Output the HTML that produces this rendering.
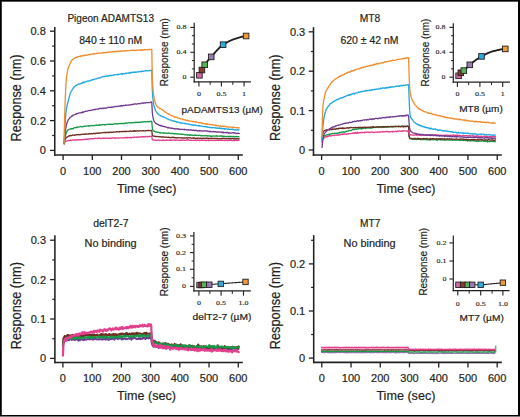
<!DOCTYPE html>
<html><head><meta charset="utf-8"><style>
html,body{margin:0;padding:0;background:#fff;}
svg{display:block;}
</style></head><body>
<svg width="520" height="417" viewBox="0 0 520 417">
<rect x="0" y="0" width="520" height="417" fill="#fff"/>
<line x1="54.75" y1="27" x2="54.75" y2="155.8" stroke="#231f20" stroke-width="1.55"/>
<line x1="54" y1="155" x2="242.8" y2="155" stroke="#231f20" stroke-width="1.65"/>
<line x1="49.95" y1="150.4" x2="54.75" y2="150.4" stroke="#231f20" stroke-width="1.3"/>
<text x="45.8" y="154.3" font-family="Liberation Sans" font-size="11" text-anchor="end" fill="#231f20" stroke="#231f20" stroke-width="0.2">0</text>
<line x1="49.95" y1="120.6" x2="54.75" y2="120.6" stroke="#231f20" stroke-width="1.3"/>
<text x="45.8" y="124.5" font-family="Liberation Sans" font-size="11" text-anchor="end" fill="#231f20" stroke="#231f20" stroke-width="0.2">0.2</text>
<line x1="49.95" y1="90.8" x2="54.75" y2="90.8" stroke="#231f20" stroke-width="1.3"/>
<text x="45.8" y="94.7" font-family="Liberation Sans" font-size="11" text-anchor="end" fill="#231f20" stroke="#231f20" stroke-width="0.2">0.4</text>
<line x1="49.95" y1="61" x2="54.75" y2="61" stroke="#231f20" stroke-width="1.3"/>
<text x="45.8" y="64.9" font-family="Liberation Sans" font-size="11" text-anchor="end" fill="#231f20" stroke="#231f20" stroke-width="0.2">0.6</text>
<line x1="49.95" y1="31.2" x2="54.75" y2="31.2" stroke="#231f20" stroke-width="1.3"/>
<text x="45.8" y="35.1" font-family="Liberation Sans" font-size="11" text-anchor="end" fill="#231f20" stroke="#231f20" stroke-width="0.2">0.8</text>
<line x1="52.15" y1="135.5" x2="54.75" y2="135.5" stroke="#231f20" stroke-width="1.2"/>
<line x1="52.15" y1="105.7" x2="54.75" y2="105.7" stroke="#231f20" stroke-width="1.2"/>
<line x1="52.15" y1="75.9" x2="54.75" y2="75.9" stroke="#231f20" stroke-width="1.2"/>
<line x1="52.15" y1="46.1" x2="54.75" y2="46.1" stroke="#231f20" stroke-width="1.2"/>
<line x1="63.1" y1="155" x2="63.1" y2="160" stroke="#231f20" stroke-width="1.3"/>
<text x="63.1" y="174.6" font-family="Liberation Sans" font-size="11" text-anchor="middle" fill="#231f20" stroke="#231f20" stroke-width="0.2">0</text>
<line x1="92.3" y1="155" x2="92.3" y2="160" stroke="#231f20" stroke-width="1.3"/>
<text x="92.3" y="174.6" font-family="Liberation Sans" font-size="11" text-anchor="middle" fill="#231f20" stroke="#231f20" stroke-width="0.2">100</text>
<line x1="121.5" y1="155" x2="121.5" y2="160" stroke="#231f20" stroke-width="1.3"/>
<text x="121.5" y="174.6" font-family="Liberation Sans" font-size="11" text-anchor="middle" fill="#231f20" stroke="#231f20" stroke-width="0.2">200</text>
<line x1="150.7" y1="155" x2="150.7" y2="160" stroke="#231f20" stroke-width="1.3"/>
<text x="150.7" y="174.6" font-family="Liberation Sans" font-size="11" text-anchor="middle" fill="#231f20" stroke="#231f20" stroke-width="0.2">300</text>
<line x1="179.9" y1="155" x2="179.9" y2="160" stroke="#231f20" stroke-width="1.3"/>
<text x="179.9" y="174.6" font-family="Liberation Sans" font-size="11" text-anchor="middle" fill="#231f20" stroke="#231f20" stroke-width="0.2">400</text>
<line x1="209.1" y1="155" x2="209.1" y2="160" stroke="#231f20" stroke-width="1.3"/>
<text x="209.1" y="174.6" font-family="Liberation Sans" font-size="11" text-anchor="middle" fill="#231f20" stroke="#231f20" stroke-width="0.2">500</text>
<line x1="238.3" y1="155" x2="238.3" y2="160" stroke="#231f20" stroke-width="1.3"/>
<text x="238.3" y="174.6" font-family="Liberation Sans" font-size="11" text-anchor="middle" fill="#231f20" stroke="#231f20" stroke-width="0.2">600</text>
<path d="M64.00,144.50 L64.50,142.93 L65.00,142.04 L65.50,141.49 L66.00,141.26 L66.50,140.94 L67.00,140.96 L67.50,141.05 L68.00,140.61 L68.50,140.49 L69.00,140.62 L69.50,140.53 L70.00,140.43 L70.50,140.20 L71.00,140.33 L71.50,140.43 L72.00,140.04 L72.50,140.17 L73.00,139.89 L73.50,139.98 L74.00,139.85 L74.50,140.12 L75.00,139.91 L75.50,140.17 L76.00,140.13 L76.50,140.04 L77.00,139.60 L77.50,139.93 L78.00,139.99 L78.50,139.99 L79.00,139.67 L79.50,139.83 L80.00,139.71 L80.50,139.71 L81.00,140.00 L81.50,139.62 L82.00,139.71 L82.50,139.82 L83.00,139.49 L83.50,139.52 L84.00,139.50 L84.50,139.43 L85.00,139.14 L85.50,139.32 L86.00,139.49 L86.50,138.91 L87.00,139.28 L87.50,139.09 L88.00,138.90 L88.50,139.33 L89.00,139.05 L89.50,138.65 L90.00,138.84 L90.50,138.88 L91.00,138.70 L91.50,138.82 L92.00,138.65 L92.50,138.75 L93.00,138.86 L93.50,138.45 L94.00,138.58 L94.50,138.44 L95.00,138.52 L95.50,138.27 L96.00,138.36 L96.50,138.41 L97.00,138.59 L97.50,138.62 L98.00,138.17 L98.50,138.25 L99.00,138.50 L99.50,138.01 L100.00,138.27 L100.50,138.33 L101.00,138.56 L101.50,138.45 L102.00,138.26 L102.50,138.24 L103.00,138.26 L103.50,138.57 L104.00,138.21 L104.50,138.22 L105.00,138.33 L105.50,138.24 L106.00,138.22 L106.50,138.04 L107.00,138.24 L107.50,138.15 L108.00,138.43 L108.50,138.33 L109.00,138.20 L109.50,138.32 L110.00,138.13 L110.50,138.37 L111.00,138.17 L111.50,138.27 L112.00,137.92 L112.50,138.21 L113.00,137.83 L113.50,137.76 L114.00,138.06 L114.50,137.94 L115.00,138.12 L115.50,138.49 L116.00,137.92 L116.50,137.95 L117.00,138.09 L117.50,138.13 L118.00,137.99 L118.50,137.98 L119.00,138.13 L119.50,138.08 L120.00,137.79 L120.50,137.94 L121.00,137.95 L121.50,137.74 L122.00,137.95 L122.50,137.74 L123.00,138.05 L123.50,137.89 L124.00,137.85 L124.50,137.71 L125.00,137.77 L125.50,137.41 L126.00,137.55 L126.50,137.79 L127.00,137.32 L127.50,137.83 L128.00,137.34 L128.50,137.77 L129.00,137.46 L129.50,137.73 L130.00,137.59 L130.50,137.26 L131.00,137.74 L131.50,137.75 L132.00,137.45 L132.50,137.39 L133.00,137.38 L133.50,137.21 L134.00,137.56 L134.50,137.23 L135.00,137.30 L135.50,137.14 L136.00,137.14 L136.50,136.99 L137.00,137.42 L137.50,137.14 L138.00,137.32 L138.50,137.12 L139.00,136.96 L139.50,137.00 L140.00,136.93 L140.50,137.01 L141.00,136.91 L141.50,136.90 L142.00,136.68 L142.50,136.75 L143.00,137.17 L143.50,136.72 L144.00,136.63 L144.50,136.85 L145.00,137.02 L145.50,136.47 L146.00,136.67 L146.50,136.57 L147.00,136.34 L147.50,136.76 L148.00,136.60 L148.50,136.59 L149.00,136.41 L149.50,136.60 L150.00,136.40 L150.50,136.44 L151.00,136.24 L151.50,136.20 L151.80,136.64 L152.30,139.60 L152.80,140.02 L153.30,139.99 L153.80,140.01 L154.30,140.24 L154.80,140.08 L155.30,140.12 L155.80,140.16 L156.30,140.38 L156.80,140.29 L157.30,140.24 L157.80,140.08 L158.30,139.93 L158.80,140.36 L159.30,140.36 L159.80,140.17 L160.30,140.29 L160.80,140.34 L161.30,140.35 L161.80,140.37 L162.30,140.12 L162.80,140.48 L163.30,139.98 L163.80,140.36 L164.30,140.30 L164.80,140.37 L165.30,140.55 L165.80,140.48 L166.30,140.01 L166.80,139.92 L167.30,140.37 L167.80,140.04 L168.30,140.22 L168.80,140.38 L169.30,139.93 L169.80,139.85 L170.30,140.28 L170.80,140.24 L171.30,140.19 L171.80,140.24 L172.30,140.08 L172.80,139.96 L173.30,140.21 L173.80,140.06 L174.30,139.94 L174.80,140.33 L175.30,140.23 L175.80,140.32 L176.30,140.07 L176.80,140.13 L177.30,140.07 L177.80,140.09 L178.30,140.29 L178.80,140.11 L179.30,140.32 L179.80,140.32 L180.30,140.62 L180.80,140.01 L181.30,140.42 L181.80,140.24 L182.30,140.26 L182.80,140.00 L183.30,140.18 L183.80,140.40 L184.30,140.25 L184.80,140.28 L185.30,140.22 L185.80,140.48 L186.30,140.27 L186.80,139.88 L187.30,140.15 L187.80,139.92 L188.30,139.69 L188.80,140.18 L189.30,140.52 L189.80,140.29 L190.30,140.07 L190.80,140.11 L191.30,140.49 L191.80,140.32 L192.30,140.30 L192.80,140.28 L193.30,140.30 L193.80,140.44 L194.30,140.39 L194.80,140.33 L195.30,140.11 L195.80,140.39 L196.30,140.18 L196.80,140.50 L197.30,140.07 L197.80,140.28 L198.30,140.30 L198.80,140.07 L199.30,140.62 L199.80,140.57 L200.30,140.23 L200.80,140.45 L201.30,140.38 L201.80,139.84 L202.30,140.36 L202.80,140.30 L203.30,140.33 L203.80,140.12 L204.30,140.27 L204.80,140.29 L205.30,140.54 L205.80,140.38 L206.30,140.32 L206.80,140.60 L207.30,140.23 L207.80,140.26 L208.30,140.00 L208.80,140.61 L209.30,140.51 L209.80,140.50 L210.30,140.46 L210.80,140.36 L211.30,140.38 L211.80,140.29 L212.30,140.30 L212.80,140.35 L213.30,140.61 L213.80,140.44 L214.30,140.33 L214.80,140.24 L215.30,140.23 L215.80,140.64 L216.30,140.44 L216.80,140.36 L217.30,140.29 L217.80,140.15 L218.30,140.34 L218.80,140.51 L219.30,140.29 L219.80,140.32 L220.30,140.32 L220.80,140.38 L221.30,140.08 L221.80,140.32 L222.30,140.21 L222.80,140.52 L223.30,140.23 L223.80,140.47 L224.30,140.64 L224.80,140.31 L225.30,140.26 L225.80,140.41 L226.30,140.37 L226.80,140.20 L227.30,140.46 L227.80,140.74 L228.30,140.33 L228.80,140.34 L229.30,140.19 L229.80,140.44 L230.30,140.16 L230.80,140.18 L231.30,140.61 L231.80,140.22 L232.30,140.58 L232.80,140.66 L233.30,140.43 L233.80,140.49 L234.30,140.74 L234.80,140.36 L235.30,140.29 L235.80,140.15 L236.30,140.40 L236.80,140.66 L237.30,140.57 L237.80,140.23 L238.30,140.24 L238.80,140.31 L239.30,140.45 L239.40,140.36" fill="none" stroke="#e23f8c" stroke-width="1.3" stroke-linejoin="round"/>
<path d="M64.00,144.04 L64.50,141.36 L65.00,139.77 L65.50,138.84 L66.00,138.13 L66.50,137.50 L67.00,137.15 L67.50,137.05 L68.00,136.56 L68.50,136.25 L69.00,135.77 L69.50,135.99 L70.00,135.44 L70.50,135.42 L71.00,135.73 L71.50,135.60 L72.00,135.36 L72.50,135.00 L73.00,135.16 L73.50,135.03 L74.00,135.21 L74.50,135.44 L75.00,135.01 L75.50,134.78 L76.00,134.67 L76.50,134.82 L77.00,134.76 L77.50,134.54 L78.00,134.73 L78.50,134.46 L79.00,134.83 L79.50,134.79 L80.00,134.75 L80.50,134.44 L81.00,134.58 L81.50,134.43 L82.00,134.35 L82.50,134.32 L83.00,134.11 L83.50,134.05 L84.00,134.42 L84.50,134.20 L85.00,134.24 L85.50,134.35 L86.00,133.82 L86.50,133.95 L87.00,134.09 L87.50,134.09 L88.00,133.91 L88.50,134.12 L89.00,133.93 L89.50,133.63 L90.00,133.64 L90.50,133.91 L91.00,133.81 L91.50,133.34 L92.00,133.88 L92.50,133.71 L93.00,133.80 L93.50,133.45 L94.00,133.43 L94.50,133.24 L95.00,133.86 L95.50,133.33 L96.00,133.61 L96.50,133.17 L97.00,133.27 L97.50,132.91 L98.00,133.10 L98.50,133.31 L99.00,132.87 L99.50,133.25 L100.00,133.08 L100.50,132.79 L101.00,132.85 L101.50,132.82 L102.00,132.86 L102.50,132.73 L103.00,132.64 L103.50,132.70 L104.00,132.53 L104.50,132.45 L105.00,132.64 L105.50,132.77 L106.00,132.30 L106.50,132.54 L107.00,132.39 L107.50,132.30 L108.00,132.60 L108.50,132.32 L109.00,132.65 L109.50,132.20 L110.00,132.38 L110.50,132.24 L111.00,132.11 L111.50,132.33 L112.00,132.16 L112.50,132.27 L113.00,132.12 L113.50,131.90 L114.00,132.05 L114.50,132.05 L115.00,132.19 L115.50,131.82 L116.00,131.95 L116.50,131.62 L117.00,132.02 L117.50,131.68 L118.00,131.53 L118.50,131.81 L119.00,132.00 L119.50,131.50 L120.00,131.55 L120.50,131.59 L121.00,131.50 L121.50,131.74 L122.00,131.51 L122.50,131.50 L123.00,131.71 L123.50,131.44 L124.00,131.64 L124.50,131.36 L125.00,131.29 L125.50,131.16 L126.00,131.80 L126.50,131.39 L127.00,131.47 L127.50,131.39 L128.00,131.41 L128.50,131.37 L129.00,131.68 L129.50,131.13 L130.00,131.01 L130.50,131.09 L131.00,131.01 L131.50,131.36 L132.00,131.36 L132.50,131.02 L133.00,130.92 L133.50,131.08 L134.00,131.38 L134.50,130.60 L135.00,131.18 L135.50,130.88 L136.00,131.24 L136.50,130.84 L137.00,130.96 L137.50,130.72 L138.00,130.80 L138.50,131.21 L139.00,131.08 L139.50,130.85 L140.00,130.74 L140.50,130.54 L141.00,130.79 L141.50,130.84 L142.00,130.81 L142.50,130.79 L143.00,130.59 L143.50,130.76 L144.00,130.75 L144.50,130.97 L145.00,131.06 L145.50,130.68 L146.00,130.55 L146.50,130.66 L147.00,130.55 L147.50,130.51 L148.00,130.61 L148.50,130.42 L149.00,130.70 L149.50,130.55 L150.00,130.60 L150.50,130.51 L151.00,130.39 L151.50,130.34 L151.80,130.46 L152.30,135.08 L152.80,135.95 L153.30,135.95 L153.80,136.35 L154.30,136.19 L154.80,136.39 L155.30,136.50 L155.80,136.22 L156.30,136.65 L156.80,136.70 L157.30,136.67 L157.80,136.66 L158.30,136.70 L158.80,136.62 L159.30,136.78 L159.80,136.76 L160.30,136.91 L160.80,136.71 L161.30,137.00 L161.80,137.01 L162.30,136.99 L162.80,136.97 L163.30,137.18 L163.80,136.81 L164.30,137.22 L164.80,137.21 L165.30,137.25 L165.80,137.29 L166.30,137.14 L166.80,137.23 L167.30,137.42 L167.80,137.41 L168.30,137.39 L168.80,137.11 L169.30,137.50 L169.80,137.64 L170.30,137.63 L170.80,137.51 L171.30,137.21 L171.80,137.68 L172.30,137.51 L172.80,137.10 L173.30,137.64 L173.80,137.33 L174.30,137.38 L174.80,137.52 L175.30,137.88 L175.80,137.60 L176.30,137.74 L176.80,138.02 L177.30,138.01 L177.80,137.72 L178.30,137.71 L178.80,137.54 L179.30,137.66 L179.80,137.88 L180.30,137.89 L180.80,137.85 L181.30,138.03 L181.80,137.72 L182.30,137.87 L182.80,138.02 L183.30,138.01 L183.80,138.11 L184.30,138.00 L184.80,137.89 L185.30,138.02 L185.80,137.79 L186.30,137.69 L186.80,138.10 L187.30,137.99 L187.80,138.07 L188.30,137.72 L188.80,137.97 L189.30,137.94 L189.80,137.91 L190.30,137.67 L190.80,138.02 L191.30,138.25 L191.80,138.17 L192.30,138.00 L192.80,138.12 L193.30,138.27 L193.80,137.65 L194.30,138.13 L194.80,138.26 L195.30,138.29 L195.80,138.49 L196.30,138.39 L196.80,138.25 L197.30,138.26 L197.80,138.36 L198.30,138.13 L198.80,138.22 L199.30,138.40 L199.80,138.60 L200.30,138.23 L200.80,138.25 L201.30,138.31 L201.80,138.52 L202.30,138.28 L202.80,138.56 L203.30,138.13 L203.80,138.27 L204.30,138.28 L204.80,138.46 L205.30,138.52 L205.80,138.07 L206.30,138.18 L206.80,138.41 L207.30,138.24 L207.80,138.09 L208.30,138.56 L208.80,138.47 L209.30,138.47 L209.80,138.31 L210.30,138.58 L210.80,138.36 L211.30,138.61 L211.80,138.25 L212.30,138.27 L212.80,138.47 L213.30,138.31 L213.80,138.56 L214.30,138.50 L214.80,138.29 L215.30,138.47 L215.80,138.40 L216.30,138.64 L216.80,138.36 L217.30,138.40 L217.80,138.71 L218.30,138.90 L218.80,138.86 L219.30,138.52 L219.80,138.55 L220.30,138.79 L220.80,138.50 L221.30,138.35 L221.80,138.55 L222.30,138.62 L222.80,138.39 L223.30,138.25 L223.80,138.30 L224.30,138.68 L224.80,138.43 L225.30,138.54 L225.80,138.61 L226.30,138.69 L226.80,138.52 L227.30,138.68 L227.80,138.43 L228.30,138.53 L228.80,138.42 L229.30,138.81 L229.80,138.61 L230.30,138.49 L230.80,138.56 L231.30,138.59 L231.80,138.76 L232.30,138.35 L232.80,138.46 L233.30,138.58 L233.80,139.11 L234.30,138.83 L234.80,138.64 L235.30,138.79 L235.80,139.04 L236.30,138.63 L236.80,138.61 L237.30,138.90 L237.80,138.78 L238.30,138.81 L238.80,138.60 L239.30,139.05 L239.40,139.01" fill="none" stroke="#6d2e20" stroke-width="1.3" stroke-linejoin="round"/>
<path d="M64.00,144.10 L64.50,140.08 L65.00,137.02 L65.50,135.61 L66.00,133.79 L66.50,132.45 L67.00,131.38 L67.50,130.43 L68.00,129.75 L68.50,129.81 L69.00,129.38 L69.50,129.27 L70.00,129.07 L70.50,128.98 L71.00,128.49 L71.50,129.01 L72.00,128.71 L72.50,128.75 L73.00,128.78 L73.50,128.30 L74.00,127.85 L74.50,127.88 L75.00,127.69 L75.50,127.69 L76.00,127.67 L76.50,127.17 L77.00,127.47 L77.50,127.03 L78.00,127.24 L78.50,127.06 L79.00,126.93 L79.50,126.88 L80.00,126.71 L80.50,126.61 L81.00,126.34 L81.50,126.56 L82.00,126.83 L82.50,126.79 L83.00,126.62 L83.50,126.45 L84.00,126.15 L84.50,126.48 L85.00,126.16 L85.50,126.12 L86.00,126.03 L86.50,126.06 L87.00,125.92 L87.50,125.95 L88.00,125.73 L88.50,125.82 L89.00,126.26 L89.50,125.80 L90.00,125.73 L90.50,125.83 L91.00,125.83 L91.50,125.46 L92.00,125.59 L92.50,125.75 L93.00,125.60 L93.50,125.54 L94.00,125.76 L94.50,125.32 L95.00,125.41 L95.50,125.27 L96.00,125.59 L96.50,124.93 L97.00,125.13 L97.50,125.11 L98.00,125.29 L98.50,125.25 L99.00,125.35 L99.50,124.78 L100.00,125.16 L100.50,124.94 L101.00,124.83 L101.50,125.02 L102.00,124.72 L102.50,124.47 L103.00,124.74 L103.50,124.51 L104.00,124.62 L104.50,124.77 L105.00,124.73 L105.50,124.92 L106.00,124.56 L106.50,124.29 L107.00,124.39 L107.50,124.33 L108.00,124.24 L108.50,124.50 L109.00,124.27 L109.50,124.00 L110.00,124.45 L110.50,124.27 L111.00,124.32 L111.50,124.24 L112.00,124.30 L112.50,124.16 L113.00,124.34 L113.50,124.16 L114.00,124.12 L114.50,124.08 L115.00,123.71 L115.50,123.91 L116.00,123.86 L116.50,123.91 L117.00,123.59 L117.50,124.10 L118.00,123.79 L118.50,123.52 L119.00,123.39 L119.50,123.61 L120.00,123.61 L120.50,123.47 L121.00,123.58 L121.50,123.41 L122.00,123.59 L122.50,123.32 L123.00,123.41 L123.50,123.56 L124.00,123.81 L124.50,123.13 L125.00,123.19 L125.50,123.08 L126.00,123.34 L126.50,122.95 L127.00,123.03 L127.50,123.08 L128.00,122.87 L128.50,122.84 L129.00,122.89 L129.50,122.56 L130.00,122.64 L130.50,122.79 L131.00,122.85 L131.50,122.75 L132.00,122.43 L132.50,122.63 L133.00,122.82 L133.50,122.73 L134.00,122.58 L134.50,122.40 L135.00,122.64 L135.50,122.38 L136.00,122.24 L136.50,122.27 L137.00,122.63 L137.50,122.37 L138.00,122.51 L138.50,122.17 L139.00,122.39 L139.50,122.08 L140.00,122.12 L140.50,122.56 L141.00,122.21 L141.50,121.95 L142.00,121.99 L142.50,122.02 L143.00,122.15 L143.50,121.80 L144.00,121.54 L144.50,121.77 L145.00,121.79 L145.50,121.77 L146.00,121.95 L146.50,121.73 L147.00,121.79 L147.50,121.41 L148.00,121.72 L148.50,121.91 L149.00,121.64 L149.50,121.51 L150.00,121.45 L150.50,121.71 L151.00,121.19 L151.50,121.30 L151.80,121.38 L152.30,128.00 L152.80,129.93 L153.30,130.66 L153.80,131.17 L154.30,131.41 L154.80,131.44 L155.30,131.80 L155.80,132.09 L156.30,131.87 L156.80,132.10 L157.30,132.34 L157.80,132.11 L158.30,132.41 L158.80,132.25 L159.30,132.70 L159.80,132.98 L160.30,132.98 L160.80,132.63 L161.30,132.86 L161.80,132.80 L162.30,132.85 L162.80,133.16 L163.30,132.68 L163.80,133.15 L164.30,132.99 L164.80,133.28 L165.30,133.10 L165.80,132.97 L166.30,133.18 L166.80,133.29 L167.30,133.19 L167.80,133.30 L168.30,133.15 L168.80,132.89 L169.30,133.47 L169.80,133.46 L170.30,133.39 L170.80,133.41 L171.30,133.61 L171.80,133.38 L172.30,133.36 L172.80,133.49 L173.30,133.77 L173.80,133.34 L174.30,133.83 L174.80,133.54 L175.30,133.50 L175.80,133.96 L176.30,133.76 L176.80,133.58 L177.30,133.80 L177.80,134.08 L178.30,134.17 L178.80,133.92 L179.30,134.12 L179.80,134.22 L180.30,134.02 L180.80,134.25 L181.30,134.23 L181.80,134.18 L182.30,134.24 L182.80,134.38 L183.30,134.42 L183.80,134.36 L184.30,134.43 L184.80,134.75 L185.30,134.63 L185.80,134.80 L186.30,134.90 L186.80,134.83 L187.30,135.17 L187.80,134.66 L188.30,134.99 L188.80,134.83 L189.30,135.26 L189.80,135.26 L190.30,134.64 L190.80,134.86 L191.30,135.18 L191.80,135.24 L192.30,135.26 L192.80,135.15 L193.30,135.28 L193.80,135.34 L194.30,135.24 L194.80,135.47 L195.30,134.91 L195.80,135.45 L196.30,135.18 L196.80,135.56 L197.30,135.37 L197.80,135.28 L198.30,135.53 L198.80,135.32 L199.30,135.34 L199.80,135.25 L200.30,135.55 L200.80,135.67 L201.30,135.78 L201.80,135.59 L202.30,135.83 L202.80,135.67 L203.30,135.67 L203.80,135.81 L204.30,135.91 L204.80,135.68 L205.30,135.72 L205.80,135.75 L206.30,135.82 L206.80,135.66 L207.30,136.02 L207.80,135.79 L208.30,135.96 L208.80,135.75 L209.30,135.98 L209.80,136.00 L210.30,135.87 L210.80,136.33 L211.30,136.05 L211.80,136.32 L212.30,136.19 L212.80,135.91 L213.30,135.98 L213.80,136.14 L214.30,136.09 L214.80,136.10 L215.30,136.06 L215.80,135.80 L216.30,136.10 L216.80,135.76 L217.30,136.24 L217.80,136.06 L218.30,136.07 L218.80,136.18 L219.30,136.28 L219.80,135.99 L220.30,135.94 L220.80,136.08 L221.30,135.92 L221.80,136.13 L222.30,136.60 L222.80,136.14 L223.30,136.46 L223.80,136.11 L224.30,136.42 L224.80,136.32 L225.30,136.38 L225.80,136.51 L226.30,136.73 L226.80,136.46 L227.30,136.46 L227.80,136.28 L228.30,136.57 L228.80,136.43 L229.30,136.64 L229.80,136.49 L230.30,136.82 L230.80,136.16 L231.30,136.48 L231.80,136.70 L232.30,136.49 L232.80,136.42 L233.30,136.53 L233.80,136.34 L234.30,136.62 L234.80,137.05 L235.30,136.82 L235.80,136.43 L236.30,136.48 L236.80,136.58 L237.30,136.84 L237.80,136.52 L238.30,136.55 L238.80,136.85 L239.30,136.85 L239.40,136.63" fill="none" stroke="#17994a" stroke-width="1.3" stroke-linejoin="round"/>
<path d="M64.00,143.80 L64.50,139.10 L65.00,134.42 L65.50,129.65 L66.00,127.13 L66.50,124.62 L67.00,123.00 L67.50,121.82 L68.00,120.58 L68.50,119.30 L69.00,118.96 L69.50,118.40 L70.00,117.54 L70.50,117.04 L71.00,116.78 L71.50,116.14 L72.00,116.35 L72.50,115.34 L73.00,115.28 L73.50,115.15 L74.00,114.90 L74.50,114.74 L75.00,114.54 L75.50,114.25 L76.00,114.31 L76.50,113.54 L77.00,113.75 L77.50,113.46 L78.00,113.46 L78.50,113.32 L79.00,112.97 L79.50,112.87 L80.00,112.99 L80.50,112.77 L81.00,112.45 L81.50,112.80 L82.00,112.72 L82.50,111.90 L83.00,112.09 L83.50,112.36 L84.00,111.92 L84.50,111.70 L85.00,111.50 L85.50,111.32 L86.00,111.27 L86.50,111.09 L87.00,111.21 L87.50,110.90 L88.00,110.78 L88.50,110.54 L89.00,110.64 L89.50,110.38 L90.00,110.41 L90.50,110.53 L91.00,110.31 L91.50,110.24 L92.00,110.11 L92.50,109.96 L93.00,109.84 L93.50,109.71 L94.00,109.81 L94.50,109.39 L95.00,109.74 L95.50,109.42 L96.00,109.19 L96.50,109.16 L97.00,109.04 L97.50,109.11 L98.00,108.88 L98.50,109.13 L99.00,108.71 L99.50,108.37 L100.00,108.57 L100.50,108.27 L101.00,108.55 L101.50,108.67 L102.00,108.53 L102.50,108.10 L103.00,108.14 L103.50,108.52 L104.00,108.19 L104.50,108.07 L105.00,108.19 L105.50,108.38 L106.00,108.10 L106.50,107.83 L107.00,107.80 L107.50,107.78 L108.00,107.49 L108.50,107.35 L109.00,107.48 L109.50,107.24 L110.00,107.34 L110.50,107.30 L111.00,107.64 L111.50,107.00 L112.00,107.07 L112.50,107.00 L113.00,107.04 L113.50,107.09 L114.00,106.75 L114.50,106.62 L115.00,106.41 L115.50,106.48 L116.00,106.68 L116.50,106.53 L117.00,106.27 L117.50,106.32 L118.00,106.33 L118.50,106.35 L119.00,106.09 L119.50,106.09 L120.00,105.74 L120.50,105.80 L121.00,106.24 L121.50,105.49 L122.00,105.75 L122.50,105.79 L123.00,105.62 L123.50,105.48 L124.00,105.55 L124.50,105.49 L125.00,105.41 L125.50,105.02 L126.00,105.27 L126.50,105.08 L127.00,105.07 L127.50,105.14 L128.00,105.15 L128.50,105.14 L129.00,104.82 L129.50,105.01 L130.00,104.99 L130.50,104.92 L131.00,104.90 L131.50,104.56 L132.00,104.49 L132.50,104.61 L133.00,104.15 L133.50,104.37 L134.00,104.17 L134.50,104.14 L135.00,103.83 L135.50,103.92 L136.00,104.01 L136.50,104.11 L137.00,104.07 L137.50,103.81 L138.00,103.73 L138.50,103.55 L139.00,103.71 L139.50,103.53 L140.00,103.62 L140.50,103.77 L141.00,103.38 L141.50,103.06 L142.00,103.11 L142.50,102.94 L143.00,102.93 L143.50,103.32 L144.00,103.06 L144.50,102.69 L145.00,103.02 L145.50,103.07 L146.00,102.72 L146.50,102.60 L147.00,102.60 L147.50,102.65 L148.00,102.66 L148.50,102.70 L149.00,102.64 L149.50,102.58 L150.00,102.55 L150.50,102.37 L151.00,101.92 L151.50,102.11 L151.80,102.16 L152.30,112.16 L152.80,116.39 L153.30,118.53 L153.80,120.48 L154.30,121.44 L154.80,122.19 L155.30,122.96 L155.80,123.49 L156.30,123.77 L156.80,123.59 L157.30,124.19 L157.80,124.47 L158.30,124.59 L158.80,125.00 L159.30,125.36 L159.80,125.23 L160.30,125.27 L160.80,126.00 L161.30,125.71 L161.80,125.72 L162.30,126.13 L162.80,126.31 L163.30,126.25 L163.80,126.66 L164.30,126.56 L164.80,126.61 L165.30,126.93 L165.80,127.16 L166.30,127.02 L166.80,127.31 L167.30,127.34 L167.80,127.97 L168.30,127.44 L168.80,127.91 L169.30,127.75 L169.80,127.82 L170.30,128.07 L170.80,128.18 L171.30,128.33 L171.80,128.24 L172.30,128.15 L172.80,128.24 L173.30,128.50 L173.80,128.58 L174.30,128.79 L174.80,128.68 L175.30,128.86 L175.80,129.00 L176.30,128.81 L176.80,128.57 L177.30,128.68 L177.80,128.69 L178.30,129.29 L178.80,128.90 L179.30,129.32 L179.80,129.25 L180.30,129.50 L180.80,129.42 L181.30,129.27 L181.80,129.30 L182.30,129.39 L182.80,129.46 L183.30,129.37 L183.80,129.51 L184.30,129.84 L184.80,129.29 L185.30,129.69 L185.80,129.52 L186.30,129.76 L186.80,129.92 L187.30,129.80 L187.80,129.99 L188.30,129.60 L188.80,130.12 L189.30,129.85 L189.80,130.11 L190.30,130.07 L190.80,129.61 L191.30,129.97 L191.80,130.19 L192.30,130.46 L192.80,130.27 L193.30,130.30 L193.80,130.04 L194.30,130.59 L194.80,130.69 L195.30,130.41 L195.80,130.40 L196.30,130.18 L196.80,130.67 L197.30,131.03 L197.80,130.71 L198.30,130.85 L198.80,130.76 L199.30,130.52 L199.80,130.98 L200.30,130.55 L200.80,130.77 L201.30,130.90 L201.80,131.04 L202.30,130.99 L202.80,131.03 L203.30,130.86 L203.80,130.80 L204.30,131.08 L204.80,130.97 L205.30,130.90 L205.80,130.95 L206.30,131.12 L206.80,130.91 L207.30,131.04 L207.80,131.02 L208.30,131.39 L208.80,131.46 L209.30,131.79 L209.80,131.19 L210.30,131.37 L210.80,131.70 L211.30,131.53 L211.80,131.54 L212.30,131.94 L212.80,131.61 L213.30,131.50 L213.80,131.50 L214.30,131.84 L214.80,131.86 L215.30,131.60 L215.80,131.70 L216.30,132.01 L216.80,132.05 L217.30,131.87 L217.80,132.13 L218.30,132.15 L218.80,131.76 L219.30,132.06 L219.80,132.22 L220.30,132.08 L220.80,131.83 L221.30,132.20 L221.80,132.42 L222.30,132.60 L222.80,131.95 L223.30,132.85 L223.80,132.21 L224.30,132.62 L224.80,132.70 L225.30,132.69 L225.80,132.57 L226.30,132.37 L226.80,132.72 L227.30,132.51 L227.80,132.22 L228.30,133.22 L228.80,132.87 L229.30,133.10 L229.80,132.64 L230.30,133.10 L230.80,133.15 L231.30,133.18 L231.80,132.93 L232.30,132.74 L232.80,132.96 L233.30,132.63 L233.80,132.75 L234.30,133.10 L234.80,132.94 L235.30,133.12 L235.80,133.16 L236.30,133.56 L236.80,133.47 L237.30,133.26 L237.80,133.52 L238.30,133.19 L238.80,133.30 L239.30,133.56 L239.40,133.18" fill="none" stroke="#6f3a8f" stroke-width="1.3" stroke-linejoin="round"/>
<path d="M64.00,142.95 L64.50,133.64 L65.00,126.02 L65.50,118.32 L66.00,111.86 L66.50,108.72 L67.00,106.08 L67.50,103.79 L68.00,101.51 L68.50,99.81 L69.00,97.96 L69.50,95.84 L70.00,94.07 L70.50,93.01 L71.00,91.74 L71.50,91.00 L72.00,90.05 L72.50,89.27 L73.00,88.64 L73.50,87.80 L74.00,87.27 L74.50,86.53 L75.00,86.32 L75.50,85.74 L76.00,85.62 L76.50,85.16 L77.00,85.06 L77.50,84.86 L78.00,84.28 L78.50,84.17 L79.00,83.93 L79.50,84.03 L80.00,84.01 L80.50,83.67 L81.00,83.28 L81.50,83.43 L82.00,82.72 L82.50,83.09 L83.00,82.53 L83.50,81.97 L84.00,82.78 L84.50,82.42 L85.00,81.78 L85.50,81.84 L86.00,81.62 L86.50,81.53 L87.00,81.10 L87.50,81.11 L88.00,81.17 L88.50,80.99 L89.00,81.03 L89.50,80.70 L90.00,80.97 L90.50,80.29 L91.00,80.33 L91.50,79.81 L92.00,79.79 L92.50,80.12 L93.00,79.58 L93.50,79.71 L94.00,79.47 L94.50,79.15 L95.00,79.14 L95.50,78.96 L96.00,78.82 L96.50,78.88 L97.00,78.70 L97.50,78.31 L98.00,78.09 L98.50,78.13 L99.00,77.90 L99.50,77.93 L100.00,78.07 L100.50,77.58 L101.00,77.27 L101.50,77.10 L102.00,76.83 L102.50,76.69 L103.00,76.55 L103.50,76.54 L104.00,76.42 L104.50,76.53 L105.00,76.23 L105.50,76.17 L106.00,75.90 L106.50,76.32 L107.00,76.04 L107.50,76.19 L108.00,75.93 L108.50,75.98 L109.00,75.59 L109.50,75.69 L110.00,75.98 L110.50,75.20 L111.00,75.57 L111.50,75.60 L112.00,75.30 L112.50,75.30 L113.00,75.32 L113.50,74.91 L114.00,75.04 L114.50,74.74 L115.00,74.71 L115.50,74.66 L116.00,74.68 L116.50,74.67 L117.00,74.66 L117.50,74.24 L118.00,74.80 L118.50,74.58 L119.00,74.43 L119.50,74.16 L120.00,74.14 L120.50,74.19 L121.00,74.10 L121.50,73.64 L122.00,74.02 L122.50,74.36 L123.00,73.41 L123.50,73.87 L124.00,73.68 L124.50,73.53 L125.00,73.73 L125.50,73.20 L126.00,73.38 L126.50,73.55 L127.00,73.18 L127.50,73.07 L128.00,73.11 L128.50,72.94 L129.00,73.24 L129.50,72.72 L130.00,72.99 L130.50,72.53 L131.00,72.82 L131.50,72.61 L132.00,72.09 L132.50,72.50 L133.00,72.24 L133.50,72.30 L134.00,72.60 L134.50,72.05 L135.00,71.99 L135.50,72.39 L136.00,72.09 L136.50,72.29 L137.00,72.00 L137.50,71.72 L138.00,71.81 L138.50,71.99 L139.00,71.87 L139.50,71.64 L140.00,71.58 L140.50,71.49 L141.00,71.35 L141.50,71.75 L142.00,71.34 L142.50,71.07 L143.00,71.13 L143.50,71.29 L144.00,71.22 L144.50,71.01 L145.00,70.86 L145.50,70.93 L146.00,70.55 L146.50,70.56 L147.00,70.90 L147.50,70.60 L148.00,70.70 L148.50,70.80 L149.00,70.64 L149.50,70.46 L150.00,70.80 L150.50,70.47 L151.00,70.22 L151.50,70.37 L151.80,70.28 L152.30,89.99 L152.80,97.69 L153.30,101.76 L153.80,104.97 L154.30,107.04 L154.80,108.64 L155.30,109.73 L155.80,111.03 L156.30,111.96 L156.80,112.72 L157.30,113.10 L157.80,113.94 L158.30,114.03 L158.80,114.59 L159.30,115.21 L159.80,115.14 L160.30,115.45 L160.80,116.01 L161.30,115.99 L161.80,116.24 L162.30,116.58 L162.80,116.96 L163.30,116.59 L163.80,117.07 L164.30,117.27 L164.80,117.48 L165.30,117.76 L165.80,117.99 L166.30,118.42 L166.80,118.42 L167.30,118.83 L167.80,119.09 L168.30,119.09 L168.80,119.45 L169.30,119.93 L169.80,119.88 L170.30,119.88 L170.80,120.17 L171.30,120.19 L171.80,120.58 L172.30,120.85 L172.80,120.69 L173.30,120.96 L173.80,121.35 L174.30,121.19 L174.80,121.45 L175.30,121.36 L175.80,121.53 L176.30,121.71 L176.80,122.31 L177.30,121.97 L177.80,122.06 L178.30,122.17 L178.80,122.35 L179.30,122.60 L179.80,122.62 L180.30,123.06 L180.80,122.84 L181.30,123.16 L181.80,123.05 L182.30,123.21 L182.80,122.93 L183.30,123.27 L183.80,123.37 L184.30,123.44 L184.80,123.19 L185.30,123.83 L185.80,123.69 L186.30,123.78 L186.80,123.90 L187.30,124.00 L187.80,124.20 L188.30,123.99 L188.80,124.14 L189.30,124.45 L189.80,124.51 L190.30,124.51 L190.80,124.56 L191.30,124.60 L191.80,124.82 L192.30,125.13 L192.80,124.81 L193.30,125.35 L193.80,125.31 L194.30,125.16 L194.80,125.46 L195.30,125.13 L195.80,125.16 L196.30,125.32 L196.80,125.55 L197.30,125.64 L197.80,125.68 L198.30,125.86 L198.80,125.53 L199.30,126.07 L199.80,125.80 L200.30,126.00 L200.80,126.12 L201.30,126.05 L201.80,126.08 L202.30,126.21 L202.80,126.46 L203.30,126.63 L203.80,126.69 L204.30,126.47 L204.80,126.57 L205.30,126.61 L205.80,126.92 L206.30,126.54 L206.80,127.19 L207.30,126.94 L207.80,126.94 L208.30,127.20 L208.80,127.39 L209.30,127.32 L209.80,127.51 L210.30,127.40 L210.80,127.65 L211.30,127.71 L211.80,127.52 L212.30,127.86 L212.80,127.68 L213.30,127.72 L213.80,127.59 L214.30,127.76 L214.80,128.00 L215.30,127.68 L215.80,128.08 L216.30,128.08 L216.80,128.12 L217.30,127.72 L217.80,128.15 L218.30,128.33 L218.80,128.13 L219.30,128.33 L219.80,127.93 L220.30,128.53 L220.80,128.34 L221.30,128.66 L221.80,128.22 L222.30,128.72 L222.80,128.60 L223.30,128.84 L223.80,128.57 L224.30,128.67 L224.80,129.23 L225.30,128.72 L225.80,128.79 L226.30,128.91 L226.80,128.82 L227.30,129.26 L227.80,129.40 L228.30,129.00 L228.80,128.86 L229.30,129.42 L229.80,129.45 L230.30,129.44 L230.80,129.54 L231.30,129.22 L231.80,129.39 L232.30,129.21 L232.80,129.24 L233.30,129.71 L233.80,129.46 L234.30,130.03 L234.80,129.67 L235.30,129.58 L235.80,129.87 L236.30,130.09 L236.80,129.89 L237.30,129.63 L237.80,129.95 L238.30,130.17 L238.80,129.87 L239.30,129.85 L239.40,130.18" fill="none" stroke="#1ca8e0" stroke-width="1.3" stroke-linejoin="round"/>
<path d="M64.00,144.03 L64.50,120.69 L65.00,105.15 L65.50,92.93 L66.00,83.35 L66.50,77.64 L67.00,73.91 L67.50,71.12 L68.00,68.74 L68.50,67.49 L69.00,66.16 L69.50,64.77 L70.00,63.70 L70.50,62.41 L71.00,61.52 L71.50,61.12 L72.00,60.12 L72.50,59.35 L73.00,59.45 L73.50,58.74 L74.00,58.49 L74.50,58.01 L75.00,57.78 L75.50,57.58 L76.00,57.53 L76.50,57.47 L77.00,56.82 L77.50,57.21 L78.00,56.70 L78.50,56.57 L79.00,56.74 L79.50,56.46 L80.00,56.05 L80.50,56.53 L81.00,55.91 L81.50,55.99 L82.00,55.86 L82.50,55.97 L83.00,55.52 L83.50,55.68 L84.00,55.27 L84.50,55.51 L85.00,55.08 L85.50,55.06 L86.00,55.38 L86.50,55.02 L87.00,54.90 L87.50,55.21 L88.00,54.80 L88.50,54.51 L89.00,54.72 L89.50,54.31 L90.00,54.66 L90.50,54.60 L91.00,54.22 L91.50,54.14 L92.00,54.22 L92.50,54.13 L93.00,53.88 L93.50,54.10 L94.00,53.56 L94.50,53.79 L95.00,53.73 L95.50,53.69 L96.00,53.72 L96.50,53.38 L97.00,53.64 L97.50,53.44 L98.00,53.29 L98.50,53.10 L99.00,53.06 L99.50,53.28 L100.00,52.98 L100.50,53.10 L101.00,53.21 L101.50,53.14 L102.00,53.18 L102.50,52.78 L103.00,52.58 L103.50,52.90 L104.00,52.71 L104.50,52.79 L105.00,52.54 L105.50,52.69 L106.00,52.57 L106.50,52.49 L107.00,52.40 L107.50,52.32 L108.00,52.24 L108.50,52.18 L109.00,52.27 L109.50,51.95 L110.00,52.30 L110.50,51.92 L111.00,52.06 L111.50,51.82 L112.00,51.75 L112.50,52.11 L113.00,51.64 L113.50,51.42 L114.00,51.48 L114.50,51.50 L115.00,51.91 L115.50,51.51 L116.00,51.60 L116.50,51.21 L117.00,51.42 L117.50,51.43 L118.00,51.60 L118.50,51.11 L119.00,51.31 L119.50,51.22 L120.00,50.94 L120.50,51.09 L121.00,51.01 L121.50,50.60 L122.00,51.10 L122.50,51.05 L123.00,50.84 L123.50,50.65 L124.00,51.12 L124.50,50.87 L125.00,50.98 L125.50,51.01 L126.00,50.64 L126.50,50.84 L127.00,50.62 L127.50,50.63 L128.00,50.59 L128.50,50.58 L129.00,50.75 L129.50,50.54 L130.00,50.47 L130.50,50.42 L131.00,50.50 L131.50,50.25 L132.00,50.29 L132.50,50.35 L133.00,50.23 L133.50,50.28 L134.00,50.17 L134.50,50.61 L135.00,50.46 L135.50,50.28 L136.00,50.17 L136.50,50.54 L137.00,50.18 L137.50,50.09 L138.00,50.13 L138.50,50.11 L139.00,50.28 L139.50,50.00 L140.00,50.36 L140.50,49.80 L141.00,50.06 L141.50,49.74 L142.00,50.22 L142.50,49.81 L143.00,49.84 L143.50,50.00 L144.00,50.03 L144.50,49.59 L145.00,49.70 L145.50,49.49 L146.00,49.75 L146.50,49.69 L147.00,49.62 L147.50,49.54 L148.00,49.57 L148.50,49.49 L149.00,49.70 L149.50,49.86 L150.00,49.22 L150.50,49.53 L151.00,49.45 L151.50,49.60 L151.80,49.33 L152.30,77.11 L152.80,87.42 L153.30,92.72 L153.80,96.29 L154.30,99.14 L154.80,101.16 L155.30,102.58 L155.80,104.23 L156.30,105.14 L156.80,105.79 L157.30,106.57 L157.80,107.10 L158.30,107.09 L158.80,107.52 L159.30,108.29 L159.80,108.60 L160.30,108.54 L160.80,108.78 L161.30,109.21 L161.80,109.57 L162.30,109.72 L162.80,110.36 L163.30,110.47 L163.80,110.83 L164.30,111.56 L164.80,111.61 L165.30,112.05 L165.80,112.50 L166.30,112.86 L166.80,112.96 L167.30,113.33 L167.80,113.47 L168.30,114.22 L168.80,114.30 L169.30,114.26 L169.80,114.72 L170.30,115.10 L170.80,115.30 L171.30,115.78 L171.80,115.93 L172.30,115.81 L172.80,116.10 L173.30,116.09 L173.80,116.57 L174.30,116.74 L174.80,117.39 L175.30,117.10 L175.80,116.89 L176.30,117.32 L176.80,117.64 L177.30,117.56 L177.80,117.79 L178.30,118.05 L178.80,118.33 L179.30,118.40 L179.80,118.42 L180.30,118.87 L180.80,118.77 L181.30,118.92 L181.80,118.90 L182.30,119.14 L182.80,119.54 L183.30,119.26 L183.80,119.66 L184.30,119.93 L184.80,119.85 L185.30,120.08 L185.80,119.95 L186.30,120.50 L186.80,120.57 L187.30,120.52 L187.80,120.27 L188.30,120.50 L188.80,120.96 L189.30,121.18 L189.80,121.02 L190.30,121.29 L190.80,121.04 L191.30,121.21 L191.80,121.33 L192.30,121.49 L192.80,121.23 L193.30,121.76 L193.80,121.91 L194.30,121.55 L194.80,121.60 L195.30,121.99 L195.80,121.90 L196.30,121.68 L196.80,122.33 L197.30,122.30 L197.80,122.28 L198.30,122.83 L198.80,122.57 L199.30,122.50 L199.80,122.74 L200.30,122.63 L200.80,122.78 L201.30,123.08 L201.80,123.00 L202.30,123.11 L202.80,123.59 L203.30,123.53 L203.80,123.62 L204.30,123.66 L204.80,123.75 L205.30,124.01 L205.80,123.84 L206.30,124.26 L206.80,123.85 L207.30,124.06 L207.80,123.95 L208.30,124.22 L208.80,124.46 L209.30,124.71 L209.80,124.41 L210.30,124.62 L210.80,124.63 L211.30,124.64 L211.80,124.64 L212.30,124.94 L212.80,124.69 L213.30,125.09 L213.80,125.15 L214.30,125.10 L214.80,125.10 L215.30,125.10 L215.80,125.75 L216.30,125.24 L216.80,125.83 L217.30,125.72 L217.80,125.61 L218.30,125.53 L218.80,125.99 L219.30,126.18 L219.80,125.76 L220.30,125.93 L220.80,126.24 L221.30,126.17 L221.80,126.53 L222.30,126.12 L222.80,126.38 L223.30,126.11 L223.80,126.77 L224.30,126.32 L224.80,126.11 L225.30,126.54 L225.80,126.59 L226.30,127.01 L226.80,126.66 L227.30,126.77 L227.80,126.93 L228.30,127.16 L228.80,126.92 L229.30,127.17 L229.80,127.12 L230.30,127.03 L230.80,127.14 L231.30,127.18 L231.80,127.06 L232.30,127.49 L232.80,127.07 L233.30,127.58 L233.80,127.58 L234.30,127.44 L234.80,127.37 L235.30,127.51 L235.80,127.68 L236.30,127.77 L236.80,127.73 L237.30,127.90 L237.80,127.67 L238.30,127.85 L238.80,127.57 L239.30,128.03 L239.40,127.93" fill="none" stroke="#f08c2e" stroke-width="1.3" stroke-linejoin="round"/>
<line x1="194.2" y1="22.8" x2="194.2" y2="82.4" stroke="#231f20" stroke-width="1.2"/>
<line x1="193.6" y1="81.8" x2="250.9" y2="81.8" stroke="#231f20" stroke-width="1.2"/>
<line x1="190.3" y1="77.2" x2="194.2" y2="77.2" stroke="#231f20" stroke-width="1.1"/>
<text x="0" y="0" font-family="Liberation Serif" font-size="8" text-anchor="end" fill="#231f20" stroke="#231f20" stroke-width="0.15" transform="translate(186.6 79.1) scale(1 0.78)">0</text>
<line x1="190.3" y1="52.3" x2="194.2" y2="52.3" stroke="#231f20" stroke-width="1.1"/>
<text x="0" y="0" font-family="Liberation Serif" font-size="8" text-anchor="end" fill="#231f20" stroke="#231f20" stroke-width="0.15" transform="translate(186.6 54.2) scale(1 0.78)">0.4</text>
<line x1="190.3" y1="27.4" x2="194.2" y2="27.4" stroke="#231f20" stroke-width="1.1"/>
<text x="0" y="0" font-family="Liberation Serif" font-size="8" text-anchor="end" fill="#231f20" stroke="#231f20" stroke-width="0.15" transform="translate(186.6 29.3) scale(1 0.78)">0.8</text>
<line x1="191.9" y1="68.9" x2="194.2" y2="68.9" stroke="#231f20" stroke-width="1.0"/>
<line x1="191.9" y1="60.6" x2="194.2" y2="60.6" stroke="#231f20" stroke-width="1.0"/>
<line x1="191.9" y1="44" x2="194.2" y2="44" stroke="#231f20" stroke-width="1.0"/>
<line x1="191.9" y1="35.7" x2="194.2" y2="35.7" stroke="#231f20" stroke-width="1.0"/>
<line x1="198.9" y1="81.8" x2="198.9" y2="86.6" stroke="#231f20" stroke-width="1.1"/>
<text x="0" y="0" font-family="Liberation Serif" font-size="8" text-anchor="middle" fill="#231f20" stroke="#231f20" stroke-width="0.15" transform="translate(198.9 95.6) scale(1 0.78)">0</text>
<line x1="221.4" y1="81.8" x2="221.4" y2="86.6" stroke="#231f20" stroke-width="1.1"/>
<text x="0" y="0" font-family="Liberation Serif" font-size="8" text-anchor="middle" fill="#231f20" stroke="#231f20" stroke-width="0.15" transform="translate(221.4 95.6) scale(1 0.78)">0.5</text>
<line x1="244.1" y1="81.8" x2="244.1" y2="86.6" stroke="#231f20" stroke-width="1.1"/>
<text x="0" y="0" font-family="Liberation Serif" font-size="8" text-anchor="middle" fill="#231f20" stroke="#231f20" stroke-width="0.15" transform="translate(244.1 95.6) scale(1 0.78)">1</text>
<line x1="210.2" y1="81.8" x2="210.2" y2="84.8" stroke="#231f20" stroke-width="1.0"/>
<line x1="232.8" y1="81.8" x2="232.8" y2="84.8" stroke="#231f20" stroke-width="1.0"/>
<path d="M198.90,77.60 L199.70,74.42 L200.50,72.57 L201.30,71.11 L202.10,69.60 L202.90,67.99 L203.70,66.45 L204.50,65.06 L205.30,63.87 L206.10,62.78 L206.90,61.76 L207.70,60.79 L208.50,59.88 L209.30,58.99 L210.10,58.11 L210.90,57.23 L211.70,56.34 L212.50,55.43 L213.30,54.51 L214.10,53.58 L214.90,52.66 L215.70,51.75 L216.50,50.85 L217.30,49.98 L218.10,49.12 L218.90,48.30 L219.70,47.51 L220.50,46.77 L221.30,46.07 L222.10,45.42 L222.90,44.84 L223.70,44.30 L224.50,43.79 L225.30,43.30 L226.10,42.83 L226.90,42.38 L227.70,41.95 L228.50,41.53 L229.30,41.14 L230.10,40.77 L230.90,40.41 L231.70,40.07 L232.50,39.75 L233.30,39.45 L234.10,39.17 L234.90,38.89 L235.70,38.62 L236.50,38.35 L237.30,38.10 L238.10,37.85 L238.90,37.61 L239.70,37.38 L240.50,37.16 L241.30,36.95 L242.10,36.76 L242.90,36.57 L243.70,36.41 L244.50,36.26 L245.30,36.12 L246.10,36.00" fill="none" stroke="#231f20" stroke-width="1.85"/>
<rect x="196.6" y="72.5" width="5.6" height="5.6" fill="#cf6aa6" stroke="#231f20" stroke-width="0.9"/>
<rect x="199.1" y="67.2" width="5.6" height="5.6" fill="#8a3a2c" stroke="#231f20" stroke-width="0.9"/>
<rect x="201.9" y="61.95" width="5.6" height="5.6" fill="#55b45a" stroke="#231f20" stroke-width="0.9"/>
<rect x="208.4" y="54.1" width="5.6" height="5.6" fill="#9a7bb5" stroke="#231f20" stroke-width="0.9"/>
<rect x="220.3" y="41.9" width="5.6" height="5.6" fill="#2badde" stroke="#231f20" stroke-width="0.9"/>
<rect x="243.3" y="33.2" width="5.6" height="5.6" fill="#ee9a3a" stroke="#231f20" stroke-width="0.9"/>
<line x1="313.5" y1="27.2" x2="313.5" y2="155.8" stroke="#231f20" stroke-width="1.55"/>
<line x1="312.75" y1="155" x2="501.8" y2="155" stroke="#231f20" stroke-width="1.65"/>
<line x1="308.7" y1="150" x2="313.5" y2="150" stroke="#231f20" stroke-width="1.3"/>
<text x="305.2" y="153.9" font-family="Liberation Sans" font-size="11" text-anchor="end" fill="#231f20" stroke="#231f20" stroke-width="0.2">0</text>
<line x1="308.7" y1="110.6" x2="313.5" y2="110.6" stroke="#231f20" stroke-width="1.3"/>
<text x="305.2" y="114.5" font-family="Liberation Sans" font-size="11" text-anchor="end" fill="#231f20" stroke="#231f20" stroke-width="0.2">0.1</text>
<line x1="308.7" y1="71.2" x2="313.5" y2="71.2" stroke="#231f20" stroke-width="1.3"/>
<text x="305.2" y="75.1" font-family="Liberation Sans" font-size="11" text-anchor="end" fill="#231f20" stroke="#231f20" stroke-width="0.2">0.2</text>
<line x1="308.7" y1="31.8" x2="313.5" y2="31.8" stroke="#231f20" stroke-width="1.3"/>
<text x="305.2" y="35.7" font-family="Liberation Sans" font-size="11" text-anchor="end" fill="#231f20" stroke="#231f20" stroke-width="0.2">0.3</text>
<line x1="310.9" y1="130.3" x2="313.5" y2="130.3" stroke="#231f20" stroke-width="1.2"/>
<line x1="310.9" y1="90.9" x2="313.5" y2="90.9" stroke="#231f20" stroke-width="1.2"/>
<line x1="310.9" y1="51.5" x2="313.5" y2="51.5" stroke="#231f20" stroke-width="1.2"/>
<line x1="321.6" y1="155" x2="321.6" y2="160" stroke="#231f20" stroke-width="1.3"/>
<text x="321.6" y="174.6" font-family="Liberation Sans" font-size="11" text-anchor="middle" fill="#231f20" stroke="#231f20" stroke-width="0.2">0</text>
<line x1="350.87" y1="155" x2="350.87" y2="160" stroke="#231f20" stroke-width="1.3"/>
<text x="350.87" y="174.6" font-family="Liberation Sans" font-size="11" text-anchor="middle" fill="#231f20" stroke="#231f20" stroke-width="0.2">100</text>
<line x1="380.14" y1="155" x2="380.14" y2="160" stroke="#231f20" stroke-width="1.3"/>
<text x="380.14" y="174.6" font-family="Liberation Sans" font-size="11" text-anchor="middle" fill="#231f20" stroke="#231f20" stroke-width="0.2">200</text>
<line x1="409.41" y1="155" x2="409.41" y2="160" stroke="#231f20" stroke-width="1.3"/>
<text x="409.41" y="174.6" font-family="Liberation Sans" font-size="11" text-anchor="middle" fill="#231f20" stroke="#231f20" stroke-width="0.2">300</text>
<line x1="438.68" y1="155" x2="438.68" y2="160" stroke="#231f20" stroke-width="1.3"/>
<text x="438.68" y="174.6" font-family="Liberation Sans" font-size="11" text-anchor="middle" fill="#231f20" stroke="#231f20" stroke-width="0.2">400</text>
<line x1="467.95" y1="155" x2="467.95" y2="160" stroke="#231f20" stroke-width="1.3"/>
<text x="467.95" y="174.6" font-family="Liberation Sans" font-size="11" text-anchor="middle" fill="#231f20" stroke="#231f20" stroke-width="0.2">500</text>
<line x1="497.22" y1="155" x2="497.22" y2="160" stroke="#231f20" stroke-width="1.3"/>
<text x="497.22" y="174.6" font-family="Liberation Sans" font-size="11" text-anchor="middle" fill="#231f20" stroke="#231f20" stroke-width="0.2">600</text>
<path d="M322.00,141.91 L322.50,139.40 L323.00,137.89 L323.50,136.30 L324.00,136.37 L324.50,135.64 L325.00,135.88 L325.50,135.93 L326.00,135.04 L326.50,134.99 L327.00,134.76 L327.50,134.76 L328.00,134.70 L328.50,134.73 L329.00,134.12 L329.50,134.58 L330.00,133.93 L330.50,134.10 L331.00,134.19 L331.50,134.00 L332.00,133.54 L332.50,133.51 L333.00,133.48 L333.50,133.49 L334.00,133.68 L334.50,133.07 L335.00,133.38 L335.50,133.34 L336.00,133.26 L336.50,133.17 L337.00,133.33 L337.50,133.03 L338.00,133.04 L338.50,132.90 L339.00,133.10 L339.50,132.22 L340.00,132.85 L340.50,132.43 L341.00,132.36 L341.50,132.13 L342.00,131.86 L342.50,132.11 L343.00,131.97 L343.50,132.15 L344.00,131.64 L344.50,132.20 L345.00,131.86 L345.50,131.64 L346.00,131.43 L346.50,131.30 L347.00,131.10 L347.50,131.10 L348.00,131.09 L348.50,130.92 L349.00,130.51 L349.50,130.63 L350.00,130.36 L350.50,130.46 L351.00,130.71 L351.50,130.31 L352.00,129.98 L352.50,129.57 L353.00,129.50 L353.50,129.33 L354.00,129.75 L354.50,129.32 L355.00,129.41 L355.50,129.17 L356.00,129.24 L356.50,129.46 L357.00,128.93 L357.50,128.94 L358.00,128.78 L358.50,129.09 L359.00,128.61 L359.50,128.53 L360.00,128.42 L360.50,128.36 L361.00,128.72 L361.50,129.13 L362.00,128.29 L362.50,128.67 L363.00,128.47 L363.50,128.12 L364.00,128.25 L364.50,128.21 L365.00,128.07 L365.50,128.60 L366.00,127.71 L366.50,128.17 L367.00,128.11 L367.50,127.87 L368.00,127.98 L368.50,128.10 L369.00,127.90 L369.50,127.92 L370.00,127.94 L370.50,127.30 L371.00,128.04 L371.50,128.18 L372.00,127.86 L372.50,127.83 L373.00,127.26 L373.50,127.51 L374.00,127.32 L374.50,127.34 L375.00,127.65 L375.50,127.22 L376.00,127.34 L376.50,126.92 L377.00,127.27 L377.50,127.30 L378.00,127.09 L378.50,127.06 L379.00,127.61 L379.50,126.90 L380.00,126.91 L380.50,126.93 L381.00,127.35 L381.50,127.52 L382.00,127.11 L382.50,126.85 L383.00,126.89 L383.50,127.20 L384.00,126.74 L384.50,127.24 L385.00,127.21 L385.50,126.89 L386.00,126.99 L386.50,127.00 L387.00,127.15 L387.50,126.56 L388.00,127.03 L388.50,126.67 L389.00,126.57 L389.50,126.74 L390.00,126.65 L390.50,126.47 L391.00,126.31 L391.50,126.44 L392.00,126.95 L392.50,127.05 L393.00,126.75 L393.50,126.85 L394.00,126.46 L394.50,126.54 L395.00,126.61 L395.50,126.29 L396.00,126.30 L396.50,126.53 L397.00,126.42 L397.50,126.25 L398.00,126.56 L398.50,126.40 L399.00,126.67 L399.50,126.44 L400.00,126.36 L400.50,126.45 L401.00,126.37 L401.50,126.25 L402.00,126.30 L402.50,126.55 L403.00,126.52 L403.50,126.65 L404.00,125.99 L404.50,126.26 L405.00,126.25 L405.50,126.37 L406.00,126.23 L406.50,126.21 L407.00,126.49 L407.50,126.35 L408.00,126.05 L408.50,126.59 L408.60,126.52 L409.10,136.62 L409.60,137.97 L410.10,138.90 L410.60,138.82 L411.10,138.81 L411.60,138.99 L412.10,138.97 L412.60,139.22 L413.10,139.26 L413.60,139.26 L414.10,139.16 L414.60,138.49 L415.10,139.34 L415.60,138.92 L416.10,139.41 L416.60,139.61 L417.10,139.44 L417.60,139.30 L418.10,139.36 L418.60,139.38 L419.10,139.30 L419.60,139.30 L420.10,139.24 L420.60,139.71 L421.10,139.46 L421.60,139.68 L422.10,139.43 L422.60,139.51 L423.10,139.46 L423.60,139.61 L424.10,139.70 L424.60,139.58 L425.10,139.39 L425.60,139.37 L426.10,139.92 L426.60,139.50 L427.10,139.51 L427.60,139.90 L428.10,139.83 L428.60,139.71 L429.10,139.52 L429.60,140.13 L430.10,139.71 L430.60,139.75 L431.10,139.61 L431.60,139.34 L432.10,139.37 L432.60,139.76 L433.10,139.77 L433.60,139.64 L434.10,139.44 L434.60,139.39 L435.10,139.64 L435.60,139.41 L436.10,139.93 L436.60,140.00 L437.10,140.38 L437.60,139.96 L438.10,139.64 L438.60,139.59 L439.10,139.03 L439.60,139.67 L440.10,139.77 L440.60,140.03 L441.10,139.96 L441.60,139.97 L442.10,139.90 L442.60,140.00 L443.10,140.19 L443.60,139.64 L444.10,139.79 L444.60,139.59 L445.10,140.26 L445.60,140.20 L446.10,140.09 L446.60,139.67 L447.10,139.98 L447.60,139.90 L448.10,139.98 L448.60,139.93 L449.10,140.10 L449.60,139.91 L450.10,140.19 L450.60,140.07 L451.10,139.96 L451.60,140.01 L452.10,139.95 L452.60,140.24 L453.10,140.01 L453.60,140.15 L454.10,140.02 L454.60,139.79 L455.10,140.33 L455.60,139.91 L456.10,140.31 L456.60,140.27 L457.10,139.83 L457.60,140.01 L458.10,140.12 L458.60,140.07 L459.10,140.01 L459.60,140.45 L460.10,140.25 L460.60,140.41 L461.10,140.25 L461.60,140.43 L462.10,140.21 L462.60,140.39 L463.10,140.55 L463.60,140.45 L464.10,140.36 L464.60,140.24 L465.10,140.53 L465.60,140.59 L466.10,140.48 L466.60,140.39 L467.10,140.70 L467.60,141.14 L468.10,140.55 L468.60,140.71 L469.10,140.74 L469.60,140.11 L470.10,140.72 L470.60,140.56 L471.10,141.04 L471.60,140.70 L472.10,140.60 L472.60,140.75 L473.10,140.85 L473.60,140.71 L474.10,140.84 L474.60,140.58 L475.10,140.84 L475.60,141.08 L476.10,141.36 L476.60,141.11 L477.10,141.03 L477.60,141.25 L478.10,141.23 L478.60,141.39 L479.10,141.28 L479.60,141.04 L480.10,141.14 L480.60,141.14 L481.10,141.19 L481.60,141.18 L482.10,140.98 L482.60,140.71 L483.10,141.04 L483.60,140.76 L484.10,141.24 L484.60,141.24 L485.10,140.89 L485.60,141.43 L486.10,141.49 L486.60,141.33 L487.10,141.70 L487.60,141.76 L488.10,141.10 L488.60,141.61 L489.10,141.49 L489.60,141.50 L490.10,141.63 L490.60,141.28 L491.10,141.33 L491.60,141.29 L492.10,141.32 L492.60,141.48 L493.10,141.20 L493.60,141.31 L494.10,141.68 L494.60,141.55 L495.10,141.66 L495.60,141.18 L495.80,141.43" fill="none" stroke="#17994a" stroke-width="1.3" stroke-linejoin="round"/>
<path d="M322.00,139.88 L322.50,134.51 L323.00,132.49 L323.50,131.75 L324.00,130.88 L324.50,130.51 L325.00,130.28 L325.50,130.28 L326.00,129.91 L326.50,130.17 L327.00,129.96 L327.50,129.83 L328.00,129.75 L328.50,129.80 L329.00,129.86 L329.50,129.80 L330.00,129.62 L330.50,129.69 L331.00,129.47 L331.50,129.67 L332.00,129.34 L332.50,128.83 L333.00,129.53 L333.50,129.20 L334.00,128.86 L334.50,129.02 L335.00,128.81 L335.50,129.41 L336.00,129.00 L336.50,128.49 L337.00,128.90 L337.50,128.64 L338.00,129.09 L338.50,128.39 L339.00,128.07 L339.50,128.53 L340.00,128.39 L340.50,128.33 L341.00,127.91 L341.50,128.43 L342.00,128.66 L342.50,127.83 L343.00,128.47 L343.50,128.05 L344.00,128.66 L344.50,128.20 L345.00,128.03 L345.50,128.28 L346.00,128.12 L346.50,127.85 L347.00,128.10 L347.50,127.81 L348.00,127.50 L348.50,128.32 L349.00,127.77 L349.50,127.69 L350.00,127.87 L350.50,127.44 L351.00,127.46 L351.50,127.63 L352.00,127.61 L352.50,127.73 L353.00,127.94 L353.50,127.57 L354.00,127.77 L354.50,127.78 L355.00,127.39 L355.50,127.67 L356.00,127.39 L356.50,127.82 L357.00,127.67 L357.50,127.55 L358.00,127.24 L358.50,127.54 L359.00,127.33 L359.50,127.64 L360.00,127.44 L360.50,127.28 L361.00,127.64 L361.50,127.58 L362.00,127.28 L362.50,127.65 L363.00,127.31 L363.50,127.30 L364.00,127.38 L364.50,127.17 L365.00,127.22 L365.50,127.27 L366.00,127.63 L366.50,127.61 L367.00,127.20 L367.50,127.60 L368.00,127.22 L368.50,127.30 L369.00,127.40 L369.50,127.26 L370.00,127.71 L370.50,127.22 L371.00,126.89 L371.50,127.42 L372.00,127.03 L372.50,127.04 L373.00,126.44 L373.50,127.31 L374.00,127.25 L374.50,127.23 L375.00,127.26 L375.50,127.41 L376.00,127.01 L376.50,127.21 L377.00,126.83 L377.50,126.90 L378.00,127.20 L378.50,127.04 L379.00,126.65 L379.50,127.01 L380.00,126.88 L380.50,126.73 L381.00,126.99 L381.50,126.80 L382.00,126.53 L382.50,126.62 L383.00,127.24 L383.50,126.50 L384.00,126.87 L384.50,126.95 L385.00,126.94 L385.50,126.52 L386.00,126.71 L386.50,126.80 L387.00,126.93 L387.50,126.60 L388.00,126.48 L388.50,126.94 L389.00,126.95 L389.50,126.78 L390.00,126.55 L390.50,126.77 L391.00,126.69 L391.50,126.84 L392.00,126.37 L392.50,126.66 L393.00,126.59 L393.50,126.37 L394.00,126.65 L394.50,126.60 L395.00,126.49 L395.50,126.65 L396.00,126.24 L396.50,126.53 L397.00,126.63 L397.50,126.59 L398.00,126.75 L398.50,126.24 L399.00,126.16 L399.50,126.54 L400.00,126.57 L400.50,126.93 L401.00,126.59 L401.50,126.25 L402.00,126.61 L402.50,126.24 L403.00,126.08 L403.50,126.98 L404.00,126.46 L404.50,126.54 L405.00,126.50 L405.50,126.76 L406.00,126.41 L406.50,126.61 L407.00,126.11 L407.50,126.02 L408.00,126.63 L408.50,126.63 L408.60,126.41 L409.10,136.03 L409.60,137.44 L410.10,138.42 L410.60,138.39 L411.10,138.46 L411.60,138.50 L412.10,138.69 L412.60,138.61 L413.10,138.69 L413.60,138.30 L414.10,138.69 L414.60,139.07 L415.10,138.49 L415.60,138.59 L416.10,138.83 L416.60,138.85 L417.10,138.79 L417.60,138.30 L418.10,138.78 L418.60,138.41 L419.10,138.50 L419.60,138.81 L420.10,138.63 L420.60,138.88 L421.10,139.40 L421.60,138.89 L422.10,138.88 L422.60,138.53 L423.10,138.59 L423.60,138.51 L424.10,138.63 L424.60,138.51 L425.10,138.62 L425.60,138.72 L426.10,138.55 L426.60,138.47 L427.10,138.49 L427.60,138.89 L428.10,138.81 L428.60,139.03 L429.10,139.04 L429.60,138.74 L430.10,138.97 L430.60,138.52 L431.10,139.34 L431.60,139.11 L432.10,138.81 L432.60,138.60 L433.10,138.95 L433.60,138.46 L434.10,138.71 L434.60,139.05 L435.10,138.91 L435.60,138.79 L436.10,139.12 L436.60,138.68 L437.10,138.98 L437.60,138.82 L438.10,138.75 L438.60,139.04 L439.10,138.73 L439.60,139.37 L440.10,138.83 L440.60,139.41 L441.10,138.73 L441.60,139.12 L442.10,138.73 L442.60,138.70 L443.10,139.04 L443.60,139.16 L444.10,138.74 L444.60,139.28 L445.10,138.86 L445.60,139.07 L446.10,139.13 L446.60,139.18 L447.10,138.66 L447.60,139.42 L448.10,139.20 L448.60,138.99 L449.10,138.86 L449.60,138.72 L450.10,138.80 L450.60,139.23 L451.10,139.04 L451.60,138.88 L452.10,139.02 L452.60,139.49 L453.10,139.08 L453.60,139.03 L454.10,139.47 L454.60,139.28 L455.10,139.20 L455.60,139.07 L456.10,138.87 L456.60,138.97 L457.10,139.13 L457.60,139.20 L458.10,139.34 L458.60,139.40 L459.10,139.34 L459.60,139.35 L460.10,139.09 L460.60,138.85 L461.10,139.22 L461.60,139.14 L462.10,139.22 L462.60,139.32 L463.10,139.12 L463.60,139.16 L464.10,139.40 L464.60,139.46 L465.10,139.30 L465.60,139.57 L466.10,139.43 L466.60,139.26 L467.10,139.51 L467.60,139.93 L468.10,139.38 L468.60,139.80 L469.10,139.86 L469.60,139.90 L470.10,139.40 L470.60,140.04 L471.10,139.64 L471.60,139.57 L472.10,139.59 L472.60,139.78 L473.10,139.67 L473.60,139.64 L474.10,139.97 L474.60,139.54 L475.10,139.49 L475.60,139.90 L476.10,139.90 L476.60,140.00 L477.10,139.53 L477.60,140.02 L478.10,139.90 L478.60,140.20 L479.10,139.55 L479.60,139.88 L480.10,139.79 L480.60,139.51 L481.10,139.71 L481.60,140.13 L482.10,139.79 L482.60,139.75 L483.10,140.11 L483.60,140.15 L484.10,140.16 L484.60,139.78 L485.10,139.96 L485.60,140.21 L486.10,139.85 L486.60,139.84 L487.10,140.20 L487.60,140.37 L488.10,139.78 L488.60,139.48 L489.10,139.74 L489.60,139.85 L490.10,140.05 L490.60,140.23 L491.10,140.07 L491.60,139.96 L492.10,140.16 L492.60,139.92 L493.10,140.14 L493.60,140.01 L494.10,140.76 L494.60,140.36 L495.10,140.00 L495.60,139.98 L495.80,140.10" fill="none" stroke="#6d2e20" stroke-width="1.3" stroke-linejoin="round"/>
<path d="M322.00,142.64 L322.50,140.42 L323.00,139.26 L323.50,138.89 L324.00,138.08 L324.50,137.60 L325.00,137.16 L325.50,136.93 L326.00,136.94 L326.50,136.71 L327.00,136.83 L327.50,136.29 L328.00,136.53 L328.50,136.23 L329.00,136.07 L329.50,135.54 L330.00,135.61 L330.50,135.98 L331.00,136.06 L331.50,135.73 L332.00,135.79 L332.50,135.47 L333.00,135.41 L333.50,135.29 L334.00,135.59 L334.50,135.39 L335.00,135.21 L335.50,135.13 L336.00,135.26 L336.50,135.15 L337.00,134.84 L337.50,135.34 L338.00,134.96 L338.50,134.85 L339.00,135.11 L339.50,134.96 L340.00,134.65 L340.50,134.73 L341.00,134.32 L341.50,134.36 L342.00,133.95 L342.50,134.66 L343.00,133.92 L343.50,134.43 L344.00,134.04 L344.50,133.96 L345.00,134.08 L345.50,134.12 L346.00,134.15 L346.50,134.35 L347.00,133.99 L347.50,134.05 L348.00,133.67 L348.50,133.91 L349.00,133.73 L349.50,133.55 L350.00,133.58 L350.50,133.53 L351.00,133.53 L351.50,133.52 L352.00,133.26 L352.50,133.15 L353.00,133.42 L353.50,132.82 L354.00,133.00 L354.50,133.42 L355.00,132.43 L355.50,132.82 L356.00,133.08 L356.50,132.52 L357.00,133.41 L357.50,132.24 L358.00,133.09 L358.50,133.09 L359.00,132.92 L359.50,132.64 L360.00,132.74 L360.50,132.44 L361.00,132.79 L361.50,132.34 L362.00,132.51 L362.50,132.76 L363.00,132.28 L363.50,132.42 L364.00,132.52 L364.50,132.17 L365.00,132.71 L365.50,132.51 L366.00,132.08 L366.50,132.39 L367.00,132.21 L367.50,132.22 L368.00,132.37 L368.50,132.18 L369.00,132.53 L369.50,132.15 L370.00,132.50 L370.50,132.26 L371.00,132.44 L371.50,132.12 L372.00,132.11 L372.50,131.96 L373.00,132.32 L373.50,132.39 L374.00,132.63 L374.50,132.43 L375.00,132.19 L375.50,132.07 L376.00,132.19 L376.50,132.08 L377.00,132.39 L377.50,132.26 L378.00,131.85 L378.50,131.87 L379.00,132.30 L379.50,132.05 L380.00,131.91 L380.50,132.21 L381.00,131.84 L381.50,131.85 L382.00,131.79 L382.50,131.45 L383.00,132.05 L383.50,131.58 L384.00,131.70 L384.50,131.64 L385.00,131.95 L385.50,131.76 L386.00,131.76 L386.50,131.37 L387.00,131.70 L387.50,131.38 L388.00,131.75 L388.50,131.75 L389.00,131.65 L389.50,132.08 L390.00,131.73 L390.50,131.73 L391.00,131.61 L391.50,131.52 L392.00,131.76 L392.50,131.77 L393.00,131.23 L393.50,131.73 L394.00,131.59 L394.50,131.67 L395.00,131.55 L395.50,131.15 L396.00,131.15 L396.50,131.80 L397.00,131.43 L397.50,131.05 L398.00,131.42 L398.50,131.25 L399.00,130.90 L399.50,130.79 L400.00,130.92 L400.50,131.32 L401.00,131.23 L401.50,131.17 L402.00,131.27 L402.50,131.33 L403.00,130.72 L403.50,131.10 L404.00,130.96 L404.50,130.86 L405.00,130.99 L405.50,131.07 L406.00,131.02 L406.50,130.75 L407.00,130.94 L407.50,131.48 L408.00,130.79 L408.50,130.63 L408.60,131.06 L409.10,134.06 L409.60,134.29 L410.10,134.96 L410.60,134.65 L411.10,134.63 L411.60,134.77 L412.10,134.91 L412.60,135.11 L413.10,135.10 L413.60,134.97 L414.10,135.19 L414.60,135.01 L415.10,135.20 L415.60,134.70 L416.10,134.67 L416.60,135.19 L417.10,134.72 L417.60,134.96 L418.10,135.01 L418.60,134.93 L419.10,134.94 L419.60,135.35 L420.10,134.49 L420.60,135.25 L421.10,135.56 L421.60,135.06 L422.10,135.06 L422.60,135.23 L423.10,135.47 L423.60,134.81 L424.10,135.10 L424.60,135.04 L425.10,135.21 L425.60,135.12 L426.10,135.24 L426.60,135.00 L427.10,135.11 L427.60,134.96 L428.10,134.96 L428.60,135.08 L429.10,135.09 L429.60,134.86 L430.10,135.47 L430.60,135.10 L431.10,134.83 L431.60,135.38 L432.10,134.98 L432.60,135.26 L433.10,135.15 L433.60,135.21 L434.10,135.20 L434.60,135.04 L435.10,135.18 L435.60,135.62 L436.10,134.68 L436.60,135.20 L437.10,135.28 L437.60,134.96 L438.10,134.89 L438.60,135.67 L439.10,135.12 L439.60,135.66 L440.10,135.33 L440.60,135.23 L441.10,135.32 L441.60,135.36 L442.10,135.49 L442.60,135.33 L443.10,135.27 L443.60,135.28 L444.10,135.54 L444.60,135.43 L445.10,135.04 L445.60,135.12 L446.10,135.34 L446.60,135.13 L447.10,135.19 L447.60,135.07 L448.10,135.23 L448.60,135.38 L449.10,135.51 L449.60,135.30 L450.10,135.76 L450.60,135.29 L451.10,136.01 L451.60,135.54 L452.10,135.44 L452.60,135.23 L453.10,134.72 L453.60,135.32 L454.10,135.40 L454.60,135.80 L455.10,135.08 L455.60,135.82 L456.10,135.36 L456.60,135.59 L457.10,134.88 L457.60,135.48 L458.10,135.39 L458.60,135.63 L459.10,135.52 L459.60,135.26 L460.10,135.74 L460.60,135.70 L461.10,135.69 L461.60,135.80 L462.10,135.84 L462.60,135.61 L463.10,135.33 L463.60,135.34 L464.10,135.96 L464.60,135.84 L465.10,135.72 L465.60,135.62 L466.10,135.74 L466.60,135.76 L467.10,135.70 L467.60,135.63 L468.10,136.28 L468.60,135.87 L469.10,135.71 L469.60,135.57 L470.10,135.72 L470.60,136.05 L471.10,136.08 L471.60,135.88 L472.10,135.96 L472.60,135.90 L473.10,135.74 L473.60,136.29 L474.10,136.10 L474.60,136.58 L475.10,135.89 L475.60,136.04 L476.10,136.29 L476.60,136.06 L477.10,135.82 L477.60,135.94 L478.10,136.18 L478.60,136.25 L479.10,136.18 L479.60,136.43 L480.10,136.45 L480.60,136.32 L481.10,136.27 L481.60,136.23 L482.10,136.42 L482.60,136.52 L483.10,136.34 L483.60,136.45 L484.10,136.29 L484.60,136.07 L485.10,136.17 L485.60,136.58 L486.10,136.52 L486.60,136.79 L487.10,136.47 L487.60,136.66 L488.10,136.78 L488.60,136.72 L489.10,136.38 L489.60,136.49 L490.10,136.57 L490.60,136.34 L491.10,136.68 L491.60,136.81 L492.10,136.50 L492.60,137.05 L493.10,136.56 L493.60,136.60 L494.10,136.60 L494.60,136.51 L495.10,136.77 L495.60,136.70 L495.80,137.07" fill="none" stroke="#e23f8c" stroke-width="1.3" stroke-linejoin="round"/>
<path d="M322.00,147.93 L322.50,142.35 L323.00,138.66 L323.50,135.75 L324.00,134.46 L324.50,133.28 L325.00,132.92 L325.50,132.07 L326.00,131.87 L326.50,131.14 L327.00,130.71 L327.50,130.17 L328.00,129.79 L328.50,129.54 L329.00,129.28 L329.50,128.62 L330.00,128.60 L330.50,128.80 L331.00,127.95 L331.50,127.67 L332.00,127.33 L332.50,126.94 L333.00,127.29 L333.50,126.83 L334.00,126.67 L334.50,126.81 L335.00,126.75 L335.50,125.82 L336.00,126.06 L336.50,125.78 L337.00,125.56 L337.50,125.41 L338.00,125.14 L338.50,125.34 L339.00,124.98 L339.50,124.78 L340.00,124.84 L340.50,124.63 L341.00,124.40 L341.50,124.25 L342.00,124.45 L342.50,124.06 L343.00,123.82 L343.50,123.55 L344.00,123.56 L344.50,123.31 L345.00,123.47 L345.50,123.40 L346.00,122.80 L346.50,123.16 L347.00,123.21 L347.50,123.01 L348.00,122.67 L348.50,123.06 L349.00,122.54 L349.50,122.33 L350.00,122.26 L350.50,122.40 L351.00,122.52 L351.50,122.45 L352.00,122.14 L352.50,121.73 L353.00,121.74 L353.50,121.58 L354.00,121.64 L354.50,121.19 L355.00,121.51 L355.50,121.53 L356.00,121.27 L356.50,121.31 L357.00,120.92 L357.50,120.72 L358.00,120.82 L358.50,121.14 L359.00,121.03 L359.50,120.63 L360.00,120.92 L360.50,120.51 L361.00,120.84 L361.50,120.54 L362.00,120.27 L362.50,120.47 L363.00,120.06 L363.50,119.96 L364.00,119.78 L364.50,120.09 L365.00,119.95 L365.50,119.88 L366.00,119.75 L366.50,120.09 L367.00,119.62 L367.50,119.49 L368.00,119.86 L368.50,119.84 L369.00,119.54 L369.50,119.02 L370.00,119.21 L370.50,119.42 L371.00,119.23 L371.50,119.51 L372.00,118.81 L372.50,119.20 L373.00,118.85 L373.50,119.23 L374.00,118.86 L374.50,119.04 L375.00,118.62 L375.50,118.39 L376.00,118.40 L376.50,118.45 L377.00,118.30 L377.50,118.74 L378.00,118.71 L378.50,118.42 L379.00,118.07 L379.50,118.22 L380.00,118.03 L380.50,118.45 L381.00,118.14 L381.50,118.12 L382.00,117.87 L382.50,117.46 L383.00,117.68 L383.50,117.54 L384.00,117.81 L384.50,117.70 L385.00,117.45 L385.50,117.48 L386.00,117.86 L386.50,117.24 L387.00,117.20 L387.50,117.30 L388.00,117.14 L388.50,117.14 L389.00,117.30 L389.50,117.51 L390.00,116.68 L390.50,117.02 L391.00,116.98 L391.50,116.90 L392.00,116.82 L392.50,116.73 L393.00,116.98 L393.50,116.60 L394.00,116.62 L394.50,116.60 L395.00,116.57 L395.50,116.46 L396.00,116.66 L396.50,116.39 L397.00,116.38 L397.50,116.28 L398.00,116.02 L398.50,116.00 L399.00,115.90 L399.50,116.13 L400.00,115.88 L400.50,115.75 L401.00,115.99 L401.50,116.00 L402.00,115.45 L402.50,116.16 L403.00,115.74 L403.50,115.67 L404.00,115.87 L404.50,115.61 L405.00,115.41 L405.50,115.98 L406.00,115.21 L406.50,115.38 L407.00,115.54 L407.50,115.07 L408.00,115.23 L408.50,115.29 L408.60,115.73 L409.10,122.92 L409.60,128.08 L410.10,130.23 L410.60,130.79 L411.10,131.66 L411.60,131.96 L412.10,132.33 L412.60,132.75 L413.10,132.97 L413.60,133.05 L414.10,133.21 L414.60,133.07 L415.10,133.42 L415.60,133.63 L416.10,133.61 L416.60,133.83 L417.10,133.73 L417.60,134.34 L418.10,134.56 L418.60,134.07 L419.10,134.32 L419.60,134.24 L420.10,134.63 L420.60,134.51 L421.10,134.48 L421.60,134.47 L422.10,134.59 L422.60,134.39 L423.10,134.81 L423.60,134.55 L424.10,134.87 L424.60,134.82 L425.10,135.07 L425.60,134.87 L426.10,135.14 L426.60,134.75 L427.10,135.13 L427.60,134.98 L428.10,135.11 L428.60,135.12 L429.10,135.35 L429.60,134.73 L430.10,135.28 L430.60,134.91 L431.10,135.54 L431.60,134.87 L432.10,135.11 L432.60,135.00 L433.10,135.76 L433.60,135.14 L434.10,135.48 L434.60,135.37 L435.10,135.12 L435.60,135.47 L436.10,135.72 L436.60,135.56 L437.10,135.84 L437.60,135.58 L438.10,135.69 L438.60,135.63 L439.10,135.82 L439.60,136.19 L440.10,135.89 L440.60,135.88 L441.10,135.73 L441.60,135.73 L442.10,136.25 L442.60,135.71 L443.10,135.78 L443.60,135.99 L444.10,135.95 L444.60,136.50 L445.10,135.58 L445.60,136.21 L446.10,136.32 L446.60,135.94 L447.10,136.07 L447.60,136.34 L448.10,136.63 L448.60,136.10 L449.10,135.98 L449.60,136.57 L450.10,136.72 L450.60,136.34 L451.10,135.96 L451.60,136.79 L452.10,136.45 L452.60,136.77 L453.10,136.54 L453.60,136.50 L454.10,136.51 L454.60,136.96 L455.10,136.97 L455.60,136.21 L456.10,136.50 L456.60,137.13 L457.10,136.68 L457.60,136.48 L458.10,136.81 L458.60,136.81 L459.10,136.84 L459.60,136.78 L460.10,136.84 L460.60,136.83 L461.10,137.02 L461.60,136.80 L462.10,136.93 L462.60,136.99 L463.10,137.33 L463.60,137.15 L464.10,137.06 L464.60,137.23 L465.10,137.22 L465.60,137.39 L466.10,137.29 L466.60,137.59 L467.10,137.52 L467.60,137.23 L468.10,137.17 L468.60,137.48 L469.10,137.42 L469.60,137.31 L470.10,137.02 L470.60,136.97 L471.10,137.47 L471.60,137.58 L472.10,137.61 L472.60,137.17 L473.10,137.70 L473.60,137.38 L474.10,137.60 L474.60,137.62 L475.10,137.38 L475.60,137.44 L476.10,137.14 L476.60,137.41 L477.10,137.24 L477.60,137.75 L478.10,137.68 L478.60,137.89 L479.10,137.79 L479.60,137.59 L480.10,137.82 L480.60,137.68 L481.10,137.92 L481.60,137.87 L482.10,137.60 L482.60,137.84 L483.10,137.87 L483.60,137.81 L484.10,138.09 L484.60,138.29 L485.10,137.85 L485.60,137.87 L486.10,137.47 L486.60,137.96 L487.10,137.91 L487.60,137.55 L488.10,138.10 L488.60,138.19 L489.10,137.91 L489.60,138.01 L490.10,137.90 L490.60,138.29 L491.10,137.81 L491.60,138.09 L492.10,138.61 L492.60,138.20 L493.10,138.31 L493.60,138.19 L494.10,137.99 L494.60,138.25 L495.10,138.37 L495.60,138.07 L495.80,138.38" fill="none" stroke="#6f3a8f" stroke-width="1.3" stroke-linejoin="round"/>
<path d="M322.00,140.27 L322.50,132.12 L323.00,125.59 L323.50,121.08 L324.00,117.55 L324.50,115.51 L325.00,113.29 L325.50,111.65 L326.00,109.99 L326.50,108.84 L327.00,108.18 L327.50,107.37 L328.00,106.44 L328.50,106.01 L329.00,105.54 L329.50,104.91 L330.00,104.14 L330.50,103.45 L331.00,103.43 L331.50,103.12 L332.00,102.64 L332.50,102.23 L333.00,101.83 L333.50,101.81 L334.00,101.33 L334.50,101.08 L335.00,100.56 L335.50,100.37 L336.00,100.28 L336.50,99.77 L337.00,99.48 L337.50,99.45 L338.00,99.55 L338.50,99.11 L339.00,99.17 L339.50,98.60 L340.00,98.35 L340.50,97.90 L341.00,97.88 L341.50,98.12 L342.00,97.67 L342.50,97.56 L343.00,97.36 L343.50,97.01 L344.00,96.77 L344.50,96.65 L345.00,96.58 L345.50,96.35 L346.00,96.17 L346.50,95.91 L347.00,95.53 L347.50,95.47 L348.00,95.15 L348.50,95.40 L349.00,94.55 L349.50,94.81 L350.00,95.22 L350.50,94.46 L351.00,94.13 L351.50,94.22 L352.00,94.36 L352.50,93.90 L353.00,93.93 L353.50,93.68 L354.00,93.43 L354.50,94.08 L355.00,93.27 L355.50,93.01 L356.00,92.89 L356.50,92.96 L357.00,92.85 L357.50,92.81 L358.00,92.56 L358.50,92.10 L359.00,92.42 L359.50,92.13 L360.00,92.03 L360.50,91.66 L361.00,91.76 L361.50,91.62 L362.00,91.67 L362.50,91.26 L363.00,91.50 L363.50,91.42 L364.00,91.05 L364.50,91.07 L365.00,90.92 L365.50,91.22 L366.00,90.37 L366.50,90.77 L367.00,90.39 L367.50,90.57 L368.00,90.77 L368.50,90.35 L369.00,90.44 L369.50,90.14 L370.00,90.67 L370.50,90.36 L371.00,90.32 L371.50,89.70 L372.00,89.67 L372.50,90.06 L373.00,89.70 L373.50,89.61 L374.00,89.66 L374.50,89.23 L375.00,89.60 L375.50,89.35 L376.00,89.37 L376.50,89.04 L377.00,89.22 L377.50,88.88 L378.00,89.17 L378.50,89.13 L379.00,89.00 L379.50,88.84 L380.00,88.79 L380.50,87.97 L381.00,88.68 L381.50,88.36 L382.00,88.36 L382.50,88.20 L383.00,87.89 L383.50,88.00 L384.00,88.19 L384.50,88.28 L385.00,87.76 L385.50,87.63 L386.00,88.07 L386.50,87.49 L387.00,88.06 L387.50,87.55 L388.00,87.27 L388.50,87.61 L389.00,87.70 L389.50,86.94 L390.00,87.53 L390.50,87.05 L391.00,87.37 L391.50,86.89 L392.00,86.56 L392.50,86.95 L393.00,86.98 L393.50,87.17 L394.00,87.02 L394.50,86.72 L395.00,86.45 L395.50,86.32 L396.00,86.31 L396.50,86.12 L397.00,86.18 L397.50,85.61 L398.00,86.15 L398.50,86.04 L399.00,86.54 L399.50,86.08 L400.00,85.75 L400.50,85.91 L401.00,85.46 L401.50,85.53 L402.00,85.19 L402.50,85.85 L403.00,85.61 L403.50,85.16 L404.00,85.34 L404.50,85.50 L405.00,85.34 L405.50,85.25 L406.00,84.92 L406.50,84.91 L407.00,85.01 L407.50,85.13 L408.00,84.69 L408.50,84.57 L408.60,85.05 L409.10,98.02 L409.60,110.23 L410.10,115.61 L410.60,117.39 L411.10,118.10 L411.60,118.80 L412.10,119.04 L412.60,119.69 L413.10,120.62 L413.60,121.41 L414.10,121.93 L414.60,122.64 L415.10,122.66 L415.60,123.07 L416.10,123.64 L416.60,123.78 L417.10,124.09 L417.60,124.17 L418.10,124.89 L418.60,124.69 L419.10,125.28 L419.60,125.08 L420.10,125.84 L420.60,125.57 L421.10,126.17 L421.60,125.82 L422.10,126.24 L422.60,126.76 L423.10,126.49 L423.60,126.83 L424.10,126.86 L424.60,126.60 L425.10,127.32 L425.60,127.48 L426.10,127.28 L426.60,127.77 L427.10,127.60 L427.60,127.68 L428.10,128.02 L428.60,127.98 L429.10,128.75 L429.60,128.01 L430.10,128.62 L430.60,128.78 L431.10,128.22 L431.60,128.38 L432.10,128.98 L432.60,128.84 L433.10,129.12 L433.60,129.38 L434.10,129.14 L434.60,129.07 L435.10,128.79 L435.60,129.53 L436.10,129.36 L436.60,129.72 L437.10,129.78 L437.60,129.51 L438.10,130.27 L438.60,130.21 L439.10,130.24 L439.60,129.88 L440.10,130.13 L440.60,130.17 L441.10,130.28 L441.60,130.21 L442.10,130.63 L442.60,130.66 L443.10,130.77 L443.60,130.66 L444.10,131.13 L444.60,130.97 L445.10,130.40 L445.60,130.94 L446.10,131.14 L446.60,131.44 L447.10,131.24 L447.60,131.32 L448.10,131.30 L448.60,131.66 L449.10,131.49 L449.60,131.52 L450.10,131.55 L450.60,131.91 L451.10,131.73 L451.60,131.54 L452.10,132.11 L452.60,131.88 L453.10,132.17 L453.60,132.23 L454.10,132.47 L454.60,132.49 L455.10,132.18 L455.60,132.33 L456.10,132.13 L456.60,132.83 L457.10,132.61 L457.60,132.87 L458.10,132.54 L458.60,132.21 L459.10,133.05 L459.60,132.78 L460.10,132.83 L460.60,132.86 L461.10,133.04 L461.60,133.06 L462.10,132.64 L462.60,133.27 L463.10,132.96 L463.60,133.01 L464.10,133.54 L464.60,133.40 L465.10,133.17 L465.60,132.87 L466.10,133.36 L466.60,133.48 L467.10,133.39 L467.60,133.17 L468.10,133.31 L468.60,133.24 L469.10,133.60 L469.60,133.77 L470.10,133.86 L470.60,133.51 L471.10,133.76 L471.60,133.86 L472.10,133.66 L472.60,133.78 L473.10,134.31 L473.60,133.92 L474.10,134.11 L474.60,133.85 L475.10,133.99 L475.60,133.64 L476.10,134.04 L476.60,134.34 L477.10,134.57 L477.60,134.40 L478.10,134.32 L478.60,134.21 L479.10,134.10 L479.60,134.23 L480.10,134.43 L480.60,134.15 L481.10,134.56 L481.60,134.17 L482.10,134.02 L482.60,134.22 L483.10,134.10 L483.60,134.19 L484.10,134.77 L484.60,134.51 L485.10,134.63 L485.60,134.86 L486.10,134.91 L486.60,134.55 L487.10,134.98 L487.60,134.79 L488.10,134.74 L488.60,134.86 L489.10,134.47 L489.60,134.64 L490.10,134.81 L490.60,134.99 L491.10,134.80 L491.60,134.88 L492.10,135.14 L492.60,135.27 L493.10,135.15 L493.60,135.28 L494.10,134.93 L494.60,134.98 L495.10,135.14 L495.60,135.02 L495.80,134.99" fill="none" stroke="#1ca8e0" stroke-width="1.3" stroke-linejoin="round"/>
<path d="M322.00,137.56 L322.50,115.96 L323.00,105.74 L323.50,101.83 L324.00,99.28 L324.50,96.37 L325.00,94.39 L325.50,92.26 L326.00,90.99 L326.50,90.02 L327.00,89.33 L327.50,88.97 L328.00,87.47 L328.50,87.24 L329.00,85.83 L329.50,85.20 L330.00,84.69 L330.50,83.94 L331.00,83.21 L331.50,82.18 L332.00,82.08 L332.50,81.27 L333.00,81.59 L333.50,80.54 L334.00,80.21 L334.50,79.52 L335.00,79.29 L335.50,78.75 L336.00,78.90 L336.50,78.29 L337.00,78.15 L337.50,77.56 L338.00,77.29 L338.50,77.39 L339.00,76.60 L339.50,76.14 L340.00,76.35 L340.50,75.74 L341.00,75.64 L341.50,75.69 L342.00,75.06 L342.50,75.20 L343.00,74.62 L343.50,74.86 L344.00,74.59 L344.50,73.97 L345.00,73.80 L345.50,73.44 L346.00,73.45 L346.50,73.44 L347.00,72.65 L347.50,72.97 L348.00,72.27 L348.50,72.16 L349.00,71.76 L349.50,72.42 L350.00,71.77 L350.50,71.62 L351.00,71.23 L351.50,71.42 L352.00,70.54 L352.50,70.83 L353.00,71.12 L353.50,70.38 L354.00,70.29 L354.50,70.26 L355.00,69.76 L355.50,69.77 L356.00,69.81 L356.50,69.48 L357.00,69.35 L357.50,69.03 L358.00,69.02 L358.50,68.80 L359.00,68.95 L359.50,68.64 L360.00,68.27 L360.50,67.63 L361.00,68.18 L361.50,68.04 L362.00,67.53 L362.50,67.14 L363.00,67.19 L363.50,67.50 L364.00,66.92 L364.50,66.91 L365.00,66.92 L365.50,67.01 L366.00,66.60 L366.50,66.44 L367.00,66.21 L367.50,66.56 L368.00,66.30 L368.50,65.91 L369.00,65.50 L369.50,65.50 L370.00,65.68 L370.50,65.26 L371.00,65.49 L371.50,65.25 L372.00,65.11 L372.50,65.07 L373.00,64.91 L373.50,64.49 L374.00,64.49 L374.50,64.96 L375.00,64.06 L375.50,64.10 L376.00,64.32 L376.50,63.94 L377.00,63.68 L377.50,63.45 L378.00,63.74 L378.50,63.74 L379.00,63.71 L379.50,63.30 L380.00,63.41 L380.50,62.84 L381.00,62.99 L381.50,62.70 L382.00,62.78 L382.50,62.79 L383.00,62.76 L383.50,62.20 L384.00,62.59 L384.50,62.10 L385.00,61.87 L385.50,61.96 L386.00,61.57 L386.50,61.79 L387.00,61.75 L387.50,61.54 L388.00,61.60 L388.50,61.31 L389.00,61.28 L389.50,60.86 L390.00,61.08 L390.50,60.79 L391.00,60.78 L391.50,60.76 L392.00,60.72 L392.50,60.22 L393.00,60.14 L393.50,60.33 L394.00,60.40 L394.50,60.28 L395.00,60.30 L395.50,60.30 L396.00,60.03 L396.50,59.82 L397.00,59.50 L397.50,59.43 L398.00,59.44 L398.50,59.51 L399.00,59.41 L399.50,59.28 L400.00,59.15 L400.50,59.23 L401.00,59.05 L401.50,58.98 L402.00,58.90 L402.50,58.62 L403.00,58.43 L403.50,58.67 L404.00,58.57 L404.50,58.34 L405.00,58.22 L405.50,58.72 L406.00,57.97 L406.50,58.00 L407.00,58.03 L407.50,57.63 L408.00,57.83 L408.50,58.11 L408.60,57.91 L409.10,75.50 L409.60,86.02 L410.10,91.75 L410.60,94.61 L411.10,96.70 L411.60,98.44 L412.10,99.82 L412.60,100.68 L413.10,101.61 L413.60,101.82 L414.10,103.31 L414.60,104.34 L415.10,104.90 L415.60,105.28 L416.10,105.86 L416.60,106.73 L417.10,107.01 L417.60,107.86 L418.10,108.00 L418.60,108.71 L419.10,109.15 L419.60,108.72 L420.10,109.53 L420.60,109.59 L421.10,109.70 L421.60,110.13 L422.10,110.45 L422.60,110.95 L423.10,110.61 L423.60,111.38 L424.10,111.80 L424.60,111.68 L425.10,111.86 L425.60,111.93 L426.10,111.85 L426.60,112.41 L427.10,112.55 L427.60,112.80 L428.10,113.37 L428.60,113.12 L429.10,113.21 L429.60,113.60 L430.10,113.11 L430.60,113.29 L431.10,113.60 L431.60,113.67 L432.10,114.09 L432.60,114.00 L433.10,114.58 L433.60,114.65 L434.10,114.61 L434.60,114.47 L435.10,114.81 L435.60,114.97 L436.10,114.68 L436.60,115.10 L437.10,115.30 L437.60,115.30 L438.10,115.72 L438.60,115.75 L439.10,115.42 L439.60,115.74 L440.10,115.64 L440.60,116.06 L441.10,115.86 L441.60,116.37 L442.10,116.37 L442.60,116.61 L443.10,116.48 L443.60,116.30 L444.10,117.13 L444.60,116.81 L445.10,117.27 L445.60,117.17 L446.10,117.34 L446.60,117.70 L447.10,117.48 L447.60,117.82 L448.10,117.29 L448.60,117.91 L449.10,117.77 L449.60,117.90 L450.10,118.03 L450.60,118.20 L451.10,118.58 L451.60,117.91 L452.10,118.41 L452.60,118.34 L453.10,118.84 L453.60,118.58 L454.10,118.85 L454.60,118.75 L455.10,119.06 L455.60,119.22 L456.10,118.99 L456.60,119.16 L457.10,118.91 L457.60,119.37 L458.10,119.56 L458.60,119.33 L459.10,119.77 L459.60,119.14 L460.10,119.25 L460.60,119.43 L461.10,119.69 L461.60,119.87 L462.10,119.92 L462.60,119.99 L463.10,120.23 L463.60,120.03 L464.10,119.92 L464.60,119.99 L465.10,120.79 L465.60,119.87 L466.10,120.41 L466.60,120.83 L467.10,120.68 L467.60,120.45 L468.10,120.69 L468.60,120.94 L469.10,121.07 L469.60,120.66 L470.10,121.09 L470.60,121.03 L471.10,121.27 L471.60,121.39 L472.10,121.06 L472.60,120.87 L473.10,121.33 L473.60,121.69 L474.10,121.50 L474.60,121.45 L475.10,121.98 L475.60,121.27 L476.10,121.75 L476.60,121.48 L477.10,121.66 L477.60,121.72 L478.10,122.08 L478.60,121.59 L479.10,121.73 L479.60,121.54 L480.10,122.04 L480.60,121.88 L481.10,122.12 L481.60,121.84 L482.10,122.04 L482.60,122.39 L483.10,122.17 L483.60,122.39 L484.10,122.41 L484.60,122.26 L485.10,122.03 L485.60,122.64 L486.10,122.50 L486.60,122.72 L487.10,122.10 L487.60,122.22 L488.10,122.15 L488.60,122.47 L489.10,122.93 L489.60,122.87 L490.10,122.77 L490.60,122.85 L491.10,123.02 L491.60,122.83 L492.10,123.02 L492.60,123.00 L493.10,122.53 L493.60,122.96 L494.10,123.38 L494.60,123.03 L495.10,123.12 L495.60,123.05 L495.80,123.09" fill="none" stroke="#f08c2e" stroke-width="1.3" stroke-linejoin="round"/>
<line x1="453.3" y1="23.3" x2="453.3" y2="82.7" stroke="#231f20" stroke-width="1.2"/>
<line x1="452.7" y1="82.1" x2="510" y2="82.1" stroke="#231f20" stroke-width="1.2"/>
<line x1="449.4" y1="77.2" x2="453.3" y2="77.2" stroke="#231f20" stroke-width="1.1"/>
<text x="0" y="0" font-family="Liberation Serif" font-size="8" text-anchor="end" fill="#231f20" stroke="#231f20" stroke-width="0.15" transform="translate(445.5 79.1) scale(1 0.78)">0</text>
<line x1="449.4" y1="52.3" x2="453.3" y2="52.3" stroke="#231f20" stroke-width="1.1"/>
<text x="0" y="0" font-family="Liberation Serif" font-size="8" text-anchor="end" fill="#231f20" stroke="#231f20" stroke-width="0.15" transform="translate(445.5 54.2) scale(1 0.78)">0.4</text>
<line x1="449.4" y1="27.4" x2="453.3" y2="27.4" stroke="#231f20" stroke-width="1.1"/>
<text x="0" y="0" font-family="Liberation Serif" font-size="8" text-anchor="end" fill="#231f20" stroke="#231f20" stroke-width="0.15" transform="translate(445.5 29.3) scale(1 0.78)">0.8</text>
<line x1="451" y1="68.9" x2="453.3" y2="68.9" stroke="#231f20" stroke-width="1.0"/>
<line x1="451" y1="60.6" x2="453.3" y2="60.6" stroke="#231f20" stroke-width="1.0"/>
<line x1="451" y1="44" x2="453.3" y2="44" stroke="#231f20" stroke-width="1.0"/>
<line x1="451" y1="35.7" x2="453.3" y2="35.7" stroke="#231f20" stroke-width="1.0"/>
<line x1="457.4" y1="82.1" x2="457.4" y2="86.9" stroke="#231f20" stroke-width="1.1"/>
<text x="0" y="0" font-family="Liberation Serif" font-size="8" text-anchor="middle" fill="#231f20" stroke="#231f20" stroke-width="0.15" transform="translate(457.4 96.2) scale(1 0.78)">0</text>
<line x1="479.9" y1="82.1" x2="479.9" y2="86.9" stroke="#231f20" stroke-width="1.1"/>
<text x="0" y="0" font-family="Liberation Serif" font-size="8" text-anchor="middle" fill="#231f20" stroke="#231f20" stroke-width="0.15" transform="translate(479.9 96.2) scale(1 0.78)">0.5</text>
<line x1="502.7" y1="82.1" x2="502.7" y2="86.9" stroke="#231f20" stroke-width="1.1"/>
<text x="0" y="0" font-family="Liberation Serif" font-size="8" text-anchor="middle" fill="#231f20" stroke="#231f20" stroke-width="0.15" transform="translate(502.7 96.2) scale(1 0.78)">1</text>
<line x1="468.7" y1="82.1" x2="468.7" y2="85.1" stroke="#231f20" stroke-width="1.0"/>
<line x1="491.5" y1="82.1" x2="491.5" y2="85.1" stroke="#231f20" stroke-width="1.0"/>
<path d="M458.20,77.60 L459.00,74.96 L459.80,73.80 L460.59,73.00 L461.39,72.28 L462.19,71.72 L462.99,71.19 L463.79,70.61 L464.59,69.91 L465.38,69.15 L466.18,68.35 L466.98,67.52 L467.78,66.70 L468.58,65.91 L469.38,65.17 L470.17,64.49 L470.97,63.83 L471.77,63.18 L472.57,62.54 L473.37,61.91 L474.17,61.30 L474.96,60.69 L475.76,60.11 L476.56,59.54 L477.36,58.98 L478.16,58.44 L478.96,57.92 L479.75,57.42 L480.55,56.94 L481.35,56.48 L482.15,56.04 L482.95,55.60 L483.75,55.17 L484.54,54.75 L485.34,54.34 L486.14,53.94 L486.94,53.56 L487.74,53.19 L488.54,52.84 L489.33,52.51 L490.13,52.21 L490.93,51.93 L491.73,51.68 L492.53,51.45 L493.33,51.23 L494.12,51.00 L494.92,50.79 L495.72,50.58 L496.52,50.38 L497.32,50.18 L498.12,50.00 L498.91,49.82 L499.71,49.66 L500.51,49.50 L501.31,49.36 L502.11,49.24 L502.91,49.13 L503.70,49.03 L504.50,48.96 L505.30,48.90" fill="none" stroke="#231f20" stroke-width="1.85"/>
<rect x="455.8" y="73" width="5.6" height="5.6" fill="#cf6aa6" stroke="#231f20" stroke-width="0.9"/>
<rect x="458" y="70" width="5.6" height="5.6" fill="#8a3a2c" stroke="#231f20" stroke-width="0.9"/>
<rect x="461" y="67.8" width="5.6" height="5.6" fill="#55b45a" stroke="#231f20" stroke-width="0.9"/>
<rect x="467" y="62" width="5.6" height="5.6" fill="#9a7bb5" stroke="#231f20" stroke-width="0.9"/>
<rect x="478.7" y="53.6" width="5.6" height="5.6" fill="#2badde" stroke="#231f20" stroke-width="0.9"/>
<rect x="502.5" y="46.1" width="5.6" height="5.6" fill="#ee9a3a" stroke="#231f20" stroke-width="0.9"/>
<line x1="54.9" y1="235.2" x2="54.9" y2="363.3" stroke="#231f20" stroke-width="1.55"/>
<line x1="54.15" y1="362.5" x2="242.8" y2="362.5" stroke="#231f20" stroke-width="1.65"/>
<line x1="50.1" y1="358.4" x2="54.9" y2="358.4" stroke="#231f20" stroke-width="1.3"/>
<text x="46" y="362.3" font-family="Liberation Sans" font-size="11" text-anchor="end" fill="#231f20" stroke="#231f20" stroke-width="0.2">0</text>
<line x1="50.1" y1="319" x2="54.9" y2="319" stroke="#231f20" stroke-width="1.3"/>
<text x="46" y="322.9" font-family="Liberation Sans" font-size="11" text-anchor="end" fill="#231f20" stroke="#231f20" stroke-width="0.2">0.1</text>
<line x1="50.1" y1="279.6" x2="54.9" y2="279.6" stroke="#231f20" stroke-width="1.3"/>
<text x="46" y="283.5" font-family="Liberation Sans" font-size="11" text-anchor="end" fill="#231f20" stroke="#231f20" stroke-width="0.2">0.2</text>
<line x1="50.1" y1="240.2" x2="54.9" y2="240.2" stroke="#231f20" stroke-width="1.3"/>
<text x="46" y="244.1" font-family="Liberation Sans" font-size="11" text-anchor="end" fill="#231f20" stroke="#231f20" stroke-width="0.2">0.3</text>
<line x1="52.3" y1="338.7" x2="54.9" y2="338.7" stroke="#231f20" stroke-width="1.2"/>
<line x1="52.3" y1="299.3" x2="54.9" y2="299.3" stroke="#231f20" stroke-width="1.2"/>
<line x1="52.3" y1="259.9" x2="54.9" y2="259.9" stroke="#231f20" stroke-width="1.2"/>
<line x1="62.9" y1="362.5" x2="62.9" y2="367.5" stroke="#231f20" stroke-width="1.3"/>
<text x="62.9" y="382" font-family="Liberation Sans" font-size="11" text-anchor="middle" fill="#231f20" stroke="#231f20" stroke-width="0.2">0</text>
<line x1="92.13" y1="362.5" x2="92.13" y2="367.5" stroke="#231f20" stroke-width="1.3"/>
<text x="92.13" y="382" font-family="Liberation Sans" font-size="11" text-anchor="middle" fill="#231f20" stroke="#231f20" stroke-width="0.2">100</text>
<line x1="121.36" y1="362.5" x2="121.36" y2="367.5" stroke="#231f20" stroke-width="1.3"/>
<text x="121.36" y="382" font-family="Liberation Sans" font-size="11" text-anchor="middle" fill="#231f20" stroke="#231f20" stroke-width="0.2">200</text>
<line x1="150.59" y1="362.5" x2="150.59" y2="367.5" stroke="#231f20" stroke-width="1.3"/>
<text x="150.59" y="382" font-family="Liberation Sans" font-size="11" text-anchor="middle" fill="#231f20" stroke="#231f20" stroke-width="0.2">300</text>
<line x1="179.82" y1="362.5" x2="179.82" y2="367.5" stroke="#231f20" stroke-width="1.3"/>
<text x="179.82" y="382" font-family="Liberation Sans" font-size="11" text-anchor="middle" fill="#231f20" stroke="#231f20" stroke-width="0.2">400</text>
<line x1="209.05" y1="362.5" x2="209.05" y2="367.5" stroke="#231f20" stroke-width="1.3"/>
<text x="209.05" y="382" font-family="Liberation Sans" font-size="11" text-anchor="middle" fill="#231f20" stroke="#231f20" stroke-width="0.2">500</text>
<line x1="238.28" y1="362.5" x2="238.28" y2="367.5" stroke="#231f20" stroke-width="1.3"/>
<text x="238.28" y="382" font-family="Liberation Sans" font-size="11" text-anchor="middle" fill="#231f20" stroke="#231f20" stroke-width="0.2">600</text>
<path d="M62.90,347.67 L63.40,343.72 L63.90,341.79 L64.40,339.74 L64.90,340.79 L65.40,339.58 L65.90,339.38 L66.40,340.74 L66.90,340.52 L67.40,338.82 L67.90,340.40 L68.40,340.10 L68.90,339.32 L69.40,340.21 L69.90,338.78 L70.40,339.02 L70.90,338.86 L71.40,339.05 L71.90,340.24 L72.40,338.90 L72.90,339.00 L73.40,339.12 L73.90,339.80 L74.40,339.47 L74.90,340.19 L75.40,339.24 L75.90,338.88 L76.40,339.35 L76.90,339.66 L77.40,339.08 L77.90,339.79 L78.40,340.71 L78.90,339.26 L79.40,339.63 L79.90,340.40 L80.40,339.19 L80.90,339.06 L81.40,338.90 L81.90,339.79 L82.40,339.84 L82.90,339.44 L83.40,339.54 L83.90,340.27 L84.40,340.01 L84.90,338.64 L85.40,339.46 L85.90,339.52 L86.40,339.87 L86.90,339.29 L87.40,339.03 L87.90,339.13 L88.40,338.33 L88.90,339.37 L89.40,339.01 L89.90,339.64 L90.40,338.73 L90.90,339.07 L91.40,338.73 L91.90,338.67 L92.40,339.72 L92.90,339.01 L93.40,339.54 L93.90,338.59 L94.40,339.31 L94.90,338.22 L95.40,338.94 L95.90,338.91 L96.40,339.55 L96.90,339.30 L97.40,339.08 L97.90,339.67 L98.40,339.27 L98.90,339.47 L99.40,339.60 L99.90,339.09 L100.40,338.94 L100.90,339.30 L101.40,338.85 L101.90,339.32 L102.40,339.74 L102.90,339.58 L103.40,338.83 L103.90,338.27 L104.40,339.00 L104.90,338.95 L105.40,339.68 L105.90,338.78 L106.40,338.87 L106.90,339.43 L107.40,338.69 L107.90,338.87 L108.40,339.99 L108.90,339.84 L109.40,339.32 L109.90,339.09 L110.40,338.34 L110.90,339.25 L111.40,338.94 L111.90,339.02 L112.40,338.57 L112.90,338.87 L113.40,338.75 L113.90,339.04 L114.40,339.70 L114.90,339.05 L115.40,337.83 L115.90,338.23 L116.40,337.86 L116.90,338.32 L117.40,339.12 L117.90,339.02 L118.40,338.41 L118.90,338.92 L119.40,338.29 L119.90,337.89 L120.40,337.88 L120.90,338.20 L121.40,339.56 L121.90,337.89 L122.40,339.43 L122.90,339.47 L123.40,338.56 L123.90,338.63 L124.40,338.28 L124.90,338.62 L125.40,339.02 L125.90,338.62 L126.40,339.21 L126.90,339.31 L127.40,338.79 L127.90,338.78 L128.40,338.53 L128.90,338.77 L129.40,337.88 L129.90,338.78 L130.40,338.65 L130.90,338.01 L131.40,339.80 L131.90,337.92 L132.40,337.97 L132.90,338.65 L133.40,337.32 L133.90,337.99 L134.40,337.54 L134.90,337.87 L135.40,338.36 L135.90,338.62 L136.40,339.08 L136.90,338.89 L137.40,339.11 L137.90,338.75 L138.40,338.10 L138.90,339.04 L139.40,338.07 L139.90,337.99 L140.40,339.26 L140.90,338.81 L141.40,338.46 L141.90,338.77 L142.40,338.84 L142.90,337.49 L143.40,338.24 L143.90,337.58 L144.40,338.35 L144.90,337.87 L145.40,339.08 L145.90,338.56 L146.40,337.76 L146.90,338.23 L147.40,337.50 L147.90,338.24 L148.40,338.54 L148.90,338.36 L149.40,337.04 L149.90,337.99 L150.40,338.48 L150.90,338.35 L151.20,338.86 L151.70,343.41 L152.20,344.69 L152.70,346.00 L153.20,346.44 L153.70,346.80 L154.20,346.18 L154.70,346.74 L155.20,346.01 L155.70,345.93 L156.20,347.17 L156.70,346.85 L157.20,345.96 L157.70,346.46 L158.20,347.02 L158.70,347.98 L159.20,347.70 L159.70,347.58 L160.20,346.05 L160.70,347.09 L161.20,347.45 L161.70,347.42 L162.20,347.45 L162.70,347.08 L163.20,348.29 L163.70,348.13 L164.20,347.21 L164.70,346.69 L165.20,348.52 L165.70,346.97 L166.20,348.03 L166.70,348.47 L167.20,346.77 L167.70,347.53 L168.20,347.15 L168.70,347.68 L169.20,347.58 L169.70,348.57 L170.20,347.76 L170.70,347.42 L171.20,348.11 L171.70,347.28 L172.20,347.24 L172.70,348.81 L173.20,346.99 L173.70,347.20 L174.20,347.53 L174.70,346.88 L175.20,346.26 L175.70,348.17 L176.20,347.08 L176.70,347.24 L177.20,347.35 L177.70,347.00 L178.20,346.95 L178.70,347.71 L179.20,349.06 L179.70,348.08 L180.20,348.09 L180.70,346.76 L181.20,347.66 L181.70,346.97 L182.20,348.16 L182.70,347.57 L183.20,347.74 L183.70,347.68 L184.20,347.39 L184.70,346.84 L185.20,348.11 L185.70,346.95 L186.20,347.08 L186.70,347.62 L187.20,347.39 L187.70,347.98 L188.20,348.44 L188.70,348.00 L189.20,347.98 L189.70,347.89 L190.20,348.40 L190.70,346.79 L191.20,348.13 L191.70,347.36 L192.20,347.19 L192.70,347.94 L193.20,347.72 L193.70,348.31 L194.20,348.63 L194.70,346.59 L195.20,347.95 L195.70,349.18 L196.20,348.54 L196.70,348.90 L197.20,348.10 L197.70,347.19 L198.20,347.38 L198.70,348.50 L199.20,348.66 L199.70,347.65 L200.20,347.94 L200.70,348.27 L201.20,347.07 L201.70,347.92 L202.20,349.11 L202.70,349.46 L203.20,348.10 L203.70,349.27 L204.20,347.87 L204.70,347.71 L205.20,346.86 L205.70,348.79 L206.20,348.00 L206.70,349.64 L207.20,348.44 L207.70,348.36 L208.20,347.18 L208.70,349.17 L209.20,348.06 L209.70,348.19 L210.20,346.98 L210.70,348.86 L211.20,348.91 L211.70,347.96 L212.20,348.39 L212.70,348.58 L213.20,348.93 L213.70,348.43 L214.20,349.41 L214.70,348.24 L215.20,348.03 L215.70,348.12 L216.20,346.89 L216.70,347.93 L217.20,349.03 L217.70,348.59 L218.20,347.95 L218.70,348.66 L219.20,347.25 L219.70,348.30 L220.20,348.79 L220.70,348.91 L221.20,348.03 L221.70,349.05 L222.20,349.63 L222.70,348.26 L223.20,348.97 L223.70,347.60 L224.20,347.37 L224.70,348.92 L225.20,348.59 L225.70,348.69 L226.20,348.23 L226.70,348.41 L227.20,349.08 L227.70,349.63 L228.20,348.48 L228.70,347.63 L229.20,349.39 L229.70,348.99 L230.20,349.05 L230.70,348.76 L231.20,350.05 L231.70,348.71 L232.20,348.98 L232.70,347.57 L233.20,348.34 L233.70,348.28 L234.20,348.68 L234.70,348.92 L235.20,348.27 L235.70,349.76 L236.20,348.09 L236.70,348.47 L237.20,348.89 L237.70,348.00 L238.20,349.10 L238.70,349.14 L239.00,348.59" fill="none" stroke="#6f3a8f" stroke-width="1.8" stroke-linejoin="round"/>
<path d="M62.90,346.12 L63.40,338.52 L63.90,337.76 L64.40,336.65 L64.90,335.98 L65.40,336.44 L65.90,336.51 L66.40,336.33 L66.90,336.98 L67.40,335.01 L67.90,335.70 L68.40,335.22 L68.90,337.06 L69.40,335.86 L69.90,335.84 L70.40,335.44 L70.90,336.60 L71.40,335.77 L71.90,336.11 L72.40,334.72 L72.90,336.61 L73.40,336.11 L73.90,336.17 L74.40,336.56 L74.90,335.67 L75.40,335.66 L75.90,336.16 L76.40,335.96 L76.90,335.54 L77.40,335.69 L77.90,335.34 L78.40,336.05 L78.90,336.16 L79.40,335.58 L79.90,336.69 L80.40,334.62 L80.90,335.38 L81.40,336.54 L81.90,335.24 L82.40,334.51 L82.90,336.30 L83.40,335.78 L83.90,334.72 L84.40,335.89 L84.90,334.79 L85.40,334.59 L85.90,335.29 L86.40,335.08 L86.90,334.70 L87.40,335.12 L87.90,334.73 L88.40,335.36 L88.90,335.29 L89.40,335.74 L89.90,335.01 L90.40,334.47 L90.90,334.47 L91.40,335.10 L91.90,336.16 L92.40,335.74 L92.90,334.83 L93.40,335.77 L93.90,334.50 L94.40,335.80 L94.90,334.95 L95.40,335.63 L95.90,335.53 L96.40,334.98 L96.90,335.34 L97.40,334.49 L97.90,335.08 L98.40,335.76 L98.90,337.57 L99.40,335.51 L99.90,335.13 L100.40,334.46 L100.90,335.70 L101.40,334.05 L101.90,334.56 L102.40,335.25 L102.90,334.29 L103.40,335.94 L103.90,335.66 L104.40,334.64 L104.90,334.64 L105.40,334.17 L105.90,334.11 L106.40,335.20 L106.90,335.30 L107.40,335.12 L107.90,335.06 L108.40,334.55 L108.90,335.09 L109.40,333.97 L109.90,334.85 L110.40,335.72 L110.90,335.62 L111.40,334.53 L111.90,334.59 L112.40,335.61 L112.90,335.84 L113.40,333.85 L113.90,334.48 L114.40,334.86 L114.90,335.44 L115.40,334.18 L115.90,335.06 L116.40,334.48 L116.90,336.07 L117.40,334.89 L117.90,334.53 L118.40,334.40 L118.90,335.22 L119.40,334.98 L119.90,333.90 L120.40,334.67 L120.90,333.71 L121.40,334.05 L121.90,333.71 L122.40,333.67 L122.90,334.04 L123.40,333.85 L123.90,334.74 L124.40,334.89 L124.90,334.25 L125.40,333.70 L125.90,334.85 L126.40,333.13 L126.90,333.17 L127.40,334.75 L127.90,334.69 L128.40,334.87 L128.90,334.14 L129.40,333.49 L129.90,333.93 L130.40,334.56 L130.90,333.74 L131.40,333.77 L131.90,333.33 L132.40,333.46 L132.90,334.65 L133.40,334.40 L133.90,333.41 L134.40,333.44 L134.90,333.74 L135.40,334.39 L135.90,333.34 L136.40,333.93 L136.90,332.72 L137.40,333.24 L137.90,334.24 L138.40,334.51 L138.90,333.25 L139.40,333.47 L139.90,334.40 L140.40,333.67 L140.90,333.56 L141.40,334.19 L141.90,333.98 L142.40,334.51 L142.90,334.31 L143.40,333.46 L143.90,333.72 L144.40,333.74 L144.90,332.95 L145.40,333.16 L145.90,334.32 L146.40,332.76 L146.90,334.30 L147.40,333.86 L147.90,333.59 L148.40,333.98 L148.90,333.93 L149.40,334.36 L149.90,333.37 L150.40,333.46 L150.90,333.44 L151.20,334.71 L151.70,337.72 L152.20,339.77 L152.70,340.25 L153.20,341.10 L153.70,341.53 L154.20,343.05 L154.70,340.83 L155.20,342.78 L155.70,342.63 L156.20,342.13 L156.70,342.63 L157.20,342.57 L157.70,343.03 L158.20,343.73 L158.70,342.31 L159.20,344.12 L159.70,343.19 L160.20,344.40 L160.70,343.83 L161.20,344.39 L161.70,344.06 L162.20,344.45 L162.70,343.89 L163.20,343.42 L163.70,344.39 L164.20,344.47 L164.70,345.37 L165.20,342.96 L165.70,344.11 L166.20,344.92 L166.70,343.59 L167.20,344.26 L167.70,345.73 L168.20,345.36 L168.70,344.04 L169.20,345.48 L169.70,345.40 L170.20,345.21 L170.70,345.04 L171.20,345.01 L171.70,344.41 L172.20,344.69 L172.70,345.50 L173.20,345.20 L173.70,346.29 L174.20,345.04 L174.70,343.85 L175.20,345.15 L175.70,345.57 L176.20,345.69 L176.70,345.55 L177.20,345.06 L177.70,346.50 L178.20,345.25 L178.70,346.11 L179.20,345.55 L179.70,345.04 L180.20,346.65 L180.70,344.32 L181.20,345.35 L181.70,346.15 L182.20,345.71 L182.70,346.40 L183.20,345.92 L183.70,345.73 L184.20,347.33 L184.70,345.93 L185.20,345.99 L185.70,345.46 L186.20,345.68 L186.70,346.54 L187.20,346.51 L187.70,346.20 L188.20,345.80 L188.70,346.65 L189.20,345.24 L189.70,346.08 L190.20,346.15 L190.70,345.82 L191.20,346.43 L191.70,345.96 L192.20,345.90 L192.70,347.48 L193.20,346.86 L193.70,347.16 L194.20,346.49 L194.70,347.05 L195.20,346.96 L195.70,347.24 L196.20,347.95 L196.70,346.41 L197.20,346.72 L197.70,346.55 L198.20,344.49 L198.70,345.78 L199.20,346.65 L199.70,347.03 L200.20,346.32 L200.70,347.37 L201.20,347.47 L201.70,346.47 L202.20,347.59 L202.70,347.80 L203.20,347.05 L203.70,346.19 L204.20,347.68 L204.70,346.72 L205.20,346.60 L205.70,346.91 L206.20,346.54 L206.70,347.52 L207.20,347.35 L207.70,347.63 L208.20,347.27 L208.70,346.45 L209.20,346.85 L209.70,347.48 L210.20,346.73 L210.70,348.74 L211.20,346.85 L211.70,346.66 L212.20,347.72 L212.70,347.49 L213.20,347.04 L213.70,346.93 L214.20,347.33 L214.70,347.59 L215.20,347.56 L215.70,346.93 L216.20,347.39 L216.70,347.65 L217.20,347.61 L217.70,345.31 L218.20,346.64 L218.70,346.72 L219.20,347.06 L219.70,347.32 L220.20,347.77 L220.70,347.60 L221.20,347.17 L221.70,347.27 L222.20,348.32 L222.70,346.91 L223.20,347.47 L223.70,348.24 L224.20,347.52 L224.70,346.10 L225.20,347.56 L225.70,347.11 L226.20,347.29 L226.70,347.99 L227.20,347.66 L227.70,347.23 L228.20,347.93 L228.70,347.67 L229.20,347.48 L229.70,347.61 L230.20,347.59 L230.70,347.24 L231.20,347.18 L231.70,347.48 L232.20,346.90 L232.70,346.73 L233.20,348.27 L233.70,347.36 L234.20,347.50 L234.70,347.44 L235.20,347.55 L235.70,347.55 L236.20,347.59 L236.70,347.08 L237.20,348.13 L237.70,347.16 L238.20,348.21 L238.70,346.44 L239.00,346.96" fill="none" stroke="#6d2e20" stroke-width="2.1" stroke-linejoin="round"/>
<path d="M62.90,346.60 L63.40,342.32 L63.90,340.35 L64.40,340.13 L64.90,338.82 L65.40,339.17 L65.90,337.55 L66.40,338.42 L66.90,338.15 L67.40,338.74 L67.90,338.85 L68.40,337.74 L68.90,339.15 L69.40,337.78 L69.90,336.86 L70.40,336.63 L70.90,338.95 L71.40,337.95 L71.90,337.58 L72.40,337.50 L72.90,337.27 L73.40,338.72 L73.90,337.84 L74.40,338.95 L74.90,337.74 L75.40,336.43 L75.90,338.33 L76.40,337.58 L76.90,337.65 L77.40,338.71 L77.90,337.60 L78.40,338.44 L78.90,337.72 L79.40,337.26 L79.90,337.99 L80.40,337.31 L80.90,338.40 L81.40,338.22 L81.90,337.67 L82.40,337.98 L82.90,337.94 L83.40,337.43 L83.90,338.12 L84.40,337.43 L84.90,337.92 L85.40,336.97 L85.90,337.59 L86.40,337.77 L86.90,337.04 L87.40,337.25 L87.90,337.17 L88.40,337.91 L88.90,337.03 L89.40,337.72 L89.90,338.36 L90.40,337.65 L90.90,336.46 L91.40,337.49 L91.90,338.03 L92.40,337.22 L92.90,338.05 L93.40,337.74 L93.90,337.61 L94.40,337.19 L94.90,337.03 L95.40,337.17 L95.90,337.35 L96.40,337.62 L96.90,337.55 L97.40,337.10 L97.90,337.31 L98.40,337.49 L98.90,336.28 L99.40,336.78 L99.90,336.75 L100.40,337.09 L100.90,337.04 L101.40,337.04 L101.90,336.66 L102.40,337.57 L102.90,337.33 L103.40,336.16 L103.90,337.14 L104.40,336.45 L104.90,338.13 L105.40,336.83 L105.90,336.85 L106.40,337.12 L106.90,336.94 L107.40,337.01 L107.90,337.96 L108.40,337.15 L108.90,337.50 L109.40,337.66 L109.90,336.39 L110.40,337.97 L110.90,337.35 L111.40,337.50 L111.90,336.39 L112.40,337.38 L112.90,337.12 L113.40,336.54 L113.90,338.21 L114.40,337.16 L114.90,336.66 L115.40,336.91 L115.90,337.32 L116.40,337.43 L116.90,337.09 L117.40,337.45 L117.90,337.58 L118.40,335.94 L118.90,336.37 L119.40,336.08 L119.90,336.69 L120.40,337.48 L120.90,336.98 L121.40,335.95 L121.90,336.38 L122.40,337.15 L122.90,336.20 L123.40,336.44 L123.90,336.66 L124.40,335.37 L124.90,336.91 L125.40,336.63 L125.90,336.75 L126.40,335.80 L126.90,335.91 L127.40,335.99 L127.90,336.48 L128.40,336.35 L128.90,336.37 L129.40,337.35 L129.90,337.04 L130.40,335.81 L130.90,335.83 L131.40,337.23 L131.90,335.99 L132.40,336.99 L132.90,337.10 L133.40,335.80 L133.90,335.95 L134.40,336.14 L134.90,335.55 L135.40,335.47 L135.90,335.80 L136.40,336.53 L136.90,335.73 L137.40,335.86 L137.90,335.69 L138.40,335.13 L138.90,336.82 L139.40,334.51 L139.90,335.50 L140.40,336.21 L140.90,335.02 L141.40,336.20 L141.90,336.57 L142.40,335.29 L142.90,335.91 L143.40,335.11 L143.90,336.06 L144.40,335.79 L144.90,335.85 L145.40,336.52 L145.90,335.97 L146.40,336.48 L146.90,336.03 L147.40,334.92 L147.90,335.78 L148.40,335.90 L148.90,334.72 L149.40,336.37 L149.90,335.59 L150.40,335.76 L150.90,334.98 L151.20,335.56 L151.70,339.83 L152.20,341.76 L152.70,341.02 L153.20,343.41 L153.70,342.12 L154.20,341.63 L154.70,342.48 L155.20,342.66 L155.70,343.58 L156.20,342.80 L156.70,343.61 L157.20,342.96 L157.70,344.95 L158.20,344.05 L158.70,344.98 L159.20,343.29 L159.70,344.37 L160.20,343.48 L160.70,344.48 L161.20,344.61 L161.70,343.32 L162.20,343.66 L162.70,343.71 L163.20,343.57 L163.70,344.09 L164.20,344.01 L164.70,343.78 L165.20,344.76 L165.70,345.08 L166.20,344.01 L166.70,344.52 L167.20,344.91 L167.70,344.81 L168.20,344.57 L168.70,345.52 L169.20,345.59 L169.70,345.53 L170.20,345.04 L170.70,346.39 L171.20,346.28 L171.70,345.04 L172.20,345.24 L172.70,346.06 L173.20,344.90 L173.70,345.65 L174.20,345.48 L174.70,345.06 L175.20,345.37 L175.70,344.60 L176.20,345.25 L176.70,344.40 L177.20,347.00 L177.70,346.56 L178.20,346.42 L178.70,345.89 L179.20,346.34 L179.70,346.53 L180.20,346.40 L180.70,346.36 L181.20,345.29 L181.70,346.12 L182.20,345.56 L182.70,345.20 L183.20,345.25 L183.70,346.21 L184.20,346.61 L184.70,345.18 L185.20,347.07 L185.70,346.92 L186.20,345.83 L186.70,345.80 L187.20,346.06 L187.70,346.71 L188.20,345.91 L188.70,345.50 L189.20,346.39 L189.70,344.96 L190.20,346.30 L190.70,346.93 L191.20,346.44 L191.70,346.74 L192.20,346.59 L192.70,346.74 L193.20,346.41 L193.70,345.84 L194.20,346.22 L194.70,346.33 L195.20,347.15 L195.70,347.38 L196.20,346.68 L196.70,345.99 L197.20,346.02 L197.70,346.36 L198.20,347.32 L198.70,346.70 L199.20,346.49 L199.70,346.08 L200.20,347.08 L200.70,346.74 L201.20,346.55 L201.70,346.66 L202.20,347.62 L202.70,346.53 L203.20,347.65 L203.70,347.40 L204.20,346.70 L204.70,347.21 L205.20,346.62 L205.70,346.21 L206.20,346.56 L206.70,346.19 L207.20,347.05 L207.70,346.77 L208.20,347.11 L208.70,347.28 L209.20,344.92 L209.70,346.99 L210.20,345.74 L210.70,346.93 L211.20,346.32 L211.70,346.92 L212.20,347.69 L212.70,345.86 L213.20,347.01 L213.70,346.86 L214.20,345.78 L214.70,347.32 L215.20,346.96 L215.70,346.65 L216.20,346.53 L216.70,348.90 L217.20,346.75 L217.70,345.91 L218.20,346.45 L218.70,346.80 L219.20,346.80 L219.70,346.99 L220.20,346.42 L220.70,347.38 L221.20,346.78 L221.70,346.26 L222.20,346.60 L222.70,346.87 L223.20,347.62 L223.70,347.41 L224.20,346.93 L224.70,347.15 L225.20,347.28 L225.70,348.38 L226.20,346.80 L226.70,347.46 L227.20,347.63 L227.70,346.63 L228.20,347.32 L228.70,347.32 L229.20,346.95 L229.70,347.58 L230.20,347.86 L230.70,347.93 L231.20,347.15 L231.70,347.39 L232.20,348.69 L232.70,346.63 L233.20,347.43 L233.70,347.84 L234.20,347.41 L234.70,347.72 L235.20,347.44 L235.70,347.80 L236.20,348.12 L236.70,347.23 L237.20,347.49 L237.70,347.35 L238.20,347.14 L238.70,347.38 L239.00,346.72" fill="none" stroke="#17994a" stroke-width="1.8" stroke-linejoin="round"/>
<path d="M62.90,356.45 L63.40,345.35 L63.90,341.92 L64.40,340.91 L64.90,339.18 L65.40,340.35 L65.90,338.67 L66.40,338.78 L66.90,339.67 L67.40,337.68 L67.90,338.60 L68.40,338.04 L68.90,337.57 L69.40,336.92 L69.90,337.49 L70.40,336.76 L70.90,337.47 L71.40,337.39 L71.90,335.65 L72.40,336.00 L72.90,335.94 L73.40,335.25 L73.90,335.13 L74.40,335.70 L74.90,335.37 L75.40,334.36 L75.90,334.89 L76.40,335.39 L76.90,334.22 L77.40,334.26 L77.90,335.65 L78.40,335.36 L78.90,333.48 L79.40,333.53 L79.90,334.46 L80.40,333.41 L80.90,333.87 L81.40,333.65 L81.90,334.16 L82.40,332.20 L82.90,332.30 L83.40,332.79 L83.90,334.04 L84.40,333.25 L84.90,332.23 L85.40,333.46 L85.90,333.50 L86.40,332.84 L86.90,332.70 L87.40,333.07 L87.90,333.45 L88.40,332.73 L88.90,332.87 L89.40,332.44 L89.90,332.15 L90.40,331.75 L90.90,332.37 L91.40,331.95 L91.90,331.90 L92.40,332.52 L92.90,332.18 L93.40,332.32 L93.90,330.77 L94.40,331.97 L94.90,331.20 L95.40,330.99 L95.90,330.88 L96.40,332.04 L96.90,331.73 L97.40,330.73 L97.90,330.40 L98.40,331.01 L98.90,330.65 L99.40,331.85 L99.90,329.90 L100.40,329.60 L100.90,330.47 L101.40,330.56 L101.90,330.56 L102.40,330.86 L102.90,331.58 L103.40,330.07 L103.90,329.87 L104.40,329.08 L104.90,330.21 L105.40,330.51 L105.90,329.78 L106.40,330.57 L106.90,329.82 L107.40,330.65 L107.90,329.87 L108.40,328.98 L108.90,329.17 L109.40,328.57 L109.90,328.39 L110.40,329.53 L110.90,329.83 L111.40,330.42 L111.90,329.16 L112.40,328.99 L112.90,328.41 L113.40,329.61 L113.90,329.20 L114.40,328.55 L114.90,329.26 L115.40,329.13 L115.90,327.62 L116.40,329.13 L116.90,328.71 L117.40,328.34 L117.90,328.27 L118.40,329.51 L118.90,329.33 L119.40,329.45 L119.90,327.61 L120.40,327.86 L120.90,328.74 L121.40,327.42 L121.90,327.66 L122.40,326.96 L122.90,329.10 L123.40,328.57 L123.90,328.16 L124.40,327.96 L124.90,327.53 L125.40,327.49 L125.90,328.04 L126.40,327.19 L126.90,328.31 L127.40,327.22 L127.90,326.94 L128.40,328.19 L128.90,327.28 L129.40,327.64 L129.90,327.01 L130.40,325.86 L130.90,327.49 L131.40,326.30 L131.90,327.71 L132.40,326.08 L132.90,325.84 L133.40,327.09 L133.90,327.11 L134.40,326.87 L134.90,326.03 L135.40,327.24 L135.90,325.78 L136.40,326.33 L136.90,326.08 L137.40,326.28 L137.90,326.97 L138.40,326.03 L138.90,326.70 L139.40,326.73 L139.90,325.24 L140.40,325.51 L140.90,325.94 L141.40,325.76 L141.90,326.25 L142.40,324.86 L142.90,326.41 L143.40,326.37 L143.90,325.78 L144.40,325.00 L144.90,325.79 L145.40,325.41 L145.90,326.03 L146.40,325.59 L146.90,326.03 L147.40,325.29 L147.90,326.37 L148.40,324.07 L148.90,324.80 L149.40,325.66 L149.90,324.41 L150.40,325.71 L150.90,324.50 L151.20,325.26 L151.70,335.86 L152.20,341.10 L152.70,343.71 L153.20,344.26 L153.70,346.16 L154.20,345.12 L154.70,344.70 L155.20,345.98 L155.70,346.04 L156.20,346.40 L156.70,346.85 L157.20,345.34 L157.70,346.66 L158.20,346.83 L158.70,346.26 L159.20,346.51 L159.70,344.66 L160.20,346.20 L160.70,347.71 L161.20,345.65 L161.70,346.48 L162.20,347.05 L162.70,347.29 L163.20,348.00 L163.70,346.03 L164.20,347.18 L164.70,347.73 L165.20,346.49 L165.70,347.32 L166.20,348.53 L166.70,348.25 L167.20,347.84 L167.70,346.00 L168.20,347.54 L168.70,347.90 L169.20,347.54 L169.70,347.73 L170.20,349.67 L170.70,347.74 L171.20,347.34 L171.70,348.11 L172.20,347.82 L172.70,347.87 L173.20,348.05 L173.70,348.61 L174.20,348.33 L174.70,347.51 L175.20,348.19 L175.70,348.60 L176.20,348.07 L176.70,349.08 L177.20,348.90 L177.70,347.88 L178.20,348.70 L178.70,349.74 L179.20,349.53 L179.70,348.60 L180.20,349.21 L180.70,348.30 L181.20,347.88 L181.70,349.12 L182.20,348.97 L182.70,349.17 L183.20,348.88 L183.70,349.13 L184.20,348.66 L184.70,349.29 L185.20,349.54 L185.70,349.04 L186.20,349.60 L186.70,348.08 L187.20,348.71 L187.70,350.08 L188.20,350.30 L188.70,349.43 L189.20,349.25 L189.70,348.58 L190.20,349.59 L190.70,349.87 L191.20,348.54 L191.70,349.80 L192.20,349.78 L192.70,349.78 L193.20,348.87 L193.70,349.90 L194.20,348.70 L194.70,350.52 L195.20,349.74 L195.70,348.99 L196.20,350.52 L196.70,350.43 L197.20,349.37 L197.70,351.11 L198.20,349.21 L198.70,350.02 L199.20,350.57 L199.70,348.52 L200.20,350.51 L200.70,349.89 L201.20,349.94 L201.70,349.33 L202.20,350.19 L202.70,349.35 L203.20,349.46 L203.70,349.79 L204.20,349.35 L204.70,351.05 L205.20,349.33 L205.70,349.69 L206.20,349.98 L206.70,350.19 L207.20,350.68 L207.70,350.72 L208.20,350.06 L208.70,350.03 L209.20,350.31 L209.70,350.80 L210.20,350.74 L210.70,350.03 L211.20,349.12 L211.70,351.66 L212.20,350.97 L212.70,350.57 L213.20,350.64 L213.70,350.14 L214.20,349.87 L214.70,350.29 L215.20,350.37 L215.70,350.15 L216.20,349.66 L216.70,350.37 L217.20,350.92 L217.70,350.29 L218.20,350.62 L218.70,349.38 L219.20,350.51 L219.70,350.58 L220.20,349.94 L220.70,349.65 L221.20,350.95 L221.70,350.23 L222.20,351.03 L222.70,350.50 L223.20,351.14 L223.70,350.58 L224.20,349.89 L224.70,350.76 L225.20,350.63 L225.70,351.24 L226.20,350.59 L226.70,350.63 L227.20,351.40 L227.70,351.60 L228.20,351.37 L228.70,351.55 L229.20,351.21 L229.70,351.42 L230.20,351.50 L230.70,351.23 L231.20,351.03 L231.70,351.10 L232.20,352.47 L232.70,351.05 L233.20,350.91 L233.70,350.85 L234.20,351.06 L234.70,351.24 L235.20,350.43 L235.70,349.93 L236.20,351.31 L236.70,350.18 L237.20,351.31 L237.70,351.25 L238.20,351.87 L238.70,352.19 L239.00,351.42" fill="none" stroke="#e23f8c" stroke-width="2.2" stroke-linejoin="round"/>
<line x1="193.9" y1="231.9" x2="193.9" y2="291.5" stroke="#231f20" stroke-width="1.2"/>
<line x1="193.3" y1="290.9" x2="250.8" y2="290.9" stroke="#231f20" stroke-width="1.2"/>
<line x1="190" y1="286.4" x2="193.9" y2="286.4" stroke="#231f20" stroke-width="1.1"/>
<text x="0" y="0" font-family="Liberation Serif" font-size="8" text-anchor="end" fill="#231f20" stroke="#231f20" stroke-width="0.15" transform="translate(186 288.49) scale(1 0.86)">0</text>
<line x1="190" y1="269.3" x2="193.9" y2="269.3" stroke="#231f20" stroke-width="1.1"/>
<text x="0" y="0" font-family="Liberation Serif" font-size="8" text-anchor="end" fill="#231f20" stroke="#231f20" stroke-width="0.15" transform="translate(186 271.39) scale(1 0.86)">0.1</text>
<line x1="190" y1="252.6" x2="193.9" y2="252.6" stroke="#231f20" stroke-width="1.1"/>
<text x="0" y="0" font-family="Liberation Serif" font-size="8" text-anchor="end" fill="#231f20" stroke="#231f20" stroke-width="0.15" transform="translate(186 254.69) scale(1 0.86)">0.2</text>
<line x1="190" y1="235.9" x2="193.9" y2="235.9" stroke="#231f20" stroke-width="1.1"/>
<text x="0" y="0" font-family="Liberation Serif" font-size="8" text-anchor="end" fill="#231f20" stroke="#231f20" stroke-width="0.15" transform="translate(186 237.99) scale(1 0.86)">0.3</text>
<line x1="191.6" y1="277.8" x2="193.9" y2="277.8" stroke="#231f20" stroke-width="1.0"/>
<line x1="191.6" y1="261" x2="193.9" y2="261" stroke="#231f20" stroke-width="1.0"/>
<line x1="191.6" y1="244.3" x2="193.9" y2="244.3" stroke="#231f20" stroke-width="1.0"/>
<line x1="198.9" y1="290.9" x2="198.9" y2="295.7" stroke="#231f20" stroke-width="1.1"/>
<text x="0" y="0" font-family="Liberation Serif" font-size="8" text-anchor="middle" fill="#231f20" stroke="#231f20" stroke-width="0.15" transform="translate(198.9 305.4) scale(1 0.86)">0</text>
<line x1="221.1" y1="290.9" x2="221.1" y2="295.7" stroke="#231f20" stroke-width="1.1"/>
<text x="0" y="0" font-family="Liberation Serif" font-size="8" text-anchor="middle" fill="#231f20" stroke="#231f20" stroke-width="0.15" transform="translate(221.1 305.4) scale(1 0.86)">0.5</text>
<line x1="243.5" y1="290.9" x2="243.5" y2="295.7" stroke="#231f20" stroke-width="1.1"/>
<text x="0" y="0" font-family="Liberation Serif" font-size="8" text-anchor="middle" fill="#231f20" stroke="#231f20" stroke-width="0.15" transform="translate(243.5 305.4) scale(1 0.86)">1.0</text>
<line x1="209.9" y1="290.9" x2="209.9" y2="293.9" stroke="#231f20" stroke-width="1.0"/>
<line x1="232.3" y1="290.9" x2="232.3" y2="293.9" stroke="#231f20" stroke-width="1.0"/>
<path d="M199.50,285.20 L200.28,285.09 L201.06,284.99 L201.84,284.89 L202.62,284.81 L203.40,284.74 L204.18,284.69 L204.96,284.65 L205.74,284.62 L206.52,284.60 L207.30,284.57 L208.08,284.55 L208.86,284.52 L209.64,284.48 L210.42,284.44 L211.19,284.40 L211.97,284.35 L212.75,284.30 L213.53,284.24 L214.31,284.19 L215.09,284.13 L215.87,284.07 L216.65,284.01 L217.43,283.95 L218.21,283.89 L218.99,283.83 L219.77,283.77 L220.55,283.72 L221.33,283.66 L222.11,283.61 L222.89,283.55 L223.67,283.50 L224.45,283.44 L225.23,283.38 L226.01,283.33 L226.79,283.27 L227.57,283.22 L228.35,283.16 L229.13,283.10 L229.91,283.05 L230.69,282.99 L231.47,282.94 L232.25,282.88 L233.03,282.82 L233.81,282.77 L234.58,282.71 L235.36,282.65 L236.14,282.59 L236.92,282.54 L237.70,282.48 L238.48,282.42 L239.26,282.36 L240.04,282.31 L240.82,282.25 L241.60,282.19 L242.38,282.13 L243.16,282.08 L243.94,282.02 L244.72,281.96 L245.50,281.90" fill="none" stroke="#231f20" stroke-width="1.1"/>
<rect x="196.8" y="282.3" width="5.4" height="5.4" fill="#cf6aa6" stroke="#231f20" stroke-width="0.9"/>
<rect x="198.8" y="282.3" width="5.4" height="5.4" fill="#8a3a2c" stroke="#231f20" stroke-width="0.9"/>
<rect x="201.3" y="282" width="5.4" height="5.4" fill="#55b45a" stroke="#231f20" stroke-width="0.9"/>
<rect x="206.6" y="282" width="5.4" height="5.4" fill="#9a7bb5" stroke="#231f20" stroke-width="0.9"/>
<rect x="218.1" y="281.2" width="5.4" height="5.4" fill="#2badde" stroke="#231f20" stroke-width="0.9"/>
<rect x="242.8" y="279.2" width="5.4" height="5.4" fill="#ee9a3a" stroke="#231f20" stroke-width="0.9"/>
<line x1="313.7" y1="235.2" x2="313.7" y2="363.2" stroke="#231f20" stroke-width="1.55"/>
<line x1="312.95" y1="362.4" x2="501.8" y2="362.4" stroke="#231f20" stroke-width="1.65"/>
<line x1="308.9" y1="358.1" x2="313.7" y2="358.1" stroke="#231f20" stroke-width="1.3"/>
<text x="305.2" y="362" font-family="Liberation Sans" font-size="11" text-anchor="end" fill="#231f20" stroke="#231f20" stroke-width="0.2">0</text>
<line x1="308.9" y1="311" x2="313.7" y2="311" stroke="#231f20" stroke-width="1.3"/>
<text x="305.2" y="314.9" font-family="Liberation Sans" font-size="11" text-anchor="end" fill="#231f20" stroke="#231f20" stroke-width="0.2">0.1</text>
<line x1="308.9" y1="263.9" x2="313.7" y2="263.9" stroke="#231f20" stroke-width="1.3"/>
<text x="305.2" y="267.8" font-family="Liberation Sans" font-size="11" text-anchor="end" fill="#231f20" stroke="#231f20" stroke-width="0.2">0.2</text>
<line x1="311.1" y1="334.5" x2="313.7" y2="334.5" stroke="#231f20" stroke-width="1.2"/>
<line x1="311.1" y1="287.4" x2="313.7" y2="287.4" stroke="#231f20" stroke-width="1.2"/>
<line x1="311.1" y1="240.3" x2="313.7" y2="240.3" stroke="#231f20" stroke-width="1.2"/>
<line x1="321.8" y1="362.4" x2="321.8" y2="367.4" stroke="#231f20" stroke-width="1.3"/>
<text x="321.8" y="382" font-family="Liberation Sans" font-size="11" text-anchor="middle" fill="#231f20" stroke="#231f20" stroke-width="0.2">0</text>
<line x1="351.03" y1="362.4" x2="351.03" y2="367.4" stroke="#231f20" stroke-width="1.3"/>
<text x="351.03" y="382" font-family="Liberation Sans" font-size="11" text-anchor="middle" fill="#231f20" stroke="#231f20" stroke-width="0.2">100</text>
<line x1="380.26" y1="362.4" x2="380.26" y2="367.4" stroke="#231f20" stroke-width="1.3"/>
<text x="380.26" y="382" font-family="Liberation Sans" font-size="11" text-anchor="middle" fill="#231f20" stroke="#231f20" stroke-width="0.2">200</text>
<line x1="409.49" y1="362.4" x2="409.49" y2="367.4" stroke="#231f20" stroke-width="1.3"/>
<text x="409.49" y="382" font-family="Liberation Sans" font-size="11" text-anchor="middle" fill="#231f20" stroke="#231f20" stroke-width="0.2">300</text>
<line x1="438.72" y1="362.4" x2="438.72" y2="367.4" stroke="#231f20" stroke-width="1.3"/>
<text x="438.72" y="382" font-family="Liberation Sans" font-size="11" text-anchor="middle" fill="#231f20" stroke="#231f20" stroke-width="0.2">400</text>
<line x1="467.95" y1="362.4" x2="467.95" y2="367.4" stroke="#231f20" stroke-width="1.3"/>
<text x="467.95" y="382" font-family="Liberation Sans" font-size="11" text-anchor="middle" fill="#231f20" stroke="#231f20" stroke-width="0.2">500</text>
<line x1="497.18" y1="362.4" x2="497.18" y2="367.4" stroke="#231f20" stroke-width="1.3"/>
<text x="497.18" y="382" font-family="Liberation Sans" font-size="11" text-anchor="middle" fill="#231f20" stroke="#231f20" stroke-width="0.2">600</text>
<path d="M321.00,352.43 L321.50,352.36 L322.00,352.40 L322.50,352.50 L323.00,352.25 L323.50,352.51 L324.00,352.50 L324.50,352.58 L325.00,352.46 L325.50,352.51 L326.00,352.41 L326.50,352.44 L327.00,352.29 L327.50,352.51 L328.00,352.69 L328.50,352.52 L329.00,352.54 L329.50,352.38 L330.00,352.67 L330.50,352.41 L331.00,352.60 L331.50,352.51 L332.00,352.38 L332.50,352.62 L333.00,352.50 L333.50,352.52 L334.00,352.55 L334.50,352.50 L335.00,352.45 L335.50,352.56 L336.00,352.45 L336.50,352.51 L337.00,352.42 L337.50,352.32 L338.00,352.42 L338.50,352.44 L339.00,352.50 L339.50,352.64 L340.00,352.30 L340.50,352.52 L341.00,352.23 L341.50,352.37 L342.00,352.44 L342.50,352.23 L343.00,352.28 L343.50,352.52 L344.00,352.51 L344.50,352.49 L345.00,352.40 L345.50,352.76 L346.00,352.48 L346.50,352.40 L347.00,352.70 L347.50,352.57 L348.00,352.46 L348.50,352.64 L349.00,352.52 L349.50,352.58 L350.00,352.53 L350.50,352.38 L351.00,352.62 L351.50,352.52 L352.00,352.38 L352.50,352.41 L353.00,352.61 L353.50,352.46 L354.00,352.51 L354.50,352.58 L355.00,352.52 L355.50,352.32 L356.00,352.58 L356.50,352.61 L357.00,352.60 L357.50,352.69 L358.00,352.54 L358.50,352.59 L359.00,352.69 L359.50,352.47 L360.00,352.71 L360.50,352.71 L361.00,352.59 L361.50,352.72 L362.00,352.60 L362.50,352.39 L363.00,352.64 L363.50,352.54 L364.00,352.55 L364.50,352.52 L365.00,352.66 L365.50,352.57 L366.00,352.42 L366.50,352.56 L367.00,352.59 L367.50,352.41 L368.00,352.45 L368.50,352.45 L369.00,352.43 L369.50,352.54 L370.00,352.62 L370.50,352.73 L371.00,352.64 L371.50,352.62 L372.00,352.64 L372.50,352.66 L373.00,352.45 L373.50,352.58 L374.00,352.54 L374.50,352.48 L375.00,352.45 L375.50,352.44 L376.00,352.47 L376.50,352.35 L377.00,352.56 L377.50,352.50 L378.00,352.51 L378.50,352.54 L379.00,352.59 L379.50,352.43 L380.00,352.49 L380.50,352.31 L381.00,352.23 L381.50,352.27 L382.00,352.68 L382.50,352.28 L383.00,352.56 L383.50,352.68 L384.00,352.45 L384.50,352.70 L385.00,352.72 L385.50,352.61 L386.00,352.78 L386.50,352.57 L387.00,352.41 L387.50,352.56 L388.00,352.45 L388.50,352.34 L389.00,352.35 L389.50,352.78 L390.00,352.44 L390.50,352.50 L391.00,352.42 L391.50,352.52 L392.00,352.47 L392.50,352.45 L393.00,352.36 L393.50,352.33 L394.00,352.41 L394.50,352.54 L395.00,352.75 L395.50,352.63 L396.00,352.72 L396.50,352.56 L397.00,352.49 L397.50,352.34 L398.00,352.50 L398.50,352.24 L399.00,352.47 L399.50,352.70 L400.00,352.54 L400.50,352.64 L401.00,352.46 L401.50,352.34 L402.00,352.44 L402.50,352.45 L403.00,352.65 L403.50,352.74 L404.00,352.41 L404.50,352.46 L405.00,352.49 L405.50,352.46 L406.00,352.35 L406.50,352.51 L407.00,352.55 L407.50,352.55 L408.00,352.36 L408.80,353.29 L409.30,353.09 L409.80,353.41 L410.30,353.18 L410.80,353.27 L411.30,353.25 L411.80,353.23 L412.30,353.18 L412.80,353.09 L413.30,353.51 L413.80,353.33 L414.30,353.34 L414.80,353.56 L415.30,353.29 L415.80,353.37 L416.30,353.31 L416.80,353.45 L417.30,353.36 L417.80,353.34 L418.30,353.27 L418.80,353.34 L419.30,353.44 L419.80,353.05 L420.30,353.29 L420.80,353.25 L421.30,353.27 L421.80,353.07 L422.30,353.39 L422.80,353.20 L423.30,353.28 L423.80,353.24 L424.30,353.10 L424.80,353.25 L425.30,353.08 L425.80,353.19 L426.30,353.27 L426.80,353.30 L427.30,353.31 L427.80,353.29 L428.30,353.56 L428.80,353.36 L429.30,353.16 L429.80,353.23 L430.30,353.23 L430.80,353.28 L431.30,353.23 L431.80,353.20 L432.30,353.50 L432.80,353.31 L433.30,353.26 L433.80,353.27 L434.30,353.28 L434.80,353.47 L435.30,353.36 L435.80,353.44 L436.30,352.93 L436.80,353.34 L437.30,353.43 L437.80,353.54 L438.30,353.31 L438.80,353.10 L439.30,353.37 L439.80,353.23 L440.30,353.09 L440.80,353.23 L441.30,353.43 L441.80,353.45 L442.30,353.39 L442.80,353.18 L443.30,353.61 L443.80,353.16 L444.30,353.30 L444.80,353.13 L445.30,353.46 L445.80,353.36 L446.30,353.41 L446.80,353.32 L447.30,353.30 L447.80,353.33 L448.30,353.08 L448.80,353.42 L449.30,353.41 L449.80,353.26 L450.30,353.30 L450.80,353.34 L451.30,353.49 L451.80,353.36 L452.30,353.31 L452.80,353.24 L453.30,353.12 L453.80,353.23 L454.30,353.31 L454.80,353.27 L455.30,353.31 L455.80,353.39 L456.30,353.36 L456.80,353.34 L457.30,353.38 L457.80,353.33 L458.30,353.30 L458.80,353.36 L459.30,353.10 L459.80,353.46 L460.30,353.15 L460.80,353.41 L461.30,353.31 L461.80,353.44 L462.30,353.31 L462.80,353.19 L463.30,353.43 L463.80,353.33 L464.30,353.32 L464.80,353.32 L465.30,353.43 L465.80,353.40 L466.30,353.33 L466.80,353.12 L467.30,353.26 L467.80,353.32 L468.30,353.52 L468.80,353.35 L469.30,353.30 L469.80,353.45 L470.30,353.29 L470.80,353.30 L471.30,353.33 L471.80,353.13 L472.30,353.42 L472.80,353.36 L473.30,353.27 L473.80,353.17 L474.30,353.33 L474.80,353.47 L475.30,353.23 L475.80,353.18 L476.30,353.36 L476.80,353.12 L477.30,353.04 L477.80,353.25 L478.30,353.22 L478.80,353.27 L479.30,353.24 L479.80,353.35 L480.30,353.28 L480.80,353.23 L481.30,353.25 L481.80,353.38 L482.30,353.42 L482.80,353.42 L483.30,353.39 L483.80,352.91 L484.30,353.19 L484.80,353.27 L485.30,353.33 L485.80,353.11 L486.30,353.48 L486.80,353.34 L487.30,353.23 L487.80,353.33 L488.30,353.27 L488.80,353.22 L489.30,353.37 L489.80,353.25 L490.30,353.14 L490.80,353.23 L491.30,353.29 L491.80,353.18 L492.30,353.46 L492.80,353.18 L493.30,353.52 L493.80,353.41 L494.30,353.19 L494.80,353.32 L495.30,353.45" fill="none" stroke="#6f3a8f" stroke-width="1.3" stroke-opacity="0.7"/>
<path d="M321.00,351.38 L321.50,351.26 L322.00,351.42 L322.50,351.65 L323.00,351.23 L323.50,351.47 L324.00,351.41 L324.50,351.39 L325.00,351.36 L325.50,351.37 L326.00,351.53 L326.50,351.48 L327.00,351.29 L327.50,351.60 L328.00,351.25 L328.50,351.49 L329.00,351.43 L329.50,351.55 L330.00,351.45 L330.50,351.54 L331.00,351.41 L331.50,351.53 L332.00,351.45 L332.50,351.67 L333.00,351.33 L333.50,351.55 L334.00,351.46 L334.50,351.43 L335.00,351.34 L335.50,351.46 L336.00,351.23 L336.50,351.24 L337.00,351.49 L337.50,351.22 L338.00,351.58 L338.50,351.38 L339.00,351.44 L339.50,351.42 L340.00,351.46 L340.50,351.38 L341.00,351.36 L341.50,351.39 L342.00,351.53 L342.50,351.55 L343.00,351.56 L343.50,351.45 L344.00,351.38 L344.50,351.21 L345.00,351.49 L345.50,351.51 L346.00,351.36 L346.50,351.51 L347.00,351.56 L347.50,351.42 L348.00,351.54 L348.50,351.45 L349.00,351.20 L349.50,351.35 L350.00,351.36 L350.50,351.47 L351.00,351.31 L351.50,351.36 L352.00,351.29 L352.50,351.40 L353.00,351.42 L353.50,351.53 L354.00,351.50 L354.50,351.43 L355.00,351.44 L355.50,351.42 L356.00,351.42 L356.50,351.59 L357.00,351.11 L357.50,351.39 L358.00,351.45 L358.50,351.54 L359.00,351.28 L359.50,351.45 L360.00,351.51 L360.50,351.36 L361.00,351.18 L361.50,351.37 L362.00,351.27 L362.50,351.49 L363.00,351.31 L363.50,351.62 L364.00,351.43 L364.50,351.31 L365.00,351.35 L365.50,351.28 L366.00,351.46 L366.50,351.59 L367.00,351.38 L367.50,351.52 L368.00,351.30 L368.50,351.45 L369.00,351.69 L369.50,351.24 L370.00,351.56 L370.50,351.55 L371.00,351.18 L371.50,351.24 L372.00,351.29 L372.50,351.53 L373.00,351.36 L373.50,351.39 L374.00,351.49 L374.50,351.42 L375.00,351.44 L375.50,351.37 L376.00,351.54 L376.50,351.32 L377.00,351.61 L377.50,351.37 L378.00,351.31 L378.50,351.49 L379.00,351.46 L379.50,351.17 L380.00,351.44 L380.50,351.25 L381.00,351.31 L381.50,351.50 L382.00,351.31 L382.50,351.45 L383.00,351.36 L383.50,351.64 L384.00,351.40 L384.50,351.27 L385.00,351.28 L385.50,351.30 L386.00,351.42 L386.50,351.41 L387.00,351.52 L387.50,351.43 L388.00,351.42 L388.50,351.45 L389.00,351.39 L389.50,351.44 L390.00,351.50 L390.50,351.50 L391.00,351.34 L391.50,351.20 L392.00,351.31 L392.50,351.44 L393.00,351.11 L393.50,351.35 L394.00,351.46 L394.50,351.34 L395.00,351.27 L395.50,351.62 L396.00,351.57 L396.50,351.38 L397.00,351.57 L397.50,351.56 L398.00,351.27 L398.50,351.73 L399.00,351.29 L399.50,351.38 L400.00,351.28 L400.50,351.42 L401.00,351.25 L401.50,351.41 L402.00,351.54 L402.50,351.43 L403.00,351.37 L403.50,351.59 L404.00,351.30 L404.50,351.52 L405.00,351.37 L405.50,351.43 L406.00,351.41 L406.50,351.42 L407.00,351.40 L407.50,351.31 L408.00,351.34 L408.80,352.06 L409.30,351.99 L409.80,351.87 L410.30,351.92 L410.80,351.92 L411.30,352.00 L411.80,352.03 L412.30,352.02 L412.80,351.93 L413.30,352.01 L413.80,351.84 L414.30,351.66 L414.80,352.00 L415.30,351.81 L415.80,351.89 L416.30,351.86 L416.80,352.08 L417.30,351.86 L417.80,352.04 L418.30,351.95 L418.80,351.86 L419.30,351.81 L419.80,352.06 L420.30,352.05 L420.80,352.10 L421.30,352.22 L421.80,352.04 L422.30,352.04 L422.80,351.99 L423.30,352.02 L423.80,351.96 L424.30,351.90 L424.80,352.24 L425.30,351.78 L425.80,352.03 L426.30,352.06 L426.80,352.02 L427.30,351.89 L427.80,351.98 L428.30,351.95 L428.80,351.87 L429.30,352.00 L429.80,351.95 L430.30,351.93 L430.80,352.08 L431.30,351.87 L431.80,352.05 L432.30,351.93 L432.80,352.05 L433.30,352.01 L433.80,352.03 L434.30,351.88 L434.80,351.91 L435.30,351.90 L435.80,352.02 L436.30,352.09 L436.80,352.13 L437.30,351.94 L437.80,352.01 L438.30,351.81 L438.80,351.73 L439.30,351.90 L439.80,351.92 L440.30,351.81 L440.80,351.79 L441.30,352.06 L441.80,351.90 L442.30,351.80 L442.80,352.28 L443.30,352.02 L443.80,351.96 L444.30,352.08 L444.80,351.91 L445.30,352.19 L445.80,351.81 L446.30,351.84 L446.80,351.98 L447.30,351.91 L447.80,352.17 L448.30,351.81 L448.80,351.91 L449.30,352.03 L449.80,352.06 L450.30,352.12 L450.80,352.04 L451.30,352.26 L451.80,351.94 L452.30,352.02 L452.80,352.10 L453.30,351.96 L453.80,351.96 L454.30,351.94 L454.80,351.92 L455.30,351.86 L455.80,351.93 L456.30,351.81 L456.80,352.04 L457.30,351.81 L457.80,352.24 L458.30,352.20 L458.80,352.13 L459.30,351.97 L459.80,351.92 L460.30,352.14 L460.80,352.02 L461.30,352.06 L461.80,351.91 L462.30,352.12 L462.80,351.90 L463.30,352.01 L463.80,351.79 L464.30,351.92 L464.80,352.05 L465.30,351.94 L465.80,351.94 L466.30,352.09 L466.80,351.99 L467.30,352.14 L467.80,351.71 L468.30,352.06 L468.80,352.05 L469.30,351.81 L469.80,351.84 L470.30,352.10 L470.80,351.87 L471.30,351.92 L471.80,352.07 L472.30,351.95 L472.80,352.05 L473.30,351.89 L473.80,352.03 L474.30,352.12 L474.80,352.03 L475.30,351.73 L475.80,352.07 L476.30,352.00 L476.80,351.89 L477.30,352.16 L477.80,351.79 L478.30,352.22 L478.80,351.92 L479.30,352.18 L479.80,351.99 L480.30,351.83 L480.80,352.00 L481.30,352.03 L481.80,352.06 L482.30,352.12 L482.80,351.89 L483.30,352.05 L483.80,352.08 L484.30,351.96 L484.80,351.88 L485.30,351.88 L485.80,352.08 L486.30,352.09 L486.80,351.89 L487.30,351.83 L487.80,352.14 L488.30,351.81 L488.80,352.01 L489.30,351.90 L489.80,351.78 L490.30,352.01 L490.80,351.97 L491.30,352.17 L491.80,352.26 L492.30,351.97 L492.80,352.12 L493.30,352.12 L493.80,351.93 L494.30,351.89 L494.80,352.19 L495.30,351.95" fill="none" stroke="#17994a" stroke-width="1.3" stroke-opacity="1"/>
<path d="M321.00,349.89 L321.50,349.86 L322.00,349.88 L322.50,349.82 L323.00,349.98 L323.50,350.04 L324.00,349.85 L324.50,349.73 L325.00,349.90 L325.50,349.72 L326.00,349.82 L326.50,350.04 L327.00,350.17 L327.50,349.94 L328.00,349.77 L328.50,349.99 L329.00,349.63 L329.50,349.81 L330.00,350.08 L330.50,349.98 L331.00,349.73 L331.50,349.69 L332.00,350.00 L332.50,349.89 L333.00,349.82 L333.50,349.94 L334.00,349.82 L334.50,349.66 L335.00,349.99 L335.50,349.82 L336.00,349.77 L336.50,349.73 L337.00,349.92 L337.50,349.80 L338.00,349.97 L338.50,349.86 L339.00,350.02 L339.50,349.85 L340.00,349.82 L340.50,349.66 L341.00,349.76 L341.50,349.98 L342.00,350.26 L342.50,349.74 L343.00,349.77 L343.50,349.93 L344.00,349.95 L344.50,349.81 L345.00,349.90 L345.50,349.70 L346.00,349.86 L346.50,350.00 L347.00,350.09 L347.50,349.87 L348.00,349.86 L348.50,349.95 L349.00,350.03 L349.50,349.95 L350.00,349.80 L350.50,349.94 L351.00,350.01 L351.50,349.81 L352.00,349.73 L352.50,349.95 L353.00,349.94 L353.50,350.01 L354.00,349.90 L354.50,349.82 L355.00,349.84 L355.50,349.77 L356.00,349.78 L356.50,349.83 L357.00,349.84 L357.50,350.03 L358.00,349.75 L358.50,349.89 L359.00,349.82 L359.50,350.07 L360.00,349.93 L360.50,349.85 L361.00,349.99 L361.50,349.90 L362.00,349.84 L362.50,350.08 L363.00,349.98 L363.50,350.10 L364.00,350.03 L364.50,349.99 L365.00,349.91 L365.50,349.76 L366.00,349.98 L366.50,349.90 L367.00,349.98 L367.50,349.89 L368.00,349.81 L368.50,349.77 L369.00,349.98 L369.50,350.05 L370.00,349.86 L370.50,349.95 L371.00,350.06 L371.50,349.80 L372.00,349.85 L372.50,349.76 L373.00,350.04 L373.50,349.93 L374.00,349.84 L374.50,349.70 L375.00,349.87 L375.50,350.01 L376.00,349.86 L376.50,349.84 L377.00,349.97 L377.50,349.75 L378.00,349.90 L378.50,349.97 L379.00,349.80 L379.50,349.80 L380.00,349.92 L380.50,349.88 L381.00,349.87 L381.50,349.92 L382.00,349.92 L382.50,349.79 L383.00,349.82 L383.50,349.95 L384.00,350.03 L384.50,350.06 L385.00,349.79 L385.50,350.03 L386.00,349.99 L386.50,349.89 L387.00,349.95 L387.50,349.99 L388.00,350.11 L388.50,349.77 L389.00,349.97 L389.50,349.88 L390.00,349.87 L390.50,350.03 L391.00,349.99 L391.50,349.78 L392.00,349.86 L392.50,349.92 L393.00,349.73 L393.50,350.00 L394.00,349.89 L394.50,349.92 L395.00,349.94 L395.50,350.11 L396.00,349.90 L396.50,349.85 L397.00,350.10 L397.50,349.84 L398.00,349.83 L398.50,349.73 L399.00,350.02 L399.50,349.93 L400.00,349.95 L400.50,349.92 L401.00,349.88 L401.50,349.80 L402.00,349.80 L402.50,349.95 L403.00,349.91 L403.50,350.09 L404.00,349.81 L404.50,349.84 L405.00,349.78 L405.50,350.06 L406.00,349.75 L406.50,349.99 L407.00,350.07 L407.50,349.88 L408.00,349.98 L408.80,350.14 L409.30,350.35 L409.80,350.20 L410.30,350.42 L410.80,350.40 L411.30,350.31 L411.80,350.51 L412.30,350.44 L412.80,350.33 L413.30,350.34 L413.80,350.22 L414.30,350.37 L414.80,350.65 L415.30,350.31 L415.80,350.45 L416.30,350.33 L416.80,350.49 L417.30,350.45 L417.80,350.37 L418.30,350.19 L418.80,350.34 L419.30,350.54 L419.80,350.37 L420.30,350.47 L420.80,350.34 L421.30,350.18 L421.80,350.45 L422.30,350.43 L422.80,350.33 L423.30,350.35 L423.80,350.43 L424.30,350.33 L424.80,350.44 L425.30,350.37 L425.80,350.12 L426.30,350.38 L426.80,350.33 L427.30,350.30 L427.80,350.44 L428.30,350.34 L428.80,350.46 L429.30,350.53 L429.80,350.41 L430.30,350.21 L430.80,350.31 L431.30,350.51 L431.80,350.37 L432.30,350.30 L432.80,350.39 L433.30,350.46 L433.80,350.43 L434.30,350.47 L434.80,350.30 L435.30,350.36 L435.80,350.37 L436.30,350.39 L436.80,350.15 L437.30,350.37 L437.80,350.24 L438.30,350.56 L438.80,350.58 L439.30,350.60 L439.80,350.49 L440.30,350.34 L440.80,350.51 L441.30,350.37 L441.80,350.47 L442.30,350.29 L442.80,350.33 L443.30,350.45 L443.80,350.61 L444.30,350.39 L444.80,350.67 L445.30,350.72 L445.80,350.25 L446.30,350.39 L446.80,350.28 L447.30,350.38 L447.80,350.33 L448.30,350.39 L448.80,350.51 L449.30,350.51 L449.80,350.43 L450.30,350.40 L450.80,350.41 L451.30,350.41 L451.80,350.47 L452.30,350.40 L452.80,350.46 L453.30,350.24 L453.80,350.49 L454.30,350.61 L454.80,350.42 L455.30,350.23 L455.80,350.56 L456.30,350.36 L456.80,350.04 L457.30,350.37 L457.80,350.47 L458.30,350.44 L458.80,350.55 L459.30,350.47 L459.80,350.41 L460.30,350.16 L460.80,350.27 L461.30,350.42 L461.80,350.48 L462.30,350.28 L462.80,350.33 L463.30,350.45 L463.80,350.17 L464.30,350.17 L464.80,350.37 L465.30,350.43 L465.80,350.34 L466.30,350.13 L466.80,350.40 L467.30,350.24 L467.80,350.48 L468.30,350.39 L468.80,350.43 L469.30,350.47 L469.80,350.34 L470.30,350.50 L470.80,350.55 L471.30,350.45 L471.80,350.56 L472.30,350.32 L472.80,350.51 L473.30,350.43 L473.80,350.28 L474.30,350.39 L474.80,350.34 L475.30,350.33 L475.80,350.41 L476.30,350.52 L476.80,350.36 L477.30,350.41 L477.80,350.22 L478.30,350.41 L478.80,350.54 L479.30,350.49 L479.80,350.46 L480.30,350.34 L480.80,350.28 L481.30,350.39 L481.80,350.24 L482.30,350.25 L482.80,350.51 L483.30,350.29 L483.80,350.61 L484.30,350.23 L484.80,350.45 L485.30,350.26 L485.80,350.42 L486.30,350.28 L486.80,350.40 L487.30,350.38 L487.80,350.34 L488.30,350.46 L488.80,350.58 L489.30,350.33 L489.80,350.50 L490.30,350.41 L490.80,350.40 L491.30,350.66 L491.80,350.14 L492.30,350.32 L492.80,350.18 L493.30,350.36 L493.80,350.37 L494.30,350.85 L494.80,350.44 L495.30,350.61" fill="none" stroke="#6d2e20" stroke-width="1.3" stroke-opacity="1"/>
<path d="M321.00,348.85 L321.50,348.65 L322.00,348.76 L322.50,348.90 L323.00,348.72 L323.50,348.72 L324.00,348.76 L324.50,348.52 L325.00,348.60 L325.50,348.74 L326.00,348.76 L326.50,348.59 L327.00,348.66 L327.50,348.68 L328.00,348.68 L328.50,348.78 L329.00,348.71 L329.50,348.72 L330.00,348.53 L330.50,348.57 L331.00,348.74 L331.50,348.51 L332.00,348.73 L332.50,348.62 L333.00,348.60 L333.50,348.78 L334.00,348.62 L334.50,348.60 L335.00,348.62 L335.50,348.70 L336.00,349.03 L336.50,348.45 L337.00,348.70 L337.50,348.67 L338.00,348.81 L338.50,348.65 L339.00,348.40 L339.50,348.86 L340.00,348.57 L340.50,348.69 L341.00,348.53 L341.50,348.57 L342.00,348.64 L342.50,348.80 L343.00,348.80 L343.50,348.63 L344.00,348.76 L344.50,348.65 L345.00,348.71 L345.50,348.72 L346.00,348.77 L346.50,348.62 L347.00,348.68 L347.50,348.72 L348.00,348.71 L348.50,348.60 L349.00,348.90 L349.50,348.64 L350.00,348.79 L350.50,348.72 L351.00,348.84 L351.50,348.44 L352.00,348.94 L352.50,348.67 L353.00,348.55 L353.50,348.71 L354.00,348.97 L354.50,348.76 L355.00,348.55 L355.50,348.64 L356.00,348.86 L356.50,348.53 L357.00,348.67 L357.50,348.66 L358.00,348.95 L358.50,348.66 L359.00,348.85 L359.50,348.62 L360.00,348.60 L360.50,348.82 L361.00,348.77 L361.50,348.49 L362.00,348.77 L362.50,348.77 L363.00,348.62 L363.50,348.72 L364.00,348.73 L364.50,348.64 L365.00,348.63 L365.50,348.62 L366.00,348.66 L366.50,348.54 L367.00,348.69 L367.50,348.52 L368.00,348.71 L368.50,348.69 L369.00,348.57 L369.50,348.80 L370.00,348.93 L370.50,348.85 L371.00,348.53 L371.50,348.85 L372.00,348.72 L372.50,348.69 L373.00,348.63 L373.50,348.70 L374.00,348.86 L374.50,348.76 L375.00,348.65 L375.50,348.62 L376.00,348.65 L376.50,348.77 L377.00,348.92 L377.50,348.57 L378.00,348.70 L378.50,348.65 L379.00,348.61 L379.50,348.74 L380.00,348.76 L380.50,348.53 L381.00,348.57 L381.50,348.84 L382.00,348.73 L382.50,348.76 L383.00,348.64 L383.50,348.65 L384.00,348.75 L384.50,348.64 L385.00,348.56 L385.50,348.70 L386.00,348.80 L386.50,348.57 L387.00,348.82 L387.50,348.78 L388.00,348.59 L388.50,348.70 L389.00,348.69 L389.50,348.77 L390.00,348.78 L390.50,348.54 L391.00,348.54 L391.50,348.82 L392.00,348.71 L392.50,348.75 L393.00,348.74 L393.50,348.88 L394.00,348.55 L394.50,348.83 L395.00,348.60 L395.50,348.78 L396.00,348.86 L396.50,348.53 L397.00,348.74 L397.50,348.66 L398.00,348.66 L398.50,348.70 L399.00,348.57 L399.50,348.58 L400.00,348.77 L400.50,348.80 L401.00,348.63 L401.50,348.52 L402.00,348.97 L402.50,348.83 L403.00,348.74 L403.50,348.57 L404.00,348.63 L404.50,348.72 L405.00,348.58 L405.50,348.89 L406.00,348.71 L406.50,348.74 L407.00,348.57 L407.50,348.59 L408.00,348.60 L408.80,350.03 L409.30,349.96 L409.80,349.96 L410.30,350.03 L410.80,350.02 L411.30,350.17 L411.80,349.97 L412.30,349.88 L412.80,349.99 L413.30,350.17 L413.80,349.93 L414.30,350.00 L414.80,349.95 L415.30,350.04 L415.80,350.03 L416.30,349.90 L416.80,349.97 L417.30,350.11 L417.80,350.13 L418.30,350.10 L418.80,350.10 L419.30,349.96 L419.80,349.95 L420.30,350.11 L420.80,349.86 L421.30,349.99 L421.80,349.78 L422.30,349.95 L422.80,349.91 L423.30,349.85 L423.80,350.06 L424.30,349.91 L424.80,349.95 L425.30,349.97 L425.80,349.91 L426.30,350.16 L426.80,349.94 L427.30,350.02 L427.80,349.84 L428.30,349.94 L428.80,349.96 L429.30,349.96 L429.80,349.93 L430.30,350.01 L430.80,350.18 L431.30,349.98 L431.80,349.98 L432.30,349.95 L432.80,350.30 L433.30,350.19 L433.80,350.06 L434.30,350.08 L434.80,349.91 L435.30,349.98 L435.80,350.02 L436.30,350.01 L436.80,349.90 L437.30,349.90 L437.80,350.06 L438.30,350.03 L438.80,349.75 L439.30,350.01 L439.80,350.15 L440.30,349.92 L440.80,350.02 L441.30,349.83 L441.80,350.09 L442.30,349.87 L442.80,349.85 L443.30,349.96 L443.80,350.28 L444.30,349.92 L444.80,349.85 L445.30,350.05 L445.80,350.02 L446.30,350.19 L446.80,349.85 L447.30,349.81 L447.80,349.96 L448.30,350.04 L448.80,350.04 L449.30,350.12 L449.80,349.82 L450.30,349.90 L450.80,349.98 L451.30,350.10 L451.80,350.05 L452.30,349.95 L452.80,349.88 L453.30,350.10 L453.80,350.11 L454.30,350.32 L454.80,349.98 L455.30,350.19 L455.80,349.85 L456.30,349.93 L456.80,349.92 L457.30,349.94 L457.80,349.89 L458.30,349.93 L458.80,349.99 L459.30,349.94 L459.80,350.07 L460.30,349.99 L460.80,350.00 L461.30,350.17 L461.80,350.03 L462.30,350.01 L462.80,349.99 L463.30,350.00 L463.80,350.06 L464.30,349.90 L464.80,350.13 L465.30,350.18 L465.80,350.13 L466.30,349.94 L466.80,349.81 L467.30,349.95 L467.80,350.01 L468.30,350.09 L468.80,349.98 L469.30,349.96 L469.80,350.18 L470.30,349.92 L470.80,350.12 L471.30,350.10 L471.80,349.84 L472.30,350.03 L472.80,349.93 L473.30,349.89 L473.80,349.78 L474.30,349.81 L474.80,350.05 L475.30,349.95 L475.80,350.03 L476.30,349.87 L476.80,349.96 L477.30,349.96 L477.80,349.81 L478.30,349.80 L478.80,350.05 L479.30,350.01 L479.80,349.89 L480.30,349.98 L480.80,350.07 L481.30,350.21 L481.80,349.89 L482.30,350.07 L482.80,350.25 L483.30,350.00 L483.80,350.17 L484.30,349.69 L484.80,350.17 L485.30,350.00 L485.80,349.78 L486.30,350.09 L486.80,350.12 L487.30,350.14 L487.80,350.14 L488.30,349.99 L488.80,349.91 L489.30,349.94 L489.80,349.99 L490.30,350.04 L490.80,349.94 L491.30,350.00 L491.80,350.10 L492.30,350.03 L492.80,350.27 L493.30,350.25 L493.80,349.86 L494.30,349.93 L494.80,349.84 L495.30,349.86" fill="none" stroke="#e23f8c" stroke-width="1.3" stroke-opacity="0.45"/>
<path d="M321.00,347.46 L321.50,347.28 L322.00,347.27 L322.50,347.36 L323.00,347.49 L323.50,347.35 L324.00,347.35 L324.50,347.50 L325.00,347.45 L325.50,347.45 L326.00,347.51 L326.50,347.28 L327.00,347.42 L327.50,347.32 L328.00,347.52 L328.50,347.49 L329.00,347.27 L329.50,347.55 L330.00,347.26 L330.50,347.53 L331.00,347.42 L331.50,347.29 L332.00,347.26 L332.50,347.36 L333.00,347.39 L333.50,347.31 L334.00,347.46 L334.50,347.23 L335.00,347.40 L335.50,347.40 L336.00,347.18 L336.50,347.43 L337.00,347.25 L337.50,347.10 L338.00,347.32 L338.50,347.37 L339.00,347.50 L339.50,347.34 L340.00,347.57 L340.50,347.57 L341.00,347.53 L341.50,347.55 L342.00,347.44 L342.50,347.33 L343.00,347.47 L343.50,347.51 L344.00,347.42 L344.50,347.37 L345.00,347.21 L345.50,347.48 L346.00,347.44 L346.50,347.24 L347.00,347.41 L347.50,347.48 L348.00,347.38 L348.50,347.49 L349.00,347.49 L349.50,347.22 L350.00,347.36 L350.50,347.45 L351.00,347.50 L351.50,347.56 L352.00,347.17 L352.50,347.39 L353.00,347.48 L353.50,347.54 L354.00,347.60 L354.50,347.29 L355.00,347.35 L355.50,347.27 L356.00,347.49 L356.50,347.24 L357.00,347.54 L357.50,347.51 L358.00,347.45 L358.50,347.14 L359.00,347.32 L359.50,347.49 L360.00,347.23 L360.50,347.37 L361.00,347.38 L361.50,347.50 L362.00,347.43 L362.50,347.43 L363.00,347.34 L363.50,347.40 L364.00,347.38 L364.50,347.48 L365.00,347.38 L365.50,347.52 L366.00,347.19 L366.50,347.54 L367.00,347.38 L367.50,347.53 L368.00,347.41 L368.50,347.50 L369.00,347.57 L369.50,347.33 L370.00,347.41 L370.50,347.38 L371.00,347.42 L371.50,347.20 L372.00,347.38 L372.50,347.37 L373.00,347.30 L373.50,347.37 L374.00,347.21 L374.50,347.56 L375.00,347.45 L375.50,347.62 L376.00,347.29 L376.50,347.26 L377.00,347.43 L377.50,347.20 L378.00,347.42 L378.50,347.31 L379.00,347.36 L379.50,347.43 L380.00,347.40 L380.50,347.62 L381.00,347.47 L381.50,347.24 L382.00,347.51 L382.50,347.24 L383.00,347.41 L383.50,347.25 L384.00,347.30 L384.50,347.55 L385.00,347.33 L385.50,347.32 L386.00,347.33 L386.50,347.36 L387.00,347.57 L387.50,347.26 L388.00,347.25 L388.50,347.46 L389.00,347.21 L389.50,347.35 L390.00,347.53 L390.50,347.40 L391.00,347.34 L391.50,347.31 L392.00,347.29 L392.50,347.33 L393.00,347.41 L393.50,347.54 L394.00,347.51 L394.50,347.33 L395.00,347.31 L395.50,347.48 L396.00,347.18 L396.50,347.34 L397.00,347.36 L397.50,347.26 L398.00,347.28 L398.50,347.44 L399.00,347.20 L399.50,347.29 L400.00,347.32 L400.50,347.40 L401.00,347.23 L401.50,347.52 L402.00,347.36 L402.50,347.36 L403.00,347.35 L403.50,347.31 L404.00,347.28 L404.50,347.53 L405.00,347.42 L405.50,347.38 L406.00,347.51 L406.50,347.31 L407.00,347.47 L407.50,347.40 L408.00,347.29 L408.80,349.38 L409.30,349.12 L409.80,349.37 L410.30,349.19 L410.80,349.34 L411.30,349.46 L411.80,349.36 L412.30,349.22 L412.80,349.29 L413.30,349.25 L413.80,349.15 L414.30,349.16 L414.80,349.30 L415.30,349.35 L415.80,349.08 L416.30,349.28 L416.80,349.35 L417.30,349.30 L417.80,349.17 L418.30,349.41 L418.80,349.15 L419.30,349.37 L419.80,349.48 L420.30,349.05 L420.80,349.32 L421.30,349.33 L421.80,349.32 L422.30,349.20 L422.80,349.25 L423.30,349.12 L423.80,349.31 L424.30,349.35 L424.80,349.21 L425.30,349.18 L425.80,349.23 L426.30,349.29 L426.80,349.30 L427.30,349.28 L427.80,349.30 L428.30,349.13 L428.80,348.97 L429.30,349.36 L429.80,349.46 L430.30,349.12 L430.80,349.21 L431.30,349.32 L431.80,349.40 L432.30,349.36 L432.80,349.44 L433.30,349.28 L433.80,349.34 L434.30,349.34 L434.80,349.24 L435.30,349.43 L435.80,349.36 L436.30,349.40 L436.80,349.24 L437.30,349.41 L437.80,349.16 L438.30,349.33 L438.80,348.98 L439.30,349.17 L439.80,349.37 L440.30,349.24 L440.80,349.31 L441.30,349.10 L441.80,349.47 L442.30,349.36 L442.80,349.29 L443.30,349.34 L443.80,349.33 L444.30,349.45 L444.80,349.31 L445.30,349.12 L445.80,349.26 L446.30,349.44 L446.80,349.35 L447.30,349.24 L447.80,349.36 L448.30,349.30 L448.80,349.36 L449.30,349.10 L449.80,349.18 L450.30,349.37 L450.80,349.26 L451.30,349.33 L451.80,349.52 L452.30,349.25 L452.80,349.32 L453.30,349.22 L453.80,349.21 L454.30,349.28 L454.80,349.12 L455.30,349.04 L455.80,349.45 L456.30,349.28 L456.80,349.42 L457.30,349.30 L457.80,349.31 L458.30,349.37 L458.80,349.37 L459.30,349.15 L459.80,349.43 L460.30,349.17 L460.80,349.31 L461.30,349.59 L461.80,349.30 L462.30,349.48 L462.80,349.25 L463.30,349.36 L463.80,349.29 L464.30,349.34 L464.80,349.19 L465.30,349.18 L465.80,349.33 L466.30,349.10 L466.80,349.19 L467.30,349.36 L467.80,349.22 L468.30,349.18 L468.80,349.16 L469.30,349.31 L469.80,349.25 L470.30,349.31 L470.80,349.27 L471.30,349.51 L471.80,349.24 L472.30,349.06 L472.80,349.30 L473.30,349.29 L473.80,349.31 L474.30,349.10 L474.80,349.42 L475.30,349.28 L475.80,349.28 L476.30,349.10 L476.80,349.34 L477.30,349.28 L477.80,349.45 L478.30,349.24 L478.80,349.14 L479.30,349.30 L479.80,349.18 L480.30,349.34 L480.80,349.16 L481.30,349.27 L481.80,349.26 L482.30,349.28 L482.80,349.23 L483.30,349.19 L483.80,349.28 L484.30,349.22 L484.80,349.31 L485.30,349.26 L485.80,349.03 L486.30,349.28 L486.80,349.45 L487.30,349.32 L487.80,349.36 L488.30,349.34 L488.80,349.23 L489.30,349.13 L489.80,349.38 L490.30,349.41 L490.80,349.35 L491.30,349.34 L491.80,349.33 L492.30,349.29 L492.80,349.32 L493.30,349.29 L493.80,349.33 L494.30,349.18 L494.80,349.22 L495.30,349.35" fill="none" stroke="#e23f8c" stroke-width="1.3" stroke-opacity="1"/>
<line x1="495.8" y1="345.5" x2="495.8" y2="352.5" stroke="#17994a" stroke-width="1.0"/>
<line x1="453.3" y1="235.4" x2="453.3" y2="291.2" stroke="#231f20" stroke-width="1.2"/>
<line x1="452.7" y1="290.6" x2="509.6" y2="290.6" stroke="#231f20" stroke-width="1.2"/>
<line x1="449.4" y1="279" x2="453.3" y2="279" stroke="#231f20" stroke-width="1.1"/>
<text x="0" y="0" font-family="Liberation Serif" font-size="8" text-anchor="end" fill="#231f20" stroke="#231f20" stroke-width="0.15" transform="translate(446.4 281.09) scale(1 0.86)">0</text>
<line x1="449.4" y1="261" x2="453.3" y2="261" stroke="#231f20" stroke-width="1.1"/>
<text x="0" y="0" font-family="Liberation Serif" font-size="8" text-anchor="end" fill="#231f20" stroke="#231f20" stroke-width="0.15" transform="translate(446.4 263.09) scale(1 0.86)">0.1</text>
<line x1="449.4" y1="242.9" x2="453.3" y2="242.9" stroke="#231f20" stroke-width="1.1"/>
<text x="0" y="0" font-family="Liberation Serif" font-size="8" text-anchor="end" fill="#231f20" stroke="#231f20" stroke-width="0.15" transform="translate(446.4 244.99) scale(1 0.86)">0.2</text>
<line x1="457.8" y1="290.6" x2="457.8" y2="295.4" stroke="#231f20" stroke-width="1.1"/>
<text x="0" y="0" font-family="Liberation Serif" font-size="8" text-anchor="middle" fill="#231f20" stroke="#231f20" stroke-width="0.15" transform="translate(457.8 305.7) scale(1 0.86)">0</text>
<line x1="480.7" y1="290.6" x2="480.7" y2="295.4" stroke="#231f20" stroke-width="1.1"/>
<text x="0" y="0" font-family="Liberation Serif" font-size="8" text-anchor="middle" fill="#231f20" stroke="#231f20" stroke-width="0.15" transform="translate(480.7 305.7) scale(1 0.86)">0.5</text>
<line x1="502.9" y1="290.6" x2="502.9" y2="295.4" stroke="#231f20" stroke-width="1.1"/>
<text x="0" y="0" font-family="Liberation Serif" font-size="8" text-anchor="middle" fill="#231f20" stroke="#231f20" stroke-width="0.15" transform="translate(502.9 305.7) scale(1 0.86)">1.0</text>
<line x1="469.2" y1="290.6" x2="469.2" y2="293.6" stroke="#231f20" stroke-width="1.0"/>
<line x1="492.1" y1="290.6" x2="492.1" y2="293.6" stroke="#231f20" stroke-width="1.0"/>
<path d="M458.40,284.80 L459.15,284.80 L459.91,284.80 L460.66,284.80 L461.42,284.80 L462.17,284.80 L462.93,284.80 L463.68,284.80 L464.43,284.80 L465.19,284.80 L465.94,284.80 L466.70,284.80 L467.45,284.80 L468.21,284.80 L468.96,284.80 L469.71,284.80 L470.47,284.80 L471.22,284.80 L471.98,284.80 L472.73,284.80 L473.48,284.80 L474.24,284.80 L474.99,284.80 L475.75,284.80 L476.50,284.80 L477.26,284.80 L478.01,284.80 L478.76,284.80 L479.52,284.80 L480.27,284.80 L481.03,284.80 L481.78,284.78 L482.54,284.75 L483.29,284.70 L484.04,284.64 L484.80,284.56 L485.55,284.49 L486.31,284.40 L487.06,284.32 L487.82,284.23 L488.57,284.15 L489.32,284.07 L490.08,283.99 L490.83,283.92 L491.59,283.85 L492.34,283.78 L493.09,283.71 L493.85,283.63 L494.60,283.56 L495.36,283.49 L496.11,283.41 L496.87,283.34 L497.62,283.26 L498.37,283.18 L499.13,283.10 L499.88,283.02 L500.64,282.94 L501.39,282.86 L502.15,282.78 L502.90,282.70" fill="none" stroke="#231f20" stroke-width="1.1"/>
<rect x="455.7" y="282.1" width="5.4" height="5.4" fill="#cf6aa6" stroke="#231f20" stroke-width="0.9"/>
<rect x="460.3" y="282.1" width="5.4" height="5.4" fill="#8a3a2c" stroke="#231f20" stroke-width="0.9"/>
<rect x="465" y="282.1" width="5.4" height="5.4" fill="#55b45a" stroke="#231f20" stroke-width="0.9"/>
<rect x="469.5" y="282.1" width="5.4" height="5.4" fill="#9a7bb5" stroke="#231f20" stroke-width="0.9"/>
<rect x="478" y="282.1" width="5.4" height="5.4" fill="#2badde" stroke="#231f20" stroke-width="0.9"/>
<rect x="500.2" y="280" width="5.4" height="5.4" fill="#ee9a3a" stroke="#231f20" stroke-width="0.9"/>
<text x="67.4" y="21.6" font-family="Liberation Sans" font-size="10.6" text-anchor="start" fill="#231f20" stroke="#231f20" stroke-width="0.2" textLength="86.6" lengthAdjust="spacingAndGlyphs">Pigeon ADAMTS13</text>
<text x="79.3" y="43.8" font-family="Liberation Sans" font-size="10.6" text-anchor="start" fill="#231f20" stroke="#231f20" stroke-width="0.2" textLength="63" lengthAdjust="spacingAndGlyphs">840 ± 110 nM</text>
<text x="359.7" y="21.7" font-family="Liberation Sans" font-size="10.4" text-anchor="start" fill="#231f20" stroke="#231f20" stroke-width="0.2" textLength="20.6" lengthAdjust="spacingAndGlyphs">MT8</text>
<text x="340.5" y="43.8" font-family="Liberation Sans" font-size="10.4" text-anchor="start" fill="#231f20" stroke="#231f20" stroke-width="0.2" textLength="58" lengthAdjust="spacingAndGlyphs">620 ± 42 nM</text>
<text x="93.3" y="226.9" font-family="Liberation Sans" font-size="10.4" text-anchor="start" fill="#231f20" stroke="#231f20" stroke-width="0.2" textLength="35.2" lengthAdjust="spacingAndGlyphs">delT2-7</text>
<text x="84.6" y="246.7" font-family="Liberation Sans" font-size="10.4" text-anchor="start" fill="#231f20" stroke="#231f20" stroke-width="0.2" textLength="52" lengthAdjust="spacingAndGlyphs">No binding</text>
<text x="360.1" y="226.9" font-family="Liberation Sans" font-size="10.4" text-anchor="start" fill="#231f20" stroke="#231f20" stroke-width="0.2" textLength="20.3" lengthAdjust="spacingAndGlyphs">MT7</text>
<text x="343.6" y="246.7" font-family="Liberation Sans" font-size="10.4" text-anchor="start" fill="#231f20" stroke="#231f20" stroke-width="0.2" textLength="52" lengthAdjust="spacingAndGlyphs">No binding</text>
<text x="117" y="193" font-family="Liberation Sans" font-size="13" text-anchor="start" fill="#231f20" stroke="#231f20" stroke-width="0.2" textLength="59.4" lengthAdjust="spacingAndGlyphs">Time (sec)</text>
<text x="376.4" y="193" font-family="Liberation Sans" font-size="13" text-anchor="start" fill="#231f20" stroke="#231f20" stroke-width="0.2" textLength="59" lengthAdjust="spacingAndGlyphs">Time (sec)</text>
<text x="117" y="400.4" font-family="Liberation Sans" font-size="13" text-anchor="start" fill="#231f20" stroke="#231f20" stroke-width="0.2" textLength="59" lengthAdjust="spacingAndGlyphs">Time (sec)</text>
<text x="376.4" y="400.4" font-family="Liberation Sans" font-size="13" text-anchor="start" fill="#231f20" stroke="#231f20" stroke-width="0.2" textLength="59" lengthAdjust="spacingAndGlyphs">Time (sec)</text>
<text x="20.8" y="141.4" font-family="Liberation Sans" font-size="13.8" text-anchor="start" fill="#231f20" stroke="#231f20" stroke-width="0.2" textLength="87" lengthAdjust="spacingAndGlyphs" transform="rotate(-90 20.8 141.4)">Response (nm)</text>
<text x="280" y="141" font-family="Liberation Sans" font-size="13.8" text-anchor="start" fill="#231f20" stroke="#231f20" stroke-width="0.2" textLength="86.4" lengthAdjust="spacingAndGlyphs" transform="rotate(-90 280 141)">Response (nm)</text>
<text x="21.3" y="349.2" font-family="Liberation Sans" font-size="13.8" text-anchor="start" fill="#231f20" stroke="#231f20" stroke-width="0.2" textLength="87.2" lengthAdjust="spacingAndGlyphs" transform="rotate(-90 21.3 349.2)">Response (nm)</text>
<text x="280" y="349.2" font-family="Liberation Sans" font-size="13.8" text-anchor="start" fill="#231f20" stroke="#231f20" stroke-width="0.2" textLength="87.2" lengthAdjust="spacingAndGlyphs" transform="rotate(-90 280 349.2)">Response (nm)</text>
<text x="181.6" y="112.5" font-family="Liberation Sans" font-size="9.8" text-anchor="start" fill="#231f20" stroke="#231f20" stroke-width="0.2" textLength="81.2" lengthAdjust="spacingAndGlyphs">pADAMTS13 (µM)</text>
<text x="459.2" y="112.1" font-family="Liberation Sans" font-size="9.4" text-anchor="start" fill="#231f20" stroke="#231f20" stroke-width="0.2" textLength="43.6" lengthAdjust="spacingAndGlyphs">MT8 (µm)</text>
<text x="192.6" y="320.4" font-family="Liberation Sans" font-size="9.4" text-anchor="start" fill="#231f20" stroke="#231f20" stroke-width="0.2" textLength="58.8" lengthAdjust="spacingAndGlyphs">delT2-7 (µM)</text>
<text x="459.6" y="320.5" font-family="Liberation Sans" font-size="9.4" text-anchor="start" fill="#231f20" stroke="#231f20" stroke-width="0.2" textLength="44.2" lengthAdjust="spacingAndGlyphs">MT7 (µM)</text>
<text x="167.8" y="86.3" font-family="Liberation Sans" font-size="10.2" text-anchor="start" fill="#231f20" stroke="#231f20" stroke-width="0.2" textLength="68.1" lengthAdjust="spacingAndGlyphs" transform="rotate(-90 167.8 86.3)">Response (nm)</text>
<text x="428.9" y="86.5" font-family="Liberation Sans" font-size="10.2" text-anchor="start" fill="#231f20" stroke="#231f20" stroke-width="0.2" textLength="67.8" lengthAdjust="spacingAndGlyphs" transform="rotate(-90 428.9 86.5)">Response (nm)</text>
<text x="168.4" y="296.3" font-family="Liberation Sans" font-size="10.2" text-anchor="start" fill="#231f20" stroke="#231f20" stroke-width="0.2" textLength="68.9" lengthAdjust="spacingAndGlyphs" transform="rotate(-90 168.4 296.3)">Response (nm)</text>
<text x="427.4" y="295.6" font-family="Liberation Sans" font-size="10.2" text-anchor="start" fill="#231f20" stroke="#231f20" stroke-width="0.2" textLength="67.8" lengthAdjust="spacingAndGlyphs" transform="rotate(-90 427.4 295.6)">Response (nm)</text>
<g shape-rendering="crispEdges">
<rect x="0" y="0" width="520" height="1" fill="#000"/>
<rect x="1" y="1" width="518" height="1" fill="#555"/>
<rect x="0" y="0" width="1" height="417" fill="#000"/>
<rect x="1" y="1" width="1" height="415" fill="#3a3a3a"/>
<rect x="518" y="0" width="2" height="417" fill="#000"/>
<rect x="0" y="415" width="520" height="1" fill="#000"/>
<rect x="0" y="416" width="520" height="1" fill="#7a7a7a"/>
</g>
</svg>
</body></html>
